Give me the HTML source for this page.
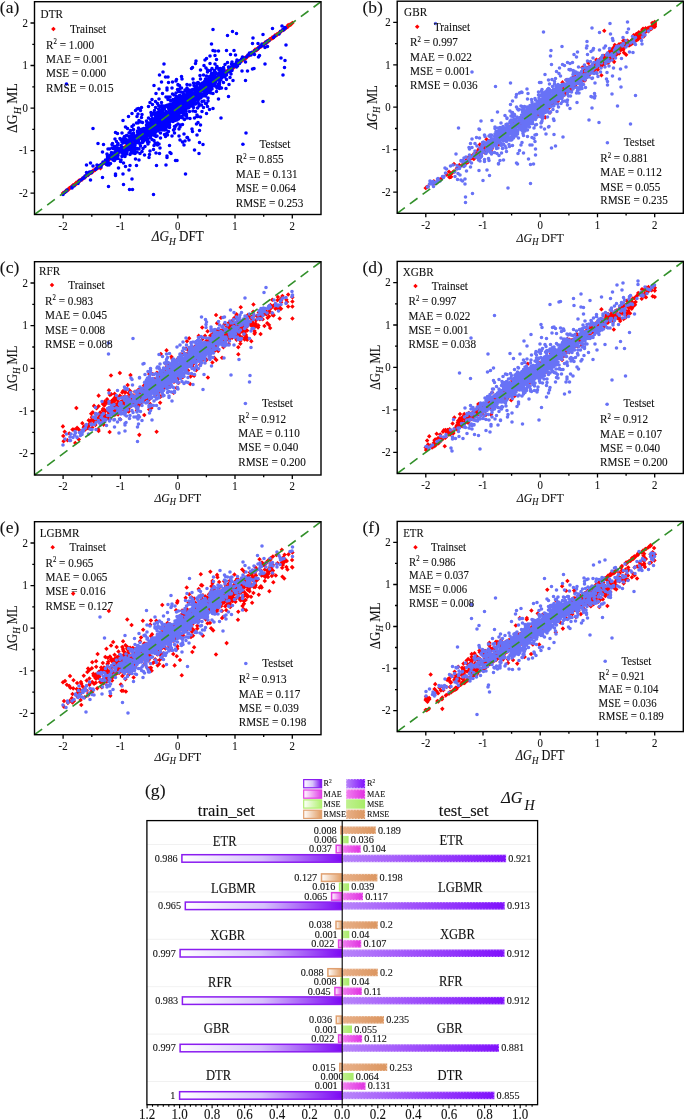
<!DOCTYPE html>
<html><head><meta charset="utf-8"><style>
html,body{margin:0;padding:0;background:#fff;}
svg{display:block;filter:blur(0.35px);}
text{font-family:"Liberation Serif", serif;fill:#111;stroke:#111;stroke-width:0.1px;}
</style></head><body>
<svg width="685" height="1120" viewBox="0 0 685 1120">
<rect width="685" height="1120" fill="#fff"/>
<path transform="rotate(45) scale(.5)" d="M362 184h0m1 0h0m0-1h0m0-1h0m0-2h0m1-1h0m0-1h0m-1-1h0m1-2h0m0-1h0m0-1h0m0-1h0m0-1h0m1-1h0m0-1h0m-1-1h0m1-1h0m0-1h0m0-3h0m0-1h0m1 0h0m0-1h0m0 2h0m-1-4h0m1-1h0m0-1h0m1-1h0m0-1h0m0-1h0m1 0h0m0-3h0m0-1h0m-1 0h0m-1 1h0m2-2h0m0-1h0m0-1h0m0-2h0m1 0h0m-2-1h0m1-1h0m0-1h0m1-1h0m0-1h0m0-1h0m1-1h0m0-2h0m-1 0h0m1-1h0m0-1h0m0-3h0m0-1h0m1 0h0m0-2h0m-1 0h0m1-1h0m0-1h0m1-3h0m0-1h0m0-3h0m1-3h0m0-1h0m0-1h0m1 0h0m-1-3h0m0-1h0m1 0h0m0-1h0m0-1h0m0-1h0m0-1h0m1 0h0m-1-2h0m1-1h0m0-1h0m0-2h0m0-1h0m-1 0h0m2-1h0m0-2h0m-1 0h0m1-1h0m0-1h0m0-2h0m0-1h0m0-1h0m0-1h0m1 0h0m0-1h0m0-2h0m0-1h0m0-2h0m0-1h0m1 0h0m0-1h0m0 2h0m-1 7h0m3 6h0m-4 4h0m3-26h0m0-3h0m-1 0h0m2 0h0m0-1h0m0-2h0m-1-1h0m5-19h0m-1-4h0m1-8h0m0-1h0m1 0h0m0-1h0m0-1h0m0-1h0m0-1h0m0-1h0m0-1h0m0-1h0m0-1h0m0-1h0m1 0h0m0-1h0m0-1h0m1-1h0m0-1h0m-1 5h0m0 1h0m0 1h0m0 2h0m-1 5h0m2-20h0m0-1h0m1 0h0m0-2h0m0-1h0m-1 0h0m0-2h0m1 0h0m0-1h0m0 2h0m2-8h0m0-3h0m0-1h0m0-3h0m23-154h0m0-1h0m5-33h0m1-1h0m-1-2h0m0-2h0m1 0h0m0-5h0m1-1h0m2-12h0m0-1h0m0-1h0m0-1h0m0-1h0m-1 0h0m1-2h0m0-1h0m0-1h0m1 0h0m0-1h0m0-2h0m-1 0h0m1-2h0m1-1h0m0-1h0m0-1h0m0-1h0m0-1h0m0-1h0m0-1h0m0-1h0m1 1h0m0 1h0m1 0h0m0 1h0m-1-5h0m0-1h0m-1 0h0m1-2h0m1 0h0m1-8h0m0-4h0m0-1h0m0-1h0m1-1h0m0-1h0m0-1h0m-1 0h0m1-1h0m0-2h0m0-1h0m0-1h0m0-1h0m1-1h0m0-1h0m0-1h0m0-1h0m0-2h0m1 0h0m0-1h0m-1-1h0m0-2h0m1-1h0m0-1h0m0-1h0m1 2h0m-1 2h0m0 4h0m0 2h0m0 3h0m-1 1h0m0 1h0m0 1h0m2-20h0m0-1h0m1-1h0m0-1h0m0-1h0m0-1h0m0-1h0m0-1h0m0-1h0m0-1h0m-1 0h0m1-2h0m1 0h0m1 0h0m-1-2h0m0-1h0m0-1h0m0-2h0m0-1h0m1-2h0m0-1h0m0-2h0m1-1h0m0-1h0m0-1h0m0-1h0m0-1h0m0-1h0m1-1h0m0-1h0m0-1h0m1 0h0m-2-1h0m1-1h0m0-1h0m0-1h0m0-2h0m1 0h0m0-1h0m0-2h0m0-1h0m1-1h0m0-1h0m0-1h0m-1 0h0m1-2h0m0-1h0m0-1h0m0-1h0m0-1h0m1 0h0m0 1h0m0 1h0m1-3h0m-1-2h0m0-2h0m1 0h0m0-1h0m0-1h0m-1 0h0m1 3h0m0-7h0m1-1h0m0-1h0m0 3h0m0-7h0m0-1h0m0-1h0m1 1h0m0 2h0m0-7h0m0-1h0m0-1h0m0-1h0m1 0h0m0-1h0m0-2h0m0-1h0m0-1h0m0-1h0m1 1h0m0-4h0m0-1h0m0-2h0m0-2h0m-1 0h0m2 0h0m0 1h0m0 2h0m0-6h0m0-1h0m1 0h0m0-1h0m0-2h0m0-1h0m0-1h0m-8 60h0m-1 3h0m0 2h0m-1 7h0m0 1h0m-1 5h0m-1 8h0m-11 74h0m-58 393h0" stroke="#ff0000" stroke-width="6.4" stroke-linecap="square" fill="none"/>
<path transform="scale(.5)" d="M126 389h0m3-4h0m3-2h0m2-3h0m10-4h0m0-2h0m4-2h0m0-1h0m8-4h0m2-4h0m2-2h0m2-1h0m4-3h0m0-1h0m1 0h0m1 0h0m2-2h0m0-2h0m1 1h0m4-4h0m1 1h0m3-3h0m0-1h0m0-2h0m3 0h0m1 1h0m1-2h0m7-4h0m2-2h0m3-3h0m2 0h0m0-1h0m1-2h0m2 0h0m0 1h0m1-1h0m0-1h0m0-1h0m1 1h0m-1 4h0m4-7h0m0-3h0m1 1h0m5 1h0m1 3h0m2 1h0m3 0h0m3-3h0m-5-3h0m-1 0h0m-1-2h0m2 0h0m-1-4h0m1-2h0m-1-2h0m0-3h0m-1-3h0m4 5h0m3 1h0m1-1h0m0-1h0m-1-2h0m4-1h0m1 3h0m1 1h0m0 1h0m2-2h0m0-3h0m2-1h0m3 0h0m0 4h0m0 1h0m0 1h0m2-3h0m0-5h0m0-1h0m-2-2h0m-1-2h0m-1 0h0m-2-3h0m-1-2h0m0-3h0m1 0h0m-4 4h0m-2-1h0m-5 2h0m-3 0h0m7 7h0m5 1h0m2-2h0m9-1h0m1 0h0m-2-3h0m2-3h0m3-2h0m1-1h0m-2-3h0m-7-1h0m1-3h0m-3-4h0m-3-5h0m10-1h0m2 3h0m2 0h0m0-1h0m3 1h0m1 1h0m1 4h0m2 0h0m2-1h0m0-1h0m0 3h0m4-1h0m0 2h0m3 0h0m1 2h0m0 1h0m-1 1h0m-2 1h0m-3 0h0m-1 5h0m-2 0h0m-1-1h0m-2 1h0m-2 3h0m0 1h0m0 1h0m0 5h0m1 0h0m-4-1h0m0 6h0m0 1h0m6 0h0m3-5h0m-1-3h0m2-1h0m-1-5h0m0-1h0m4 0h0m1 1h0m1-2h0m0-3h0m2 0h0m1 0h0m0-1h0m5 0h0m0-1h0m1 1h0m2-3h0m-3-2h0m1-1h0m2-2h0m1-2h0m0-1h0m1-2h0m-3 0h0m-1 1h0m0-4h0m-2 1h0m4 0h0m0-3h0m1 1h0m0-3h0m0-1h0m3 0h0m1 1h0m1 1h0m1 0h0m-4 0h0m1 4h0m0 3h0m2 0h0m1 0h0m-2 3h0m-1 1h0m4 1h0m1 0h0m1 0h0m0 2h0m1 4h0m-3 6h0m-3-1h0m-4-1h0m-1 6h0m-1 1h0m1 4h0m-4-1h0m-4-1h0m1-2h0m0-5h0m2 1h0m9 5h0m6 3h0m4-4h0m2-6h0m4-4h0m6-5h0m-1-4h0m3 0h0m-2-6h0m-4 1h0m-1-4h0m0-1h0m3-2h0m-1-3h0m1-1h0m-2-1h0m0-1h0m3 0h0m1-2h0m0-3h0m1 1h0m1-1h0m1 2h0m0 3h0m2 0h0m0-2h0m0-3h0m1 1h0m2-1h0m0 2h0m1 0h0m0-3h0m1 0h0m0-2h0m0-1h0m1-1h0m1-1h0m-2-1h0m-1-1h0m0-1h0m-2 0h0m0 1h0m-1 0h0m-4 0h0m-3 0h0m0-2h0m1-1h0m-3 0h0m0 5h0m-1 1h0m1 1h0m2 0h0m0 1h0m1 0h0m-2 2h0m-1 1h0m1 1h0m-5-1h0m-1-1h0m-2-1h0m-1-1h0m2-1h0m-5 2h0m-1 1h0m-1 1h0m0 2h0m1-1h0m1 2h0m2 1h0m0 2h0m3 0h0m1 1h0m1 0h0m-3 1h0m-1 1h0m0 2h0m0 1h0m0 2h0m1 0h0m2 2h0m0 4h0m-3 0h0m0-2h0m-1-1h0m-2-1h0m1-6h0m-3 0h0m0-1h0m-2 0h0m0-2h0m-1 0h0m0-2h0m-1-1h0m-1-1h0m0-2h0m1 0h0m1-6h0m-1-10h0m-3 0h0m-6 4h0m-3 3h0m3 6h0m0 7h0m0 1h0m-3 1h0m0 2h0m1 0h0m0 3h0m-5 0h0m-2 0h0m2 2h0m0 2h0m3-1h0m-1 5h0m-1 2h0m1 2h0m0 1h0m-5-5h0m-1-1h0m2 0h0m-7-2h0m-3-3h0m1-2h0m4-2h0m5-5h0m2-2h0m1-3h0m-6-4h0m-4-3h0m-5-13h0m11-8h0m7-6h0m7-6h0m3-3h0m3-1h0m4 4h0m2-6h0m1 14h0m-1 6h0m-1 9h0m3 1h0m9 0h0m2 1h0m3 0h0m-1 2h0m3-1h0m0-2h0m3 0h0m1 1h0m2 0h0m2 1h0m0 1h0m0 1h0m-1 0h0m0 1h0m1 2h0m0 1h0m3 0h0m0-2h0m1 0h0m1 0h0m0 1h0m0 3h0m0 2h0m-1 0h0m-1 0h0m0 2h0m-1 0h0m-1 0h0m0 1h0m1 4h0m-1 3h0m-3 0h0m-1-1h0m-2 1h0m-1 1h0m1 2h0m-4-1h0m-2-1h0m0 3h0m-2-1h0m4 3h0m1 2h0m3 4h0m4 2h0m2 5h0m5 0h0m-1 2h0m1 2h0m3-2h0m2 8h0m-1 11h0m-7-1h0m-5-7h0m1-8h0m-8 11h0m-1 7h0m-1 6h0m-9-5h0m-11 10h0m-7-2h0m2 13h0m-13 0h0m-9 2h0m-4-7h0m-6-3h0m1-3h0m-6-3h0m-5 0h0m-1 0h0m1 1h0m-2 3h0m-1 0h0m-2-1h0m-2-3h0m-2 0h0m-11 3h0m-6-16h0m2-15h0m-11-2h0m29 0h0m-1 2h0m11 7h0m9 3h0m0-15h0m2 2h0m-2-20h0m-9 1h0m-4-2h0m44 4h0m0 1h0m12 1h0m-1-6h0m-1-2h0m4 0h0m6-8h0m3 1h0m1 0h0m0 1h0m3 0h0m1 2h0m1-9h0m1-1h0m-2-2h0m0-5h0m2 0h0m1 0h0m-1-3h0m0-2h0m-4 2h0m-4-3h0m-4 6h0m-15-1h0m-4-8h0m2-5h0m27 1h0m0 2h0m-1-6h0m4 2h0m2-1h0m2 3h0m0 1h0m1 3h0m2-2h0m0-3h0m-1 0h0m0-1h0m3-2h0m2 0h0m3 0h0m2 1h0m2-2h0m1 0h0m1 2h0m0 3h0m-1 0h0m-4 1h0m0 1h0m-1 0h0m0 1h0m-2 0h0m1 3h0m1 1h0m0 1h0m-2 0h0m-1 0h0m-1-1h0m-2-1h0m0-1h0m1 0h0m-1 3h0m-4 1h0m0 2h0m0 1h0m-1 0h0m0 2h0m2 0h0m0-1h0m0-1h0m1 2h0m1 1h0m0 2h0m0 1h0m-2 0h0m0 1h0m-1 1h0m1-4h0m6-1h0m0-1h0m-1-2h0m1-2h0m3 0h0m2 2h0m0 2h0m-1 0h0m1 2h0m0 2h0m1 1h0m-2 2h0m0 1h0m-1 0h0m2 0h0m-3-2h0m0-3h0m6-3h0m1 0h0m1 1h0m1-1h0m0 2h0m-1 3h0m0 1h0m0 1h0m0 4h0m0 1h0m-2-1h0m2 4h0m-1 2h0m3 0h0m3-1h0m1-5h0m2-3h0m4 0h0m0-2h0m-2-1h0m-1-1h0m-1-3h0m0-2h0m0-2h0m-2 0h0m1-2h0m1 0h0m1-1h0m1 0h0m0-1h0m1 0h0m0 2h0m2-1h0m1-1h0m0-3h0m-1 0h0m-1 0h0m-2 0h0m0 1h0m-1 0h0m-2 0h0m-1-1h0m-2 0h0m0 2h0m0 1h0m0 2h0m-3 0h0m-1-1h0m-1 0h0m1-1h0m1-1h0m0-1h0m-3 0h0m-3 0h0m-1-1h0m1-1h0m0 4h0m1 0h0m0-1h0m2 5h0m2-1h0m2 2h0m2 2h0m0 4h0m1 2h0m7-5h0m0-1h0m0-1h0m1 1h0m-3-2h0m7 1h0m2 1h0m1-5h0m1-2h0m1 0h0m1-1h0m3 0h0m1 1h0m0-3h0m2 1h0m2 0h0m1 0h0m-1-3h0m-5-1h0m-2-1h0m-2 0h0m-1 0h0m0-2h0m0-1h0m-2 0h0m-1 0h0m-3 0h0m-1 1h0m0 1h0m-2-1h0m-1-1h0m-1-1h0m1-2h0m2 0h0m1 0h0m0-1h0m1-1h0m0 3h0m1 3h0m1 1h0m-1 2h0m-3 0h0m-3 0h0m-1 0h0m-1 1h0m0 2h0m-2-3h0m0-1h0m0-1h0m-1 0h0m2 1h0m0-5h0m-2-1h0m-3 4h0m0 5h0m0-14h0m-2 0h0m-3 1h0m-1 1h0m1 1h0m1-1h0m-6 1h0m-1-2h0m-1-1h0m0-7h0m3 2h0m1 0h0m2-2h0m0-6h0m-8 2h0m-4-4h0m-7-4h0m-4 6h0m5 4h0m-8 4h0m14 2h0m-2 6h0m6 8h0m11-15h0m2-2h0m4 0h0m1-1h0m1 2h0m2-3h0m4-2h0m0 5h0m4-1h0m1 0h0m0-2h0m-1 0h0m2 3h0m0 1h0m2-1h0m0-1h0m2 1h0m1 0h0m0-1h0m1-1h0m1-1h0m1-3h0m1 0h0m0-1h0m1-1h0m0-2h0m-2 0h0m-1-2h0m-3-1h0m-2 2h0m1 3h0m-3 0h0m0-6h0m-5 2h0m-5-2h0m0-5h0m-4 0h0m8 0h0m5-6h0m3 2h0m4-4h0m1 7h0m2 2h0m3-1h0m1 0h0m0-3h0m1 0h0m3 3h0m1 1h0m0 1h0m0 2h0m1 3h0m0 1h0m2 0h0m2 0h0m0-2h0m-1 0h0m0-2h0m0-3h0m-1 0h0m-1 0h0m0-3h0m1-4h0m-1-3h0m-4-1h0m-5-1h0m1-4h0m-3 0h0m5-2h0m3-1h0m-4-5h0m-3-1h0m0-1h0m-4-7h0m1-3h0m11-1h0m-1-5h0m11 16h0m0 7h0m2 4h0m0 1h0m0 3h0m-1 3h0m-1 0h0m-1 2h0m0 1h0m0 1h0m0 1h0m-1 2h0m-1 0h0m-1-4h0m6 2h0m2 2h0m0 3h0m0 2h0m2-1h0m0-1h0m1 2h0m1-1h0m2 0h0m1-1h0m0-2h0m-2-1h0m-1 0h0m2-1h0m0-3h0m-1 0h0m0-1h0m0-1h0m-2 0h0m0-2h0m-2 0h0m-1 2h0m5-2h0m0-3h0m0-3h0m2-1h0m3 1h0m3-1h0m3-1h0m2 0h0m0-2h0m-1-1h0m-2-1h0m0-2h0m-5-1h0m0-4h0m-1-1h0m7 0h0m2-1h0m1 1h0m1 2h0m3 0h0m0 5h0m2 0h0m0 1h0m2 0h0m0 1h0m1 1h0m-2 1h0m-1 0h0m-2-1h0m0 6h0m-1 0h0m-2 0h0m-1-1h0m0-2h0m-2 1h0m-1 1h0m0 4h0m2 0h0m0 1h0m-1 2h0m-2 0h0m0 2h0m0 4h0m2 0h0m2-3h0m1 0h0m0 1h0m0-4h0m2 0h0m0-3h0m0-1h0m-1-1h0m3-1h0m1-1h0m3 0h0m1 0h0m0 1h0m1-1h0m1 3h0m2 1h0m1-1h0m1-2h0m1-2h0m2-2h0m1-1h0m1-1h0m3-1h0m0-1h0m0-1h0m3 0h0m0-2h0m3-1h0m1 0h0m1 1h0m1 1h0m-1-5h0m-2 0h0m-1-2h0m-3-1h0m-3 0h0m-1 0h0m0 1h0m-1 0h0m-2 0h0m0 1h0m0 1h0m-2 1h0m-2 1h0m-2 1h0m0 2h0m-3 0h0m-1-2h0m-1-3h0m0-1h0m4 0h0m0 1h0m0-4h0m3 0h0m0 3h0m3-2h0m3-4h0m-1-2h0m1-3h0m1-2h0m1 4h0m0 4h0m0 1h0m0 4h0m0 2h0m-3 4h0m-6 2h0m-3 1h0m2 2h0m-2 10h0m-4 2h0m0 1h0m2 2h0m5 0h0m2-4h0m1-2h0m1-2h0m4 1h0m3 1h0m4 1h0m-2-9h0m-2 1h0m-1 1h0m-3 1h0m4-5h0m1-1h0m11 1h0m5 1h0m0-4h0m0-5h0m0-3h0m-3 4h0m0 1h0m-6-5h0m1-1h0m1-1h0m-5-1h0m-1-3h0m1-1h0m0-1h0m-1-2h0m1-1h0m2 0h0m0-3h0m-4 0h0m0-2h0m-2 0h0m0 1h0m0-3h0m4-1h0m2-3h0m0-2h0m2 4h0m1 2h0m2 1h0m2 0h0m1 3h0m-1 2h0m-1 1h0m0 1h0m1 0h0m0 1h0m-2 0h0m-2 0h0m-1 2h0m6 1h0m0-5h0m1 0h0m1-4h0m1-1h0m2-1h0m1 2h0m2 1h0m0 2h0m1-1h0m-2 3h0m-2 2h0m0 3h0m5 5h0m6-6h0m-3-5h0m0-5h0m1 1h0m2 0h0m-4-3h0m0-1h0m1-1h0m-2-1h0m-1 0h0m-2 0h0m-3 0h0m-4 2h0m0-6h0m-1-3h0m4 0h0m2 2h0m2 1h0m1 2h0m1-3h0m1 0h0m-1-4h0m3-6h0m5-4h0m9-1h0m0 4h0m-1 0h0m1 2h0m0 1h0m0 4h0m-1 0h0m-1 0h0m-4-1h0m-1 0h0m1 4h0m1-1h0m1 3h0m2 0h0m2 1h0m-5 1h0m0 1h0m1 1h0m-4 0h0m-1-1h0m7 5h0m-2 7h0m6 6h0m-8 8h0m-6 8h0m-9-1h0m-10 7h0m4 15h0m-21-2h0m0 6h0m-8 0h0m-4 1h0m-1 7h0m-5-2h0m0 4h0m-3 4h0m-8-1h0m-1-3h0m0-1h0m-2 0h0m0-2h0m-1 0h0m-2 0h0m-1 0h0m0-2h0m0-1h0m0-1h0m-1 0h0m2 0h0m2-1h0m-1-2h0m0-1h0m1 0h0m1 0h0m1-1h0m0-1h0m0 3h0m2-1h0m0-1h0m3 0h0m-1 2h0m0 5h0m2 0h0m0 1h0m1-2h0m4-2h0m1-5h0m-4 0h0m-1 0h0m1-1h0m-4-2h0m0-3h0m-2-1h0m-2-2h0m0-3h0m3 2h0m3-2h0m0-1h0m0-1h0m-1-2h0m0-8h0m-10-5h0m0 11h0m-2-1h0m-8 0h0m1 2h0m-1 17h0m2 2h0m2 0h0m0-1h0m0-1h0m0 3h0m0 2h0m0 1h0m-1 0h0m1 3h0m0 1h0m-1 1h0m-1 0h0m-4 0h0m1 1h0m0 2h0m-1 0h0m-1 0h0m-2-1h0m-2 0h0m0-2h0m0-1h0m-1 0h0m-1-2h0m2-1h0m1 0h0m0-1h0m0-1h0m-2-1h0m0-1h0m-3 2h0m-1 0h0m0 1h0m0 3h0m-2-1h0m0 2h0m0 2h0m1 0h0m0 3h0m-1 0h0m-1 1h0m2 0h0m0 1h0m0 1h0m-1 0h0m0 1h0m-1 0h0m0 1h0m1 1h0m1 0h0m0-1h0m1-1h0m0-1h0m1 2h0m0 2h0m-1 0h0m-4 0h0m-1-1h0m-1-1h0m-1-1h0m0-1h0m1-2h0m1 3h0m1-5h0m4 0h0m1-1h0m0 2h0m1 2h0m3 0h0m1 0h0m1 0h0m0 1h0m1 0h0m0 2h0m1 0h0m0 3h0m-3 0h0m0 3h0m1-1h0m0 2h0m2 2h0m2 0h0m0 2h0m4-2h0m0 4h0m1 4h0m6 1h0m9-1h0m5-3h0m2 0h0m-2-3h0m-3-7h0m-5-1h0m-7 1h0m-7-1h0m-1-1h0m-2 0h0m2-2h0m-2-3h0m0-1h0m4 0h0m3 1h0m2-1h0m-1-4h0m1-1h0m-1-2h0m1-1h0m-2-1h0m0-2h0m-8 0h0m0 1h0m-1 1h0m0 2h0m-2 0h0m-1 3h0m2 0h0m-1 3h0m-2 0h0m1 4h0m-3 1h0m-1 4h0m-1 1h0m1 2h0m2-2h0m-6-1h0m-1 2h0m-2 0h0m-1 0h0m-3-1h0m-1 0h0m-1-2h0m-1 0h0m0-1h0m1 0h0m-1-2h0m-1-2h0m-2 0h0m4 0h0m-2 6h0m5-1h0m0 9h0m-2 1h0m-2 0h0m0 3h0m-1 1h0m-1 1h0m-1-2h0m0-2h0m-1 0h0m9 5h0m2 1h0m1 1h0m-4 1h0m7-3h0m0-1h0m6-2h0m1 0h0m0-2h0m4 5h0m1 1h0m-4 10h0m-4 1h0m-1 4h0m-2 4h0m-9 0h0m-2 2h0m2 6h0m-5 6h0m-9-2h0m-1-4h0m3-3h0m2-8h0m10-2h0m1 1h0m2-3h0m4-3h0m-2-21h0m-15-7h0m-2-3h0m14-10h0m0-10h0m5 3h0m2-1h0m0-1h0m11 10h0m12 2h0m0 2h0m1 0h0m5-3h0m-2-3h0m14-11h0m2 0h0m0 1h0m1-1h0m9 12h0m2 0h0m2 6h0m-8 2h0m-3 8h0m9 4h0m6-8h0m7-2h0m16 19h0m-41-2h0m-5 11h0m-3 3h0m8 2h0m-2 11h0m-5 9h0m-9-7h0m-1-5h0m-16 10h0m6 7h0m1 0h0m3 5h0m-8 2h0m-5 2h0m-5-4h0m-2-8h0m-27 1h0m-2-4h0m-8-3h0m1-7h0m-1-2h0m-3-1h0m-2 6h0m-2 10h0m-2 1h0m-3-2h0m12 5h0m18 15h0m1 14h0m2 2h0m-8 5h0m0 3h0m-2 15h0m-19 1h0m38-10h0m3 0h0m17 27h0m-3-58h0m21 10h0m9 7h0m1-22h0m7 4h0m86-23h0m34-63h0m-35-42h0m4-19h0m-11 0h0m-11-8h0m0-1h0m-1-2h0m-1-3h0m3 0h0m-1-2h0m0-2h0m1-2h0m0-2h0m6 1h0m0 2h0m1 1h0m-3 1h0m1 2h0m-4 5h0m-9 2h0m0-5h0m5-19h0m-10-1h0m7-8h0m-15 0h0m-16 1h0m-7 0h0m-4-1h0m4 10h0m-10 1h0m-7 5h0m-3 3h0m-2 11h0m4 5h0m3 4h0m0 4h0m6-3h0m3-4h0m9-1h0m1-3h0m-4-5h0m-10-1h0m13-8h0m-10-31h0m3-29h0m29 12h0m10-8h0m8 4h0m33 9h0m-1 11h0m11 0h0m8 1h0m1 2h0m2-1h0m-4 3h0m-2 0h0m0 1h0m-4 3h0m-2 2h0m-5 3h0m-1 1h0m0 7h0m-7 1h0m-4 0h0m-2 0h0m4-2h0m-1-2h0m4-1h0m1 0h0m-11 9h0m-5 2h0m-1 2h0m-4 0h0m2-4h0m6 10h0m14 14h0m3-1h0m22-9h0m-13-14h0m2-3h0m11-16h0m5-2h0m-3-7h0m0-2h0m1 0h0m4-3h0m1 0h0m9-6h0m3-3h0m8-4h0m3-5h0m5-4h0m1 0h0m0 1h0m3-5h0m1 1h0m-7-4h0m-19 5h0m-19 12h0m46 21h0m-2 31h0m-8-5h0m7 19h0m-3 15h0m-142 6h0m-2-1h0m0 4h0m0 1h0m1 1h0m-12-2h0m0-1h0m2-6h0m-6-2h0m-7 1h0m1 7h0m-15 0h0m-3-21h0m2-2h0m6-8h0m1-5h0m9 18h0m-75 4h0m-7 6h0m12 4h0m5 0h0m1 11h0m8-1h0m-1 12h0m-10 0h0m0 4h0m-9 7h0m-13 0h0m6-9h0m-10-7h0m15-7h0m-5 34h0m-18 53h0m-14 33h0m-1 1h0m-25 24h0m-2 31h0m-12 8h0m-15 0h0m0 3h0m6-15h0m10 33h0m12 10h0m6 0h0m-1-21h0m-59-3h0m-24 5h0m-8-15h0m0-15h0m8-4h0m5 6h0m8-2h0m23 43h0m90 16h0m-121-132h0m-53-89h0m195-40h0m129 65h0" stroke="#0000ff" stroke-width="7.2" stroke-linecap="round" fill="none"/>
<line x1="34.5" y1="214.5" x2="321" y2="1.7" stroke="#32902a" stroke-width="1.6" stroke-dasharray="9.5 6.3"/>
<rect x="34.5" y="1.7" width="286.5" height="212.8" fill="none" stroke="#000" stroke-width="1.4"/>
<path d="M63.1 214.5v4M34.5 193.2h-4M120.4 214.5v4M34.5 150.7h-4M177.8 214.5v4M34.5 108.1h-4M235 214.5v4M34.5 65.5h-4M292.3 214.5v4M34.5 23h-4M91.8 214.5v2.2M34.5 171.9h-2.2M149.1 214.5v2.2M34.5 129.4h-2.2M206.4 214.5v2.2M34.5 86.8h-2.2M263.7 214.5v2.2M34.5 44.3h-2.2" stroke="#000" stroke-width="1.3"/>
<text transform="translate(63.1 229.7) scale(1 1.1)" font-size="10.8" text-anchor="middle">-2</text>
<text transform="translate(28 196.9) scale(1 1.1)" font-size="10.8" text-anchor="end">-2</text>
<text transform="translate(120.4 229.7) scale(1 1.1)" font-size="10.8" text-anchor="middle">-1</text>
<text transform="translate(28 154.4) scale(1 1.1)" font-size="10.8" text-anchor="end">-1</text>
<text transform="translate(177.8 229.7) scale(1 1.1)" font-size="10.8" text-anchor="middle">0</text>
<text transform="translate(28 111.8) scale(1 1.1)" font-size="10.8" text-anchor="end">0</text>
<text transform="translate(235 229.7) scale(1 1.1)" font-size="10.8" text-anchor="middle">1</text>
<text transform="translate(28 69.2) scale(1 1.1)" font-size="10.8" text-anchor="end">1</text>
<text transform="translate(292.3 229.7) scale(1 1.1)" font-size="10.8" text-anchor="middle">2</text>
<text transform="translate(28 26.7) scale(1 1.1)" font-size="10.8" text-anchor="end">2</text>
<text transform="translate(177.8 241.2) scale(1 1.1)" font-size="13.1" text-anchor="middle"><tspan font-style="italic">&#916;G</tspan><tspan font-style="italic" font-size="9.4" dy="3.1">H</tspan><tspan dy="-3.1"> DFT</tspan></text>
<text transform="translate(17.2 108.1) rotate(-90) scale(1 1.1)" font-size="13.7" text-anchor="middle">&#916;G<tspan font-style="italic" font-size="9.9" dy="3.3">H</tspan><tspan dy="-3.3"> ML</tspan></text>
<text transform="translate(-0.2 13.4) scale(1 1.0)" font-size="17.5" text-anchor="start">(a)</text>
<text transform="translate(40.6 18.2) scale(1 1.1)" font-size="11.2" text-anchor="start">DTR</text>
<path d="M53.4 28.9l.01 .01" stroke="#ff0000" stroke-width="3.2" stroke-linecap="square"/>
<text transform="translate(69.9 32.8) scale(1 1.1)" font-size="11.2" text-anchor="start">Trainset</text>
<text transform="translate(46.1 48.5) scale(1 1.1)" font-size="11.2" text-anchor="start">R<tspan font-size="6.8" dy="-4.2">2</tspan><tspan dy="4.2"> = 1.000</tspan></text>
<text transform="translate(46.1 62.8) scale(1 1.1)" font-size="11.2" text-anchor="start">MAE = 0.001</text>
<text transform="translate(46.1 77.1) scale(1 1.1)" font-size="11.2" text-anchor="start">MSE = 0.000</text>
<text transform="translate(46.1 91.7) scale(1 1.1)" font-size="11.2" text-anchor="start">RMSE = 0.015</text>
<circle cx="242.9" cy="144.2" r="1.8" fill="#0000ff"/>
<text transform="translate(259.4 147.8) scale(1 1.1)" font-size="11.2" text-anchor="start">Testset</text>
<text transform="translate(235.7 163.2) scale(1 1.1)" font-size="11.2" text-anchor="start">R<tspan font-size="6.8" dy="-4.2">2</tspan><tspan dy="4.2"> = 0.855</tspan></text>
<text transform="translate(235.7 177.8) scale(1 1.1)" font-size="11.2" text-anchor="start">MAE = 0.131</text>
<text transform="translate(235.7 192.1) scale(1 1.1)" font-size="11.2" text-anchor="start">MSE = 0.064</text>
<text transform="translate(235.7 206.5) scale(1 1.1)" font-size="11.2" text-anchor="start">RMSE = 0.253</text>
<path transform="rotate(45) scale(.5)" d="M868 -338h0m0 2h0m1-5h0m4-12h0m-3-4h0m6-11h0m1-5h0m2-12h0m7 0h0m1-2h0m1-1h0m-4-5h0m0-2h0m0-2h0m0-2h0m1-1h0m-1-8h0m-1-8h0m3 0h0m1-7h0m0-2h0m-2-2h0m1-6h0m4 2h0m0 2h0m1-3h0m-1-6h0m0-2h0m-2 0h0m-3-1h0m3-3h0m1 0h0m1-1h0m0-1h0m-2-1h0m1-1h0m0-1h0m-1-1h0m2 0h0m-1-2h0m0-2h0m1-1h0m2 0h0m0 2h0m-1 1h0m2 2h0m1-3h0m1 0h0m2-2h0m-4-2h0m0-1h0m-1-1h0m-1-1h0m-2-1h0m-1 3h0m0 1h0m0-9h0m1 1h0m2 0h0m1-1h0m0-1h0m0-1h0m3-2h0m0-2h0m-1-1h0m0-1h0m-1-1h0m3 0h0m0-1h0m0-1h0m-1 0h0m2 0h0m0 1h0m1 1h0m-1 2h0m0 2h0m0 2h0m1-1h0m1-2h0m2 2h0m-2 10h0m-4 1h0m-1-2h0m-1-1h0m-4-11h0m1-4h0m1-2h0m-1-2h0m4-1h0m1 1h0m-1 2h0m3-10h0m3-2h0m-8 0h0m-1-1h0m-6 1h0m12-6h0m-2-11h0m10-6h0m0-7h0m-1 0h0m-5-20h0m-1-10h0m3 0h0m2-1h0m2-6h0m0-1h0m0-3h0m1-2h0m1 1h0m1 0h0m0-3h0m3 0h0m-1 2h0m1 1h0m1 2h0m-3 2h0m0 2h0m1 1h0m-4-18h0m-5-19h0m20-3h0m3 0h0m2-4h0m11-5h0m0-14h0m-11-1h0m3-4h0m1-11h0m-6 0h0m1 2h0m-14-2h0m1 15h0m0 3h0m1 0h0m1 1h0m0 1h0m1 0h0m0-1h0m0-2h0m0-1h0m1 0h0m0 1h0m0 1h0m1 0h0m0-1h0m0-1h0m1 0h0m0 2h0m0 1h0m-1 0h0m-1 1h0m0 1h0m-1 0h0m-1 1h0m0 2h0m1 0h0m0-1h0m1 0h0m0-1h0m1 0h0m0-1h0m1 0h0m0-1h0m-1 3h0m-1 1h0m2 0h0m-8-1h0m19-33h0m3-1h0m0-16h0m0-1h0m-1-1h0m-3-1h0m0-1h0m0-1h0m-1 0h0m0-1h0m-1 0h0m-2 0h0m0-1h0m-1 0h0m-1 0h0m-1 0h0m0 1h0m1 1h0m0 1h0m1 0h0m0-1h0m0-3h0m0-1h0m0-1h0m-1 0h0m0-1h0m0-1h0m-1 0h0m-1 0h0m-1-1h0m0-1h0m1 0h0m1 1h0m1 0h0m0-1h0m0-1h0m1 0h0m0-1h0m1 0h0m0 1h0m0 1h0m-1 0h0m1 1h0m0 1h0m0 1h0m0 1h0m0 1h0m0 1h0m1 0h0m0-1h0m0-1h0m1 0h0m0-1h0m0-2h0m-1 0h0m0-1h0m2-3h0m0-1h0m1-1h0m0 2h0m1 0h0m1-1h0m0-1h0m0-1h0m1 0h0m1 1h0m0 2h0m-1 1h0m1 1h0m3-2h0m0-6h0m-6 0h0m-1 0h0m0 1h0m-1 0h0m2 1h0m1-1h0m-5-5h0m-1-4h0m3 1h0m6-1h0m0 2h0m3-1h0m-3-4h0m0-2h0m1-3h0m1-10h0m0-1h0m0-1h0m-1-1h0m2 3h0m1 0h0m1-1h0m3-1h0m-2-7h0m-7 0h0m-1-1h0m-1 0h0m0-1h0m0-1h0m-1 0h0m0-2h0m0-1h0m1-1h0m1 0h0m0-1h0m1 0h0m0-1h0m0 2h0m0 1h0m-1 0h0m1 1h0m0 1h0m0 1h0m-1 1h0m0 3h0m0 1h0m-1 0h0m-6 3h0m1 10h0m-3 0h0m-2 4h0m1 3h0m2-2h0m-9 12h0m-2 9h0m5 3h0m1 7h0m0 1h0m1 1h0m1 1h0m0-4h0m5 1h0m1-2h0m1-1h0m1 0h0m0-1h0m0 4h0m1-1h0m1 3h0m2-2h0m1 0h0m-7 3h0m2 3h0m-6-16h0m0-50h0m2 1h0m1-1h0m2 2h0m1-1h0m1-2h0m-1-2h0m-1 0h0m-1-2h0m2-6h0m7 0h0m2-1h0m0-1h0m2 0h0m0 2h0m1 0h0m-3 1h0m1 1h0m0 2h0m-1 0h0m0 1h0m-1 0h0m-1-1h0m0 2h0m0 1h0m-1 1h0m-1 1h0m0 3h0m0 1h0m1-1h0m1 1h0m0 1h0m0 1h0m0 2h0m-1 0h0m-1-1h0m3-3h0m0-1h0m2 1h0m0 1h0m1-2h0m0-18h0m-1 0h0m-1 0h0m-1 0h0m-1 0h0m-1 0h0m0-1h0m0-1h0m-1 0h0m-1-1h0m-2 0h0m0 1h0m1 1h0m0 1h0m3 2h0m1-1h0m1 0h0m1 0h0m-1-2h0m-1 0h0m0-3h0m-1 0h0m-1 0h0m0-1h0m0-1h0m0-1h0m0-1h0m-1 0h0m-2 0h0m0 3h0m4 0h0m0-1h0m1 0h0m0 1h0m1 0h0m0 1h0m0 1h0m1 0h0m0-1h0m0 2h0m1 1h0m1-1h0m0-1h0m0-1h0m1 0h0m-2-1h0m0-1h0m-1-1h0m0-1h0m-1 0h0m-1 0h0m0-1h0m0-1h0m2-1h0m1 0h0m0-1h0m1 0h0m0 1h0m0-3h0m-1 0h0m-1 0h0m-2 0h0m0-1h0m1-1h0m1 0h0m0-1h0m1 0h0m0-1h0m0-1h0m0-1h0m0-1h0m0-1h0m-1 0h0m-1 0h0m-1 1h0m-2-1h0m1-2h0m3 0h0m0 1h0m1-1h0m0-1h0m0-1h0m-1 0h0m0-1h0m-1-1h0m1-1h0m0-1h0m1 1h0m0 1h0m1 0h0m0-2h0m1-1h0m1 0h0m0 1h0m1 0h0m-2 1h0m0 2h0m0 2h0m-1 0h0m1 2h0m0 1h0m1 0h0m0-1h0m0-1h0m0 3h0m0 1h0m-2 0h0m0 1h0m0 1h0m1 0h0m0 2h0m-2 0h0m3 1h0m1 3h0m1 0h0m1 1h0m-4 3h0m0 1h0m-2-1h0m-1-1h0m-2-9h0m1-1h0m-4 0h0m1-8h0m0-2h0m2-3h0m3 0h0m1-3h0m1 0h0m0 1h0m1 0h0m0-1h0m0 2h0m1-1h0m0-2h0m0-1h0m-1-2h0m-1 0h0m-1-1h0m0-2h0m0-3h0m1 0h0m0-2h0m-1 0h0m-1 0h0m0 1h0m-4 0h0m1-4h0m0-5h0m-2-5h0m8-1h0m1-1h0m0-1h0m1-1h0m2 0h0m1 0h0m0-2h0m-1 0h0m-1 0h0m0-2h0m0-1h0m-1 0h0m-1-1h0m-1 0h0m-1 1h0m-1 2h0m-1 1h0m7-2h0m0-1h0m0-1h0m1-1h0m1 0h0m0-1h0m0 2h0m1 0h0m0 1h0m0 1h0m1 0h0m0 3h0m3 0h0m-3 4h0m-2 1h0m-1 1h0m-1 0h0m0 1h0m1 0h0m1 0h0m0 1h0m0 3h0m-3 0h0m0 1h0m-1 2h0m0 1h0m0 1h0m-1 0h0m-1 0h0m0 1h0m-1 0h0m2 0h0m0 2h0m1 0h0m0-1h0m1 0h0m0 2h0m-1 0h0m0 1h0m0 1h0m-1 0h0m0 3h0m-1 0h0m2 0h0m2-1h0m0 3h0m0 1h0m-1 1h0m2 1h0m0-3h0m2 1h0m2 1h0m-3 3h0m-4 0h0m5 4h0m1 4h0m-3 7h0m-2 0h0m-2-3h0m-14 8h0m-7 16h0m-2 15h0m25-19h0m13 3h0m-1-37h0m-9-8h0m0-3h0m0-2h0m1 1h0m1-1h0m-1-4h0m-3 2h0m-6-2h0m3-5h0m0-3h0m2 0h0m0-1h0m0-1h0m1 1h0m6 7h0m6-8h0m6 0h0m-13-10h0m-2-2h0m-2 0h0m2-2h0m0-1h0m0-1h0m-1 0h0m0-3h0m1 1h0m1 1h0m0-3h0m-1-1h0m-2 0h0m-1-1h0m-1 3h0m-3 1h0m-2 2h0m4 1h0m7 0h0m-1 2h0m5-4h0m1-4h0m-4 0h0m0-1h0m-1 0h0m0-2h0m0-2h0m0-1h0m1-1h0m0-1h0m-1-1h0m1-1h0m1 0h0m1 0h0m0 1h0m1 0h0m0-1h0m2 0h0m-1 2h0m-1 2h0m-2 0h0m0 1h0m1 2h0m3-2h0m0-8h0m1-1h0m1-3h0m-4 0h0m-3 0h0m0 2h0m1 0h0m0-1h0m0 2h0m0 2h0m-2-1h0m-2-3h0m-2-1h0m2-6h0m2 0h0m2-2h0m1 0h0m2 0h0m0-2h0m-1 0h0m2 0h0m1 0h0m0-1h0m-1-1h0m-2-1h0m-1 0h0m1-1h0m0-2h0m-1 0h0m0-1h0m-1-1h0m-2-3h0m0-2h0m3 1h0m3-1h0m0-1h0m2 0h0m0-1h0m1-2h0m2 0h0m0-4h0m-3 0h0m0-1h0m0-1h0m-1 0h0m3 0h0m0-1h0m0-1h0m0-1h0m-1 0h0m0-1h0m1 0h0m1-3h0m0-3h0m1 0h0m0-1h0m-1-1h0m-1 0h0m0-1h0m-1-1h0m-1-1h0m-1-1h0m-2 5h0m8 1h0m1 1h0m-2 7h0m-6 5h0m0 1h0m1 1h0m-4 1h0m1 1h0m4 7h0m-1 3h0m-1 0h0m-1 1h0m2 1h0m1-1h0m1 4h0m-1 3h0m1 2h0m-4 1h0m0 1h0m-3 0h0m0 1h0m1 5h0m-4-14h0m13-1h0m-26 70h0m-1 4h0m-37-26h0m12 310h0m-4 16h0m2 4h0m-25 7h0m9 29h0m3 0h0m0-2h0m-6 26h0m-15 11h0m4 18h0" stroke="#ff0000" stroke-width="6.4" stroke-linecap="square" fill="none"/>
<path transform="scale(.5)" d="M855 374h0m1 0h0m3-6h0m2-1h0m0-3h0m-1-2h0m6 1h0m1 3h0m-3 2h0m3 5h0m5-6h0m0-1h0m0-2h0m3 0h0m0-6h0m1-1h0m4 5h0m5-9h0m2 0h0m1 0h0m-1 2h0m4-9h0m2-8h0m-3-2h0m11-4h0m5-2h0m8 1h0m0 7h0m5-1h0m1-3h0m8-1h0m2-2h0m-1-8h0m-3 1h0m0-3h0m-4 0h0m0 1h0m6-6h0m4-2h0m8 0h0m1 1h0m-2 1h0m-2 4h0m-1 1h0m3 1h0m-6 1h0m10 3h0m-2 8h0m-8 8h0m-3 16h0m-5 4h0m-3-2h0m-7-1h0m-5-6h0m-1-9h0m7 3h0m4 3h0m10 18h0m1 26h0m0 11h0m14-18h0m21-26h0m13-10h0m-5-11h0m-16 1h0m1-20h0m1 1h0m-3-2h0m-2-5h0m-1 0h0m-3-1h0m0-1h0m-5-1h0m2-4h0m2-6h0m8 2h0m-2 4h0m0 2h0m-1 1h0m8-1h0m0 3h0m-2 2h0m2-9h0m4-2h0m-1-4h0m-2 0h0m-3 1h0m-1-5h0m4-2h0m1-1h0m1-1h0m-2-1h0m1-6h0m2-1h0m1 1h0m1 0h0m1 4h0m4-1h0m0 4h0m0 4h0m3-1h0m1-3h0m1 1h0m0 5h0m-1 3h0m2 0h0m1 4h0m2 0h0m0 3h0m6-3h0m5 2h0m4 4h0m5-5h0m2-9h0m-2-6h0m-1-1h0m0-4h0m-6 0h0m-2-2h0m-4 0h0m0-2h0m-1-1h0m1-1h0m-4 0h0m0-1h0m1 0h0m0 5h0m4 1h0m1 4h0m1 2h0m-1 2h0m1 4h0m3-1h0m-11-2h0m-2-2h0m1-1h0m0-1h0m0-1h0m-2-1h0m-4-3h0m-3 0h0m2-3h0m4 0h0m2-1h0m0-4h0m-1-2h0m-2-2h0m-2-1h0m2-2h0m3 0h0m6 3h0m3 0h0m3 0h0m2-1h0m-1-2h0m0-3h0m2-3h0m-1-2h0m-5 1h0m0 2h0m1-1h0m-3 4h0m0-11h0m1-1h0m-1-2h0m6 2h0m4-1h0m1 1h0m4-1h0m1-1h0m0-1h0m0 4h0m2 2h0m1 1h0m0 2h0m-2-1h0m-2 1h0m-1-2h0m-2 1h0m-1 6h0m1 2h0m0 3h0m3 0h0m1 0h0m0 1h0m0-3h0m-1-2h0m0-2h0m4 0h0m0 2h0m-1 0h0m2 4h0m1 1h0m3 0h0m2 0h0m2 3h0m2 2h0m1 0h0m0 2h0m-2 0h0m4 0h0m1-1h0m0-4h0m-1 0h0m-1 0h0m3-2h0m1 1h0m1 2h0m-1-7h0m1-3h0m1-1h0m-1-2h0m0-3h0m0-1h0m-1 0h0m-1-1h0m-1 0h0m-1-1h0m0 2h0m0 2h0m-2 0h0m0 2h0m-3-1h0m0 2h0m-4 0h0m1-1h0m-3 0h0m-1 0h0m2-2h0m1-2h0m0-1h0m0-3h0m-3 1h0m-1 0h0m7 0h0m3 0h0m0-2h0m1 1h0m4-1h0m1 1h0m0 1h0m-1 1h0m2 0h0m2-1h0m3 0h0m-1-2h0m0-3h0m1-1h0m0-2h0m1 0h0m1 0h0m0-2h0m2 1h0m0 3h0m0 1h0m0 3h0m1-1h0m-4 0h0m0-1h0m-7 0h0m-3-1h0m0-3h0m-3-3h0m0-2h0m1-1h0m1-2h0m3 2h0m4 0h0m0 1h0m2 0h0m0-3h0m-2 0h0m-1 0h0m3-2h0m1 0h0m0 3h0m1 1h0m3 1h0m3-3h0m2 1h0m0-3h0m-1-1h0m0-1h0m0-1h0m-2 1h0m4 0h0m1 3h0m0 1h0m1 0h0m1 0h0m1-2h0m1 0h0m2 2h0m0 4h0m1 0h0m1 0h0m-4 0h0m-1-1h0m-3 0h0m0 3h0m2 0h0m0 2h0m2 0h0m0-2h0m2 4h0m1 2h0m1 0h0m4 0h0m1-3h0m2 0h0m1-4h0m4 0h0m0 2h0m2 0h0m0-3h0m0-4h0m-1-2h0m0-2h0m-4-1h0m0-1h0m1 0h0m-4 0h0m-1 0h0m0-1h0m0-2h0m-1-1h0m2 0h0m2 0h0m1 1h0m1-1h0m0-2h0m1 1h0m1 0h0m0-1h0m-1-2h0m-3 0h0m0-1h0m-2 0h0m-1 0h0m1 1h0m0 1h0m-2 0h0m-1-1h0m-3 0h0m-3 0h0m-1-2h0m-2 0h0m1-2h0m1 0h0m0-1h0m2 0h0m-1-4h0m1-4h0m-5 0h0m-2-1h0m2 7h0m-6 0h0m-1 1h0m-2-2h0m-2-4h0m-12-5h0m4-7h0m7-8h0m1-5h0m6-3h0m2-1h0m2-1h0m1 1h0m12 2h0m-2-9h0m1 20h0m8 1h0m1 5h0m0 5h0m-4 2h0m-2 3h0m-1 0h0m-3 0h0m1 5h0m1-1h0m1 2h0m-1 2h0m-1 0h0m-2 0h0m6 0h0m1 1h0m-2 1h0m0 4h0m0 5h0m-1 3h0m-1 0h0m0 1h0m-1 0h0m0-2h0m-1 0h0m-2-1h0m0 2h0m0 1h0m-2-2h0m-1-2h0m0-2h0m0-1h0m1-2h0m-4 1h0m-1 2h0m-2-1h0m-9 4h0m-8 0h0m-2-2h0m-2 0h0m6-1h0m1-2h0m-5-3h0m1-1h0m-5-3h0m-10 9h0m4 5h0m0 1h0m0 11h0m-2 1h0m4 2h0m-1 9h0m2 0h0m-2 6h0m0 1h0m-2 2h0m5-1h0m1 0h0m0-1h0m1 0h0m1 1h0m2-1h0m1-3h0m5-2h0m2 0h0m2 2h0m0 3h0m2 1h0m0-3h0m0-4h0m1 0h0m3-5h0m5 0h0m2 0h0m1 1h0m-2 1h0m-2 2h0m2 2h0m5 0h0m5-2h0m-3-4h0m0-9h0m2-1h0m1-5h0m1 0h0m0-3h0m5 3h0m1-10h0m1 0h0m1 0h0m3 1h0m2 0h0m0 1h0m0 1h0m0 1h0m2 1h0m1 0h0m1-1h0m1-1h0m-3-1h0m0-4h0m0-1h0m-2 0h0m0 1h0m-1 1h0m-1-3h0m-1-2h0m0-1h0m-1 0h0m-1 0h0m0 1h0m-2-4h0m1-1h0m1-1h0m2 1h0m2 0h0m0-1h0m1-2h0m0-1h0m-2-1h0m-2 0h0m-4 2h0m-2 0h0m12 0h0m0 3h0m-1 0h0m-1 1h0m1 1h0m0 2h0m1 0h0m0 1h0m1 1h0m2 0h0m0-2h0m0-2h0m-1 0h0m-1 0h0m2-1h0m0-1h0m-1-1h0m2 0h0m2-1h0m1 0h0m0-2h0m-4 0h0m-1 0h0m-1-2h0m0-2h0m-3-1h0m0 2h0m1-3h0m0-1h0m0-1h0m4-1h0m2 0h0m0-1h0m1-1h0m-2-1h0m1-2h0m-5-2h0m-1-3h0m8-1h0m1 2h0m4 3h0m0 1h0m0 2h0m0 1h0m0 1h0m0 1h0m0 1h0m2 1h0m0-3h0m1-1h0m1 0h0m2-1h0m1 0h0m0 1h0m1-1h0m0-2h0m1 1h0m1 1h0m0 1h0m2 0h0m0 2h0m-3 0h0m0 1h0m-2 0h0m-2 0h0m-1 2h0m-2 4h0m0 4h0m0 1h0m-1 1h0m-2 1h0m-1 1h0m1 2h0m-2 1h0m-1 1h0m-1-2h0m0-3h0m-3-6h0m3-3h0m4 4h0m7-2h0m1 0h0m1 0h0m0 2h0m-1 1h0m2 1h0m0 2h0m2-1h0m0 2h0m1 0h0m0-1h0m-2 3h0m1 1h0m-4 0h0m0 1h0m-4 2h0m-1 0h0m-1 0h0m0 1h0m0 1h0m2 1h0m0 5h0m-1 2h0m-3-3h0m-2-1h0m1-1h0m-1-3h0m1-2h0m-9 2h0m-2 9h0m1 1h0m0 11h0m2-1h0m-5 7h0m-9-2h0m-14-1h0m-1 0h0m0-1h0m-6-3h0m-9-1h0m-1 12h0m1 8h0m3 4h0m5 4h0m10-5h0m-1-4h0m9 6h0m9 2h0m4 2h0m2 6h0m-6 7h0m-4 0h0m-18 0h0m2-5h0m-5 16h0m-3 6h0m11-1h0m10 12h0m4 11h0m6-1h0m4-18h0m0-12h0m-1-28h0m3-1h0m19-1h0m-3-10h0m-7-4h0m0-8h0m1-1h0m1-3h0m11-8h0m4-8h0m2-2h0m5-5h0m1-7h0m1-1h0m2-4h0m0-4h0m-2-2h0m-2-1h0m-1-1h0m-2-1h0m-1-1h0m-1 0h0m0-1h0m-1 0h0m0-1h0m-1-1h0m-1-1h0m-3 0h0m0-2h0m-2 0h0m-2 1h0m1 2h0m1 0h0m-1 3h0m0 2h0m-1 0h0m2 2h0m2 1h0m1 1h0m2 0h0m-1 2h0m2 1h0m0 1h0m1 0h0m2-1h0m1 0h0m0-1h0m-1-1h0m-1-2h0m2 0h0m1-1h0m-2-1h0m-2 0h0m-1 0h0m-2 0h0m3-1h0m0-1h0m-1-1h0m2 2h0m0-5h0m0-1h0m2 0h0m0 1h0m0 1h0m3 0h0m0-2h0m0-1h0m1 2h0m1-1h0m1-2h0m-1-2h0m-1-3h0m2-1h0m2-1h0m0-2h0m1-3h0m-5 0h0m-3 3h0m1 1h0m-5 1h0m0 2h0m-5 0h0m-2 2h0m4 2h0m7 0h0m8 0h0m1 1h0m0 1h0m2 0h0m0 1h0m0 3h0m-2 0h0m1 1h0m0 1h0m0 1h0m0 1h0m3-1h0m0-2h0m2 0h0m-1-4h0m0-1h0m1 0h0m0-2h0m1 1h0m0-3h0m1-1h0m2 0h0m0-1h0m0-1h0m1 1h0m0 2h0m1 0h0m-1 2h0m-2-1h0m0 4h0m1 1h0m1 3h0m1 6h0m5-1h0m3 1h0m1 1h0m1-4h0m0 10h0m5 7h0m-23-3h0m-2-6h0m7-1h0m-17-4h0m1-1h0m4-4h0m1-5h0m1 1h0m2-4h0m1-1h0m0-1h0m1-2h0m2 1h0m0-3h0m1-1h0m1 0h0m0 1h0m1-2h0m0-2h0m1 0h0m0-1h0m1 2h0m3 3h0m0 2h0m1-3h0m1-1h0m1-1h0m1 0h0m1 0h0m0-4h0m0-1h0m0-2h0m1 0h0m3-2h0m2 0h0m0 1h0m1-3h0m1-2h0m2 0h0m2-1h0m1 2h0m2-1h0m0-1h0m0 3h0m0 3h0m-1 0h0m0 1h0m-2-2h0m-2 1h0m-1-2h0m-2-5h0m1-1h0m-3-1h0m1-1h0m-2-2h0m0-2h0m-3 1h0m2 7h0m1 1h0m-6 0h0m1 1h0m-5 0h0m-1 0h0m1 2h0m-4 0h0m1 4h0m-2 2h0m-2 0h0m-2 1h0m0-3h0m-3-1h0m-1 0h0m1-2h0m3-2h0m0-1h0m-7-1h0m0-5h0m2-6h0m-7 2h0m-7 1h0m2 8h0m-2 9h0m-2 2h0m-1 2h0m4 2h0m1-4h0m2 2h0m4-8h0m6 14h0m2-2h0m2-2h0m1-1h0m1 0h0m17 0h0m1 0h0m0 1h0m1-1h0m0-2h0m0-2h0m-2 0h0m-1 1h0m2-2h0m3 4h0m0 2h0m5 1h0m3-6h0m1-2h0m6-1h0m3 3h0m1 1h0m-2 2h0m-2 5h0m5 0h0m2-8h0m-1-3h0m2-1h0m2-2h0m-3-3h0m-1-2h0m-5 0h0m1-1h0m1-1h0m0-4h0m-2-1h0m-1-3h0m1-1h0m-4 0h0m1-1h0m0 3h0m-2 0h0m0 1h0m0 2h0m-2-1h0m0-2h0m0-2h0m-2 1h0m-2-1h0m-3 2h0m4 3h0m2 1h0m1 1h0m0 1h0m3-1h0m2 1h0m-3 5h0m15-3h0m3 3h0m4 6h0m-7 2h0m-2-16h0m-1-3h0m-3-1h0m1-3h0m1 0h0m-2-2h0m-2-1h0m0-5h0m-4 1h0m0-3h0m-5 1h0m1-3h0m-2-1h0m-6-1h0m1-1h0m-3 0h0m2-12h0m-5-2h0m10 0h0m3-16h0m5 5h0m2-10h0m20 5h0m0 13h0m6 1h0m7 2h0m-3 4h0m-1 2h0m3 3h0m2 2h0m1-1h0m3-1h0m1-5h0m2-1h0m0-4h0m-2 0h0m3-1h0m-1-2h0m3 3h0m1 0h0m0-1h0m3 3h0m0-7h0m-1-2h0m1-2h0m2-4h0m8-1h0m4 1h0m3-1h0m3-1h0m1-1h0m0-1h0m5 0h0m1 1h0m-2 4h0m-3 1h0m-1 7h0m-9 0h0m1-2h0m2 5h0m-4 1h0m-3 3h0m-1-6h0m0 13h0m-8 2h0m-1 8h0m-9 1h0m2 2h0m-6 0h0m-3-1h0m-4-1h0m-1 2h0m-5 1h0m-2 3h0m-4-1h0m0-1h0m-2 4h0m-1 0h0m-2-1h0m-1-1h0m0-1h0m-1-2h0m-2 0h0m3-4h0m0-1h0m2-6h0m6-2h0m-2-5h0m9 4h0m1 1h0m-2 1h0m-1 3h0m-2 1h0m1 2h0m-4 0h0m8 0h0m6-2h0m1-1h0m-4-3h0m15-5h0m21 1h0m9 4h0m14 2h0m11-4h0m-9-17h0m-12-1h0m0-15h0m-2 0h0m0-1h0m1 0h0m1-3h0m3 0h0m-1-4h0m3 1h0m1-2h0m6-2h0m2 2h0m2-5h0m5-6h0m-6-6h0m8-10h0m3-7h0m-2-14h0m-35 3h0m1 21h0m4 9h0m1 4h0m-7 16h0m-11-1h0m3-4h0m4 14h0m-16-6h0m-13 0h0m1-3h0m-5 6h0m-9-7h0m1-4h0m0-9h0m10-27h0m15 9h0m-13 51h0m-1 40h0m-1 1h0m-6-3h0m-7 1h0m-1 0h0m-2 0h0m4 1h0m-2 4h0m-6-3h0m-18-8h0m11-15h0m-28-3h0m-4-2h0m-6 7h0m-1 11h0m3 5h0m-8-9h0m-10-14h0m-2-17h0m1-11h0m22-8h0m-37-29h0m3 85h0m-8 16h0m-3 0h0m5 14h0m-1 3h0m1 3h0m1 1h0m2 1h0m3-3h0m-13 0h0m0 6h0m3 1h0m2-1h0m4 3h0m0 4h0m-1 0h0m1 1h0m-2 3h0m4 0h0m6-4h0m0 14h0m-1 1h0m-1 0h0m3 2h0m4-1h0m1-2h0m2 2h0m-14 8h0m-7-15h0m-1-1h0m34 18h0m-7 15h0m1 3h0m-10 12h0m-1 1h0m11 15h0m18 5h0m-15 18h0m-8 4h0m-78-5h0m-6 2h0m-1-4h0m-8 3h0m2 4h0m1 7h0m0-20h0m1-5h0m-5 1h0m-2 2h0m-2-4h0m-6 1h0m0 2h0m2 0h0m-4-1h0m-1-1h0m-1-1h0m-1-1h0m0 4h0m1 1h0m2 1h0m1-6h0m9 12h0m-20 2h0m-4 8h0m-10 2h0m1 4h0m-2 3h0m-3 12h0m0 4h0m9-2h0m-1-4h0m23 4h0m7-1h0m-10 7h0m0 1h0m36-2h0m2 2h0m26 39h0m-45 9h0m-77-66h0m0-12h0m-1-3h0m6 0h0m-3-8h0m9 0h0m4 5h0m-1-17h0m6 1h0m11-3h0m-1-3h0m-10-11h0m-1-1h0m4-16h0m22-1h0m18 5h0m-7-22h0m-4-51h0m30-7h0m-77-22h0m0 134h0m-27-22h0m-5 52h0m-41-261h0m257 144h0m7-3h0m2 4h0m4 0h0m13 13h0m28-12h0m2 1h0m5 2h0m1-4h0m-1-5h0m1-21h0m6-13h0m17 5h0m2 5h0m0 7h0m-1-25h0m11 7h0m14 6h0m3 16h0m-18 14h0m11 24h0m-51 4h0m-6 24h0m20 5h0m63 3h0m10-57h0m-5-86h0m-7-1h0m-7-10h0m3-4h0m6-4h0m2-2h0m4-1h0m2 3h0m2 3h0m-3-11h0m-2-3h0m-1-2h0m6 2h0m14-1h0m1-7h0m4 3h0m-1-8h0m8 0h0m5-5h0m-19 24h0m1 7h0m-48 15h0m1 1h0" stroke="#6872f6" stroke-width="7.2" stroke-linecap="round" fill="none"/>
<line x1="397.2" y1="213.3" x2="683.3" y2="1.2" stroke="#32902a" stroke-width="1.6" stroke-dasharray="9.5 6.3"/>
<rect x="397.2" y="1.2" width="286.1" height="212.1" fill="none" stroke="#000" stroke-width="1.4"/>
<path d="M425.8 213.3v4M397.2 192.1h-4M483 213.3v4M397.2 149.7h-4M540.2 213.3v4M397.2 107.2h-4M597.5 213.3v4M397.2 64.8h-4M654.7 213.3v4M397.2 22.4h-4M454.4 213.3v2.2M397.2 170.9h-2.2M511.6 213.3v2.2M397.2 128.5h-2.2M568.9 213.3v2.2M397.2 86h-2.2M626.1 213.3v2.2M397.2 43.6h-2.2" stroke="#000" stroke-width="1.3"/>
<text transform="translate(425.8 228.5) scale(1 1.1)" font-size="10.8" text-anchor="middle">-2</text>
<text transform="translate(390.7 195.8) scale(1 1.1)" font-size="10.8" text-anchor="end">-2</text>
<text transform="translate(483 228.5) scale(1 1.1)" font-size="10.8" text-anchor="middle">-1</text>
<text transform="translate(390.7 153.4) scale(1 1.1)" font-size="10.8" text-anchor="end">-1</text>
<text transform="translate(540.2 228.5) scale(1 1.1)" font-size="10.8" text-anchor="middle">0</text>
<text transform="translate(390.7 111) scale(1 1.1)" font-size="10.8" text-anchor="end">0</text>
<text transform="translate(597.5 228.5) scale(1 1.1)" font-size="10.8" text-anchor="middle">1</text>
<text transform="translate(390.7 68.5) scale(1 1.1)" font-size="10.8" text-anchor="end">1</text>
<text transform="translate(654.7 228.5) scale(1 1.1)" font-size="10.8" text-anchor="middle">2</text>
<text transform="translate(390.7 26.1) scale(1 1.1)" font-size="10.8" text-anchor="end">2</text>
<text transform="translate(540.2 242.1) scale(1 1.1)" font-size="11.9" text-anchor="middle"><tspan font-style="italic">&#916;G</tspan><tspan font-style="italic" font-size="8.6" dy="2.9">H</tspan><tspan dy="-2.9"> DFT</tspan></text>
<text transform="translate(376.9 107.2) rotate(-90) scale(1 1.1)" font-size="12.3" text-anchor="middle"><tspan font-style="italic">&#916;G</tspan><tspan font-style="italic" font-size="8.9" dy="3">H</tspan><tspan dy="-3"> ML</tspan></text>
<text transform="translate(362.4 12.9) scale(1 1.0)" font-size="17.5" text-anchor="start">(b)</text>
<text transform="translate(404.1 16) scale(1 1.1)" font-size="11.2" text-anchor="start">GBR</text>
<path d="M417.2 26.7l.01 .01" stroke="#ff0000" stroke-width="3.2" stroke-linecap="square"/>
<text transform="translate(433.9 30.7) scale(1 1.1)" font-size="11.2" text-anchor="start">Trainset</text>
<text transform="translate(410 46.4) scale(1 1.1)" font-size="11.2" text-anchor="start">R<tspan font-size="6.8" dy="-4.2">2</tspan><tspan dy="4.2"> = 0.997</tspan></text>
<text transform="translate(410 60.6) scale(1 1.1)" font-size="11.2" text-anchor="start">MAE = 0.022</text>
<text transform="translate(410 74.7) scale(1 1.1)" font-size="11.2" text-anchor="start">MSE = 0.001</text>
<text transform="translate(410 89) scale(1 1.1)" font-size="11.2" text-anchor="start">RMSE = 0.036</text>
<circle cx="607.4" cy="142.7" r="1.8" fill="#6872f6"/>
<text transform="translate(623.8 146.4) scale(1 1.1)" font-size="11.2" text-anchor="start">Testset</text>
<text transform="translate(600.2 162.4) scale(1 1.1)" font-size="11.2" text-anchor="start">R<tspan font-size="6.8" dy="-4.2">2</tspan><tspan dy="4.2"> = 0.881</tspan></text>
<text transform="translate(600.2 176.3) scale(1 1.1)" font-size="11.2" text-anchor="start">MAE = 0.112</text>
<text transform="translate(600.2 190.6) scale(1 1.1)" font-size="11.2" text-anchor="start">MSE = 0.055</text>
<text transform="translate(600.2 204.3) scale(1 1.1)" font-size="11.2" text-anchor="start">RMSE = 0.235</text>
<path transform="rotate(45) scale(.5)" d="M685 469h0m35 0h0m3-4h0m4-2h0m1 0h0m4-1h0m1 4h0m3 0h0m-1 8h0m-3 5h0m-2 2h0m-6-1h0m-2 4h0m1 2h0m5 1h0m-1-12h0m-1-4h0m3-1h0m0-14h0m-3 0h0m-1-1h0m-3-5h0m8 0h0m-1-3h0m-2-3h0m-1 0h0m-1-2h0m1-7h0m-2-2h0m4-1h0m1 1h0m1-1h0m1 5h0m-1 2h0m1 1h0m2-1h0m1 1h0m1 1h0m3 0h0m0 2h0m1-3h0m3 0h0m2-1h0m1 0h0m3-3h0m-9 0h0m0-5h0m1-2h0m-4 0h0m-1-1h0m-2 1h0m8-5h0m-1-5h0m-2-2h0m1-1h0m1-1h0m2 0h0m0 2h0m1 1h0m0-4h0m-6 0h0m-3 1h0m-5-1h0m-2 0h0m-2-3h0m0-5h0m2 0h0m2-3h0m-4-1h0m-1-5h0m4 2h0m3 0h0m0-3h0m-1-4h0m0-2h0m-1 0h0m2 1h0m5-3h0m1-4h0m4 2h0m1-4h0m0-1h0m1 2h0m2-2h0m1-1h0m0 2h0m2 1h0m1-2h0m1 0h0m0-1h0m-1-1h0m-2-1h0m-2-1h0m5-1h0m1 0h0m1-1h0m0 2h0m0 2h0m0 2h0m-1 0h0m0 1h0m2-1h0m2 1h0m1 0h0m1 0h0m0 2h0m0 2h0m-1 0h0m0 2h0m1 0h0m1-2h0m2 1h0m0 1h0m0-4h0m0-3h0m2-1h0m1 2h0m3-4h0m1-5h0m2-2h0m1 5h0m0-11h0m-2-1h0m-1-1h0m-2 0h0m-1 0h0m-1-1h0m-2 0h0m-1-1h0m-2 0h0m0-1h0m0-1h0m-1 0h0m-1 0h0m0 1h0m-3 0h0m-1 1h0m-2 0h0m1-2h0m-3 0h0m-1-3h0m1-3h0m2 1h0m2 0h0m0 1h0m1 0h0m2-1h0m1 0h0m1 0h0m0 1h0m1-1h0m0-1h0m0 3h0m0 1h0m1 1h0m-4 0h0m-1 3h0m0 1h0m-1 2h0m0 2h0m-1 4h0m-2 1h0m0 2h0m0 1h0m-1 0h0m-2-3h0m-7 2h0m-2 1h0m0-5h0m-4 0h0m-4 4h0m2 5h0m-5 1h0m1 3h0m-3-18h0m20-1h0m13 0h0m1 1h0m1 0h0m0 1h0m1 0h0m0 1h0m1 1h0m1-2h0m2-1h0m0 3h0m-1-6h0m-2 0h0m0-1h0m6 1h0m2 1h0m0-3h0m0-2h0m0-1h0m-1-2h0m7 1h0m0-3h0m2-13h0m1-5h0m1-5h0m8 4h0m0 1h0m8 9h0m-5 20h0m-1 5h0m-6-9h0m7 24h0m-17 3h0m0 1h0m-22-1h0m-1 0h0m1 5h0m2 0h0m1 0h0m2 2h0m3 3h0m1 6h0m3-2h0m-10 5h0m-9 0h0m-2-1h0m-1-1h0m2 0h0m1-3h0m1-1h0m1 0h0m1-2h0m2 0h0m0-1h0m-1-1h0m-2 0h0m-2 2h0m-2-1h0m0-2h0m1-2h0m0-2h0m2 0h0m3 1h0m0 1h0m2 2h0m-3 8h0m-8 0h0m-1-3h0m1-2h0m0-5h0m2 8h0m-6 1h0m1 5h0m0 1h0m2 0h0m2 0h0m0-1h0m0 2h0m0 2h0m1-1h0m1-2h0m1 1h0m-8 1h0m-1 0h0m1 1h0m1 0h0m-6 0h0m-2-1h0m-13 4h0m0 7h0m3 2h0m0-5h0m2 2h0m0 7h0m-4 0h0m-3 9h0m0 6h0m-7 0h0m7 12h0m1-1h0m-1 4h0m6 4h0m15-9h0m2 0h0m10 3h0m-1 14h0m3 2h0m17-14h0m-3-33h0m-10-4h0m-1 0h0m-1-2h0m-4 0h0m0-1h0m-2 5h0m4 1h0m0 2h0m3-10h0m4-34h0m-3-4h0m1-1h0m-1-28h0m0-6h0m-4 1h0m10 5h0m-3-29h0m-1-1h0m2-9h0m4 1h0m1-1h0m0 2h0m-1-5h0m-1-9h0m-3-4h0m-2-5h0m0-1h0m3-2h0m0-1h0m4-1h0m0 2h0m0 1h0m3 0h0m1-1h0m-2-1h0m-7-8h0m-6 1h0m-2 4h0m2-16h0m-4-2h0m10 5h0m2-12h0m1-8h0m-3-2h0m3-4h0m0-2h0m5-3h0m3-3h0m-6-4h0m1-1h0m-7 2h0m-9-12h0m-1-7h0m20 4h0m0-21h0m-8 1h0m-2-1h0m9-8h0m0-1h0m12 0h0m1-2h0m2 1h0m0 2h0m0 1h0m-2 1h0m1 1h0m1 3h0m-2 1h0m-4-2h0m0-1h0m0 6h0m13 0h0m1 1h0m5 0h0m1-4h0m2-5h0m-1-2h0m2-2h0m-6 0h0m-1 0h0m2-4h0m-4 9h0m-7-4h0m-5-5h0m-1 0h0m1-3h0m1 0h0m-1-3h0m0-1h0m-3-1h0m-1 5h0m-10-2h0m-13 2h0m2-37h0m11-3h0m2 13h0m10 11h0m2-2h0m3 0h0m-1 4h0m3 5h0m2-2h0m0 6h0m5-3h0m6 0h0m1-4h0m3 1h0m-1-4h0m-4-1h0m-1-2h0m-1-1h0m-1 0h0m-1-1h0m-2 1h0m0 2h0m-1 0h0m1 1h0m1-2h0m2 4h0m4-5h0m1 0h0m0-1h0m1 0h0m0-1h0m-1-1h0m0-1h0m-2 0h0m0-1h0m-1 0h0m1-1h0m0-2h0m1 0h0m0-3h0m1 0h0m1 2h0m1 6h0m1 0h0m-1 2h0m2 2h0m2 1h0m0-5h0m3 0h0m1-7h0m0-2h0m1 3h0m2-6h0m0-4h0m1 0h0m3 1h0m0-4h0m2 0h0m2 0h0m4-1h0m6-1h0m-1-5h0m2-1h0m-5-1h0m-1-1h0m-2 2h0m-5-2h0m2-3h0m-5 0h0m1-3h0m0-1h0m-2-2h0m-2-2h0m-2-1h0m0 2h0m-4 1h0m-3 3h0m1 2h0m1 1h0m1 0h0m-1 2h0m2 1h0m0 3h0m2-1h0m1-1h0m1 1h0m1-1h0m1 0h0m1 2h0m-2 4h0m-1 1h0m-7-6h0m-3 2h0m-3 0h0m-1 0h0m0 2h0m-3-1h0m1 3h0m-2 3h0m1 1h0m1 3h0m-3 0h0m-2 0h0m-3 0h0m0-2h0m-7 2h0m4-8h0m6 0h0m0-3h0m-4-4h0m-1-7h0m1-4h0m-1-3h0m-2-2h0m-4-16h0m21 1h0m3 0h0m6 0h0m-1-5h0m2-3h0m4-3h0m3-3h0m1-2h0m1 4h0m0 3h0m0 5h0m-4 4h0m0 2h0m1 2h0m-2 1h0m-2 2h0m-1 1h0m5 0h0m2-1h0m0 3h0m5-1h0m1-4h0m-4 0h0m3-4h0m4 2h0m-1 4h0m1 4h0m5 2h0m3 2h0m1 2h0m9-8h0m-13-6h0m-2-3h0m9-8h0m0-8h0m5 0h0m6 3h0m-23-2h0m-5 1h0m1 3h0m-3-8h0m-1-2h0m-4 0h0m-3 2h0m6-6h0m4 0h0m0-4h0m1 0h0m-3-1h0m-1-1h0m7-1h0m-1-3h0m0-1h0m-4-3h0m0-2h0m2-2h0m0-6h0m1-5h0m8 2h0m1-4h0m5 0h0m-1 5h0m-7 3h0m2 11h0m3 2h0m2-1h0m-5 8h0m0 4h0m-7-3h0m-7-19h0m-5-10h0m8-7h0m-4-5h0m7-1h0m0-4h0m-2-3h0m11 0h0m4 2h0m8 5h0m6-6h0m-7-7h0m-6-6h0m-10 2h0m-1 19h0m2 2h0m21 25h0m18-18h0m-75 35h0m10 11h0m1 19h0m5 9h0m6 0h0m6 7h0m-11 4h0m-9 0h0m0 2h0m-4-1h0m-1-2h0m-2 4h0m1 1h0m2 0h0m3 11h0m-2 3h0m0 1h0m-1 3h0m-2 0h0m-3-1h0m-1 3h0m3 6h0m-7 0h0m-2 3h0m-1 0h0m13 1h0m9 9h0m8-2h0m-3 12h0m-2 13h0m-5 4h0m9 11h0m6 0h0m-2 9h0m-12 5h0m-1 0h0m-4 4h0m-8 7h0m-5-1h0m1 5h0m2 5h0m2 0h0m0 3h0m0 2h0m-2 0h0m4 4h0m11 0h0m-2-13h0m7 24h0m-4 6h0m-12-5h0m-2 13h0m4 4h0m-8 5h0m-2 1h0m6 4h0m6 4h0m-8 5h0m0 14h0m-4 0h0m-1 8h0m20-6h0m-3-11h0m14-25h0m16-34h0m-8-48h0m-31 14h0m23-62h0m3 2h0m7-4h0m4 4h0m2 8h0m10 10h0m0-37h0m-8 4h0m-99 129h0m-3 13h0m21 32h0m-4 8h0m-5 5h0m-25 28h0m-18 12h0m-9 16h0m18 24h0m9 2h0m-1 3h0m5-8h0m-20 25h0m16 62h0m-1 14h0m1 1h0m0 1h0m4-2h0m5 2h0m-12 5h0m-2 2h0m1 10h0m-9 4h0m4 8h0m12 0h0m-4 7h0m19-14h0m0-10h0m-41 4h0m120-96h0m20-29h0" stroke="#ff0000" stroke-width="6.4" stroke-linecap="square" fill="none"/>
<path transform="scale(.5)" d="M126 890h0m4-12h0m9 3h0m2 0h0m-1-7h0m6 1h0m3-5h0m2-4h0m-1-3h0m9 2h0m4-1h0m2 0h0m-1 3h0m0 2h0m-3 2h0m-7 3h0m0 1h0m-12-7h0m-9 0h0m32-8h0m2 2h0m1-4h0m3-2h0m1-5h0m1-2h0m9-1h0m1 0h0m0 2h0m6-1h0m3-4h0m7 1h0m2 4h0m4-5h0m2-4h0m-1-2h0m1-1h0m5 1h0m-2 4h0m9-1h0m2-4h0m-2-7h0m-4 0h0m7-1h0m1-1h0m3 0h0m0 1h0m-1-3h0m1-1h0m2 1h0m6-1h0m1 0h0m0-3h0m1 1h0m1 1h0m2 0h0m1 1h0m2 2h0m1-3h0m2 2h0m4-3h0m2 1h0m-1 5h0m3 2h0m7-1h0m-1 6h0m9-3h0m4 0h0m7 0h0m-2-3h0m-1 7h0m1 10h0m-2 6h0m9-13h0m-3-18h0m-7 1h0m1-4h0m1-2h0m0-4h0m-4 0h0m1 2h0m-1-8h0m-1-5h0m-2 1h0m-6 0h0m-2-1h0m-1-2h0m-1-1h0m0-1h0m-3-1h0m-2 1h0m0 1h0m1 0h0m0 4h0m-2 2h0m0 2h0m1 0h0m-1 3h0m2 0h0m1 1h0m2 1h0m3 0h0m0-6h0m3 3h0m2 1h0m1 0h0m0-12h0m0-1h0m4 0h0m0-2h0m-1 0h0m0-1h0m-2-2h0m-3 0h0m-1-1h0m0-2h0m-2 3h0m-8 1h0m-3-1h0m-6 2h0m-3 1h0m-5 1h0m-4-6h0m2-10h0m15-3h0m-1-4h0m5 3h0m1 2h0m6 6h0m9-2h0m6 0h0m1-2h0m3 0h0m2 2h0m3 1h0m0 1h0m0 1h0m0 1h0m2 2h0m0 1h0m1-2h0m1-1h0m1-1h0m0 2h0m2 0h0m0-1h0m0-1h0m-1-1h0m4 0h0m0 2h0m1 0h0m0 2h0m0 1h0m-2 0h0m0 1h0m0 2h0m-2 2h0m-3 1h0m-2-1h0m-1 0h0m0 3h0m-1 0h0m1 1h0m0 5h0m-3-2h0m-1-1h0m-1 0h0m-1 0h0m0 1h0m-2 1h0m0 1h0m-2 0h0m0-1h0m-2-1h0m1-2h0m2 0h0m1-1h0m-3-2h0m1-2h0m2-1h0m-1-3h0m0-1h0m-1 0h0m-2 0h0m1 1h0m-2 3h0m1-8h0m6 5h0m11 0h0m6-2h0m2 0h0m0 1h0m2-1h0m0-1h0m2-1h0m-1-3h0m0-1h0m1 0h0m-3 0h0m-2 0h0m-2-1h0m1-1h0m0-2h0m0-3h0m0-2h0m-1 0h0m1-3h0m1 0h0m-3-3h0m-1-1h0m-2 0h0m-1-2h0m-1 0h0m-1 0h0m1-1h0m6 0h0m3 2h0m3 0h0m1 0h0m0 1h0m0 1h0m-1 1h0m3 1h0m0 1h0m0 1h0m1 1h0m0 2h0m-1 1h0m1 1h0m0 2h0m3 0h0m0-1h0m1 2h0m2 0h0m1 0h0m3 0h0m0-4h0m1-1h0m-1-2h0m-1 0h0m-1 1h0m-4 0h0m0 1h0m1 1h0m0 1h0m-3-4h0m1-1h0m0-1h0m1-2h0m1-2h0m-4 0h0m-1 0h0m1-3h0m3 0h0m1-2h0m0-1h0m2 1h0m1-1h0m2 0h0m1 0h0m0 1h0m-1 1h0m0 2h0m-1 0h0m-1 0h0m2 1h0m2 1h0m2 0h0m0-1h0m1 0h0m0-1h0m0 2h0m1 1h0m-2 1h0m0 2h0m0 2h0m-2 0h0m-2-1h0m1-3h0m4 1h0m3-1h0m0-2h0m-1-1h0m0-2h0m0-2h0m-1 0h0m2 0h0m1-1h0m-2-1h0m-1-3h0m1-1h0m0-2h0m1-1h0m2 0h0m0-1h0m0-2h0m0-1h0m-1 0h0m-3 0h0m-1 0h0m-3-1h0m-3 2h0m1 1h0m-2 4h0m0 3h0m2 0h0m0-1h0m2 1h0m0 3h0m0 3h0m1-1h0m7 1h0m0 2h0m1 1h0m1 1h0m2 0h0m0 1h0m-1 1h0m2-2h0m1 3h0m1 1h0m0 3h0m1 3h0m3-3h0m3 0h0m3-4h0m-2-5h0m-3 2h0m-2-3h0m-2-1h0m-1 0h0m-1 0h0m0-1h0m0-1h0m1 0h0m-2-1h0m-3 0h0m1 1h0m0 2h0m1-6h0m0-2h0m0-2h0m-1 0h0m-1-1h0m4 0h0m0 2h0m-1 0h0m0 2h0m1 2h0m2-2h0m2-1h0m1 0h0m1 1h0m1 1h0m0-3h0m0-1h0m1 0h0m1 0h0m0-1h0m0-1h0m1-1h0m-3 0h0m2-3h0m1-1h0m1 1h0m1-1h0m0 3h0m1 4h0m-1 2h0m2 0h0m1 0h0m0-3h0m1-1h0m1 3h0m2 1h0m-3 2h0m1 1h0m0 3h0m-3 1h0m-3 0h0m1 1h0m-5-1h0m0-2h0m1 0h0m-3 1h0m6-3h0m10 1h0m1 2h0m-2 1h0m4 3h0m1-1h0m7-2h0m4 4h0m4-3h0m4 1h0m0-10h0m1-8h0m-5-1h0m2-2h0m-3-2h0m0-2h0m-1-1h0m2 0h0m-1-3h0m-1 0h0m-1-1h0m2-1h0m0-1h0m1 0h0m0 1h0m1 2h0m-7 0h0m-1 0h0m-1 0h0m-1 0h0m0-1h0m0-1h0m1 0h0m0 1h0m1 0h0m0-1h0m0-1h0m2-2h0m-2-3h0m0-2h0m0-1h0m2 0h0m0 1h0m1 1h0m2 1h0m2 0h0m0 1h0m-1 1h0m3 0h0m1-2h0m2 2h0m0 3h0m5 0h0m0-3h0m1 0h0m-1-4h0m-2-1h0m-2 0h0m-2-1h0m-1-1h0m0-2h0m-1 0h0m-2 1h0m-2 1h0m0 1h0m1 0h0m1 1h0m4-3h0m4 0h0m2 0h0m2 0h0m4 0h0m0 1h0m-1 2h0m4-1h0m1 2h0m1-3h0m2-1h0m2-1h0m0-1h0m0-3h0m0-1h0m0-1h0m0-1h0m-2 1h0m-2 0h0m0-2h0m1 0h0m-1-2h0m-1-2h0m0-1h0m-1 0h0m2 0h0m0-3h0m0-1h0m1 0h0m0 1h0m0 1h0m-3-1h0m-2-1h0m0-1h0m0 3h0m-1 0h0m-1 2h0m-2 0h0m0 1h0m-3 0h0m-1 2h0m-3 0h0m-1-1h0m-1 2h0m3 2h0m-1 2h0m2 0h0m1 1h0m1 0h0m1 0h0m0-2h0m1-1h0m1-1h0m2-1h0m-1 5h0m-1 0h0m1 2h0m1 0h0m2-1h0m1-3h0m6-4h0m3 1h0m1 1h0m0 3h0m-1 1h0m0 4h0m0 2h0m4 1h0m0 2h0m-2 5h0m-8 1h0m-3 4h0m-1 4h0m-5-3h0m0-1h0m-1 11h0m6 2h0m19 0h0m-11-12h0m5-17h0m2-3h0m1 0h0m0-3h0m0-3h0m-1-1h0m2 0h0m0-1h0m1 0h0m1 1h0m1-1h0m2 1h0m-1 4h0m-2 1h0m2 5h0m0 6h0m8-9h0m2-1h0m0 3h0m1-6h0m-3 0h0m-1-5h0m1-3h0m-3 0h0m-2-3h0m-1-2h0m0-1h0m-2 0h0m0 2h0m-4-1h0m-2 0h0m0-2h0m-2 0h0m0-1h0m-3 0h0m0 1h0m1 0h0m-1-4h0m2 0h0m2 0h0m2 0h0m1-3h0m0-1h0m-1-3h0m-3 1h0m0 1h0m-4 0h0m0 1h0m1 0h0m-1-3h0m2-3h0m1 1h0m1-2h0m-1-2h0m-5 0h0m-1 0h0m-3 2h0m0 4h0m3 4h0m1 2h0m0 1h0m-1 1h0m2 0h0m-1 5h0m-2 0h0m-1-1h0m0-1h0m-1 0h0m-2 0h0m-4 1h0m-2-3h0m-3 0h0m-3-1h0m1 5h0m1 1h0m2 2h0m1 0h0m1 3h0m-4 0h0m-2 0h0m0-2h0m-7 4h0m-2-1h0m2 4h0m0 4h0m-2 1h0m-1 1h0m-2 0h0m-2 0h0m0 1h0m1 2h0m1 2h0m1 0h0m-4 0h0m-2 0h0m-3 0h0m1-3h0m-1-4h0m-1 0h0m3-1h0m0-4h0m0-2h0m4 3h0m1-9h0m2-6h0m4 2h0m2-8h0m10 1h0m0 1h0m1 0h0m-2-6h0m0-1h0m4-1h0m5 10h0m4 9h0m3 0h0m2 1h0m2 0h0m-1 2h0m-1 2h0m1 3h0m4-5h0m3-1h0m1 0h0m0-10h0m1 0h0m1 1h0m3 1h0m0 1h0m0 1h0m3 2h0m1-3h0m0-2h0m1-1h0m1 4h0m0 3h0m1 1h0m1-1h0m3 0h0m2-4h0m-1-3h0m2-1h0m1 2h0m1 1h0m0 2h0m3-2h0m2-1h0m1-5h0m0-3h0m1 0h0m1 0h0m1 0h0m2-2h0m1-2h0m3 1h0m1 0h0m0 5h0m-1 0h0m-1 0h0m-1-2h0m5 4h0m1 0h0m4-2h0m0-2h0m-3-2h0m1-3h0m1-5h0m1 0h0m-1-2h0m0-2h0m-4 0h0m-2 1h0m-3 0h0m1 2h0m0 2h0m-5 1h0m-2 0h0m-2-1h0m-1 2h0m-1 0h0m-1 0h0m-1-1h0m0-2h0m-2 0h0m1-1h0m-1-2h0m3 0h0m4-1h0m1 1h0m-1 2h0m0 6h0m-2 0h0m-1 0h0m-1 0h0m1-1h0m-3 0h0m-1 0h0m-1 0h0m0 1h0m0 1h0m-2-1h0m0-1h0m-3 0h0m-1 1h0m0 2h0m-2 0h0m0 3h0m1 0h0m2 0h0m0-1h0m0 3h0m1 2h0m2-1h0m1-1h0m1-1h0m0-2h0m-3 1h0m-1-4h0m0-3h0m-2-2h0m-2 0h0m-2-3h0m-6 0h0m-6-1h0m-4-2h0m-5 2h0m12 10h0m1 0h0m1 2h0m3-1h0m1 1h0m0 1h0m0 4h0m-1 1h0m-5 0h0m9-4h0m-1-3h0m6-9h0m2-2h0m1-5h0m2 2h0m1-4h0m5 0h0m2 0h0m3 0h0m-1 3h0m-1 1h0m-2-1h0m5 1h0m2-2h0m3-2h0m1-2h0m-3-2h0m-1-1h0m-2 1h0m-6 1h0m-6-2h0m-1-3h0m3-1h0m-8-1h0m0-4h0m0 8h0m-10-7h0m0-6h0m1-5h0m-2-5h0m-8-5h0m34 9h0m2 7h0m-2 7h0m7-3h0m2 1h0m0-3h0m4-7h0m5 5h0m-2 8h0m-3 1h0m0 5h0m5-2h0m3 0h0m-1 2h0m2 4h0m0 1h0m1 5h0m4-1h0m0-5h0m-2-2h0m1-1h0m2 0h0m0-3h0m2 1h0m1 0h0m-1-4h0m0-1h0m-3-1h0m1-2h0m1-1h0m2-1h0m1 3h0m1 1h0m0 2h0m0 1h0m2-2h0m-1-2h0m2-2h0m2 2h0m1-1h0m-1 7h0m-3 0h0m-1 6h0m-4 1h0m2 5h0m0 1h0m6-1h0m1 5h0m5 0h0m-1-2h0m3 0h0m5-9h0m1-11h0m2-3h0m0-3h0m4 1h0m1-2h0m0-4h0m-4-1h0m-3 1h0m-1-2h0m-4 0h0m-1-3h0m4-3h0m3 4h0m5-1h0m0-4h0m-2-4h0m-3-1h0m-10-2h0m-1 5h0m-2 3h0m-3 1h0m-1-5h0m-6 5h0m-2 7h0m-3 0h0m-2-4h0m11 3h0m2 2h0m5 0h0m0-3h0m2 7h0m4-1h0m-3 10h0m-3 4h0m24-2h0m2-5h0m3 0h0m0-18h0m-3-4h0m4-4h0m-1-4h0m-8 1h0m1 15h0m1 0h0m14-5h0m4-1h0m4 1h0m3-7h0m-2-3h0m0-3h0m-2-1h0m-4-2h0m1-1h0m0 7h0m1 0h0m-4 2h0m6-13h0m3 0h0m0 3h0m2-4h0m4 1h0m6 0h0m0-4h0m2-2h0m2 3h0m10-3h0m0-4h0m3 3h0m2 0h0m0 2h0m6-3h0m-1-7h0m3-4h0m2-2h0m6-1h0m0 11h0m0 1h0m12-14h0m1-3h0m-1-7h0m-36 17h0m-3 26h0m-11 0h0m-5-3h0m28-1h0m-29-37h0m4-10h0m-42 21h0m-7 29h0m-15 0h0m-7-5h0m-12 14h0m-3 1h0m2 42h0m11 5h0m-1 8h0m10 0h0m-34-3h0m0-2h0m-1 0h0m-1 1h0m4-1h0m2 14h0m-11 7h0m-6 0h0m1 1h0m4 8h0m-3 17h0m25-16h0m30 3h0m-16 31h0m38 1h0m-1 13h0m3-69h0m-3-18h0m-127-1h0m-6 8h0m-6 6h0m-6 4h0m-1 26h0m-1 3h0m-2 0h0m-1 2h0m0 2h0m1-1h0m3 0h0m0-1h0m1 0h0m1 6h0m1-1h0m1-1h0m2 0h0m0 1h0m0 3h0m-1 0h0m-1 1h0m-2 0h0m-1 0h0m-1 0h0m-1-1h0m2 0h0m-4-1h0m-2 0h0m0-1h0m1 0h0m2 0h0m-1 3h0m-1 1h0m2 0h0m1 1h0m2 2h0m2 0h0m1 0h0m0 2h0m-1 1h0m-2 2h0m-2 0h0m-2 0h0m-1 0h0m2 1h0m1 2h0m2-1h0m-7 0h0m-1-3h0m-2 1h0m-3 1h0m-1 1h0m-1-2h0m-2-1h0m0-1h0m-2-2h0m-2-3h0m-3 1h0m-3-1h0m0 4h0m-2 1h0m-1 1h0m4 0h0m2 3h0m1 0h0m3 0h0m1 2h0m0 1h0m-2 0h0m-1 0h0m1 1h0m0 2h0m1 1h0m-3-2h0m-1-1h0m-7-2h0m-3-3h0m-1-6h0m-1-3h0m-2-1h0m-1 0h0m-1 2h0m-2 11h0m-4 2h0m-4-1h0m-3-2h0m0-5h0m0-4h0m-5 6h0m-6 6h0m5 7h0m-1 3h0m-1 1h0m4-1h0m1-2h0m3 0h0m1 3h0m-1 2h0m-1 0h0m4-1h0m1-1h0m0 2h0m1-5h0m-7-5h0m-20 3h0m0 1h0m-17 0h0m2 3h0m1 11h0m15 4h0m4 4h0m1-1h0m3-1h0m2 0h0m1-2h0m0-3h0m1 8h0m2-1h0m0 2h0m0 1h0m-7 2h0m18 1h0m0 1h0m2 0h0m1-1h0m1 3h0m0 1h0m1 0h0m0 5h0m2 2h0m1 3h0m4-2h0m1-2h0m-1-5h0m-2-2h0m0-3h0m-1 0h0m-2-1h0m8-2h0m0-3h0m-2 0h0m1-1h0m5 0h0m1-2h0m1-1h0m-4 0h0m0 9h0m3 4h0m1 5h0m2-1h0m-1-10h0m8 4h0m3-2h0m5 1h0m6 1h0m0-3h0m-2-7h0m8 0h0m1 3h0m5-21h0m-1-2h0m-1-3h0m-1-3h0m1-1h0m2-1h0m0-2h0m-2-2h0m3-1h0m-1-2h0m-1-2h0m-1-1h0m-3-1h0m6 2h0m4 2h0m1 0h0m1 0h0m-1-3h0m-3 6h0m2 4h0m0 2h0m-4-1h0m1 4h0m1 1h0m4 0h0m-13-2h0m-2 1h0m-1-2h0m-1-1h0m-1 0h0m0-9h0m-3 0h0m-2-1h0m0-3h0m0-1h0m0-1h0m0-3h0m-2-1h0m-2-2h0m-3-2h0m-2-1h0m-4-1h0m0 2h0m0 2h0m-3-2h0m-9 2h0m5-15h0m-7-4h0m15-1h0m6-1h0m-4 8h0m-2 4h0m12 1h0m2-1h0m0-1h0m-2 6h0m1 5h0m1 0h0m-6 4h0m0 1h0m-1 0h0m-4-1h0m0 13h0m5-5h0m1 0h0m19-10h0m0-6h0m1 0h0m1-1h0m6-4h0m3-3h0m1 1h0m4 0h0m1 1h0m1 1h0m1-1h0m2 0h0m4 50h0m20 10h0m-68 13h0m0 3h0m6 7h0m-36 0h0m-1 9h0m-5-1h0m-1 2h0m-3-1h0m0 3h0m3 7h0m-2 5h0m5 14h0m14-23h0m-5-6h0m-17-7h0m-1-1h0m-1 2h0m-2 1h0m-12-1h0m4 6h0m15-14h0m1-2h0m1 0h0m0-2h0m3 1h0m-1 2h0m-2-19h0m2-3h0m1 0h0m21-16h0m1 0h0m1-1h0m-39-30h0m-2 1h0m-20-51h0m-49 9h0m0 22h0m1 78h0m0 17h0m0 4h0m0 8h0m-3 2h0m1 3h0m3 2h0m2 1h0m0 1h0m2-1h0m-1-4h0m0-5h0m2 1h0m2 2h0m0-7h0m2-1h0m-5 2h0m9 5h0m1 0h0m1 0h0m2 3h0m3-1h0m1-2h0m1-2h0m1-3h0m-2-2h0m-1 0h0m2-1h0m1-1h0m0-2h0m-2 1h0m5 6h0m0 6h0m-3 1h0m-4 4h0m1 15h0m2 1h0m-6 5h0m-7-4h0m1-1h0m0 15h0m-16-3h0m-16-10h0m-6-4h0m0-4h0m-5 1h0m5-7h0m5 1h0m8 2h0m3-3h0m-5 8h0m-11-20h0m13-12h0m45-3h0m1 1h0m-2-3h0m1 16h0m-1 2h0m2 3h0m5 1h0m-1-5h0m10 6h0m2 4h0m-14 20h0m-2 2h0m0 3h0m0 12h0m-12 4h0m-46-7h0m-8 0h0m-2 0h0m-2-1h0m-3 10h0m98 15h0" stroke="#6872f6" stroke-width="7.2" stroke-linecap="round" fill="none"/>
<line x1="34.5" y1="475" x2="321" y2="261.7" stroke="#32902a" stroke-width="1.6" stroke-dasharray="9.5 6.3"/>
<rect x="34.5" y="261.7" width="286.5" height="213.3" fill="none" stroke="#000" stroke-width="1.4"/>
<path d="M63.1 475v4M34.5 453.7h-4M120.4 475v4M34.5 411h-4M177.8 475v4M34.5 368.4h-4M235 475v4M34.5 325.7h-4M292.3 475v4M34.5 283h-4M91.8 475v2.2M34.5 432.3h-2.2M149.1 475v2.2M34.5 389.7h-2.2M206.4 475v2.2M34.5 347h-2.2M263.7 475v2.2M34.5 304.4h-2.2" stroke="#000" stroke-width="1.3"/>
<text transform="translate(63.1 490.2) scale(1 1.1)" font-size="10.8" text-anchor="middle">-2</text>
<text transform="translate(28 457.4) scale(1 1.1)" font-size="10.8" text-anchor="end">-2</text>
<text transform="translate(120.4 490.2) scale(1 1.1)" font-size="10.8" text-anchor="middle">-1</text>
<text transform="translate(28 414.7) scale(1 1.1)" font-size="10.8" text-anchor="end">-1</text>
<text transform="translate(177.8 490.2) scale(1 1.1)" font-size="10.8" text-anchor="middle">0</text>
<text transform="translate(28 372.1) scale(1 1.1)" font-size="10.8" text-anchor="end">0</text>
<text transform="translate(235 490.2) scale(1 1.1)" font-size="10.8" text-anchor="middle">1</text>
<text transform="translate(28 329.4) scale(1 1.1)" font-size="10.8" text-anchor="end">1</text>
<text transform="translate(292.3 490.2) scale(1 1.1)" font-size="10.8" text-anchor="middle">2</text>
<text transform="translate(28 286.7) scale(1 1.1)" font-size="10.8" text-anchor="end">2</text>
<text transform="translate(177.8 502.2) scale(1 1.1)" font-size="11.75" text-anchor="middle"><tspan font-style="italic">&#916;G</tspan><tspan font-style="italic" font-size="8.5" dy="2.8">H</tspan><tspan dy="-2.8"> DFT</tspan></text>
<text transform="translate(16.9 368.4) rotate(-90) scale(1 1.1)" font-size="12.55" text-anchor="middle">&#916;G<tspan font-style="italic" font-size="9" dy="3">H</tspan><tspan dy="-3"> ML</tspan></text>
<text transform="translate(-0.2 273.4) scale(1 1.0)" font-size="17.5" text-anchor="start">(c)</text>
<text transform="translate(39.1 274.8) scale(1 1.1)" font-size="11.2" text-anchor="start">RFR</text>
<path d="M52 285.1l.01 .01" stroke="#ff0000" stroke-width="3.2" stroke-linecap="square"/>
<text transform="translate(68.3 289) scale(1 1.1)" font-size="11.2" text-anchor="start">Trainset</text>
<text transform="translate(45.1 304.6) scale(1 1.1)" font-size="11.2" text-anchor="start">R<tspan font-size="6.8" dy="-4.2">2</tspan><tspan dy="4.2"> = 0.983</tspan></text>
<text transform="translate(45.1 318.9) scale(1 1.1)" font-size="11.2" text-anchor="start">MAE = 0.045</text>
<text transform="translate(45.1 333.5) scale(1 1.1)" font-size="11.2" text-anchor="start">MSE = 0.008</text>
<text transform="translate(45.1 347.8) scale(1 1.1)" font-size="11.2" text-anchor="start">RMSE = 0.088</text>
<circle cx="245.4" cy="403.5" r="1.8" fill="#6872f6"/>
<text transform="translate(262 406.8) scale(1 1.1)" font-size="11.2" text-anchor="start">Testset</text>
<text transform="translate(238.2 422.9) scale(1 1.1)" font-size="11.2" text-anchor="start">R<tspan font-size="6.8" dy="-4.2">2</tspan><tspan dy="4.2"> = 0.912</tspan></text>
<text transform="translate(238.2 437) scale(1 1.1)" font-size="11.2" text-anchor="start">MAE = 0.110</text>
<text transform="translate(238.2 451.2) scale(1 1.1)" font-size="11.2" text-anchor="start">MSE = 0.040</text>
<text transform="translate(238.2 465.8) scale(1 1.1)" font-size="11.2" text-anchor="start">RMSE = 0.200</text>
<path transform="rotate(45) scale(.5)" d="M1224 10h0m3 9h0m7 4h0m5-2h0m5 1h0m1-5h0m-2-2h0m3-1h0m-1-4h0m1-4h0m1 1h0m0-4h0m0-1h0m0-7h0m-1-1h0m3-5h0m0-1h0m0-8h0m2-2h0m0-4h0m-1-2h0m2-2h0m2 2h0m-6 3h0m-6 0h0m-1 0h0m1 4h0m-3 0h0m-1-1h0m-2 3h0m1 3h0m0 8h0m-6 4h0m8 4h0m2-2h0m-4 8h0m0 2h0m3 5h0m-3 16h0m-2 1h0m0 1h0m4 3h0m21-32h0m-16-22h0m-1-9h0m-4-12h0m9-3h0m-1-3h0m3 0h0m2 3h0m0 5h0m2 0h0m-5 0h0m-4-11h0m-2-3h0m0-2h0m3 0h0m0-5h0m-1-1h0m-3 2h0m2-6h0m5 1h0m2-2h0m1-5h0m3 0h0m1 0h0m1 0h0m0 1h0m0 2h0m1 0h0m0 2h0m-1 2h0m-2 0h0m-1 2h0m2 2h0m0 2h0m-1 0h0m-5 1h0m-1 0h0m2 4h0m5 0h0m0 2h0m1-1h0m-3 3h0m6-15h0m-2-7h0m0-2h0m0-2h0m0-1h0m-1 0h0m0-1h0m1 0h0m1-1h0m0 3h0m0 1h0m-4 0h0m-1 1h0m-2-2h0m-1-2h0m0-4h0m1-4h0m0-2h0m1 0h0m0-3h0m-1 0h0m0-2h0m1-1h0m5-1h0m1 0h0m1 1h0m1 1h0m0 1h0m-1 2h0m-1 0h0m-1-1h0m-2 1h0m1 1h0m0 2h0m0 1h0m2 0h0m1 0h0m0-1h0m0-1h0m0-1h0m1 1h0m0 2h0m-1 2h0m0 1h0m-1 0h0m1 2h0m-4-1h0m0-2h0m-1-3h0m-1 7h0m-7 0h0m-5 8h0m-6 6h0m-3 13h0m29-36h0m1-5h0m-1-2h0m-1-1h0m-2-2h0m1-1h0m0-1h0m1-3h0m2 1h0m3 2h0m-1 3h0m1 4h0m2-2h0m0-10h0m-2 0h0m0-5h0m0-1h0m-2 0h0m-1 0h0m0 1h0m1 0h0m-3 0h0m-1 0h0m0-1h0m-2 2h0m-4 4h0m-2 3h0m-1 2h0m-3-5h0m9 8h0m17-3h0m7-8h0m-14-4h0m-3-1h0m-1 0h0m0-2h0m0-1h0m-1-1h0m1-1h0m1 0h0m1 0h0m-1-2h0m-1 0h0m1-1h0m-3 0h0m0 2h0m0 5h0m3-1h0m1 0h0m0 1h0m3-2h0m2 0h0m-4-4h0m-2-4h0m-1 0h0m0-1h0m-1-2h0m-3 3h0m-1 2h0m-1 1h0m5-12h0m1 0h0m0-3h0m2 1h0m1 0h0m0-1h0m0-1h0m0-1h0m1 0h0m0 1h0m0 1h0m1 0h0m0 2h0m-1 0h0m0 1h0m-1 0h0m2 1h0m0 1h0m0-8h0m0-1h0m-1 0h0m-2 1h0m-1 0h0m-13-2h0m15-14h0m2-3h0m2-1h0m1 0h0m0 3h0m0 2h0m2 6h0m5 1h0m0-3h0m0-1h0m2 2h0m1-5h0m8-3h0m-1-11h0m-5-14h0m-20-4h0m3 25h0m4-2h0m21-46h0m7-37h0m-21-4h0m10-17h0m-8-12h0m16 0h0m-1-13h0m0-1h0m-1-1h0m-1 0h0m-1 0h0m0 1h0m0-3h0m0-1h0m0-2h0m1 0h0m0-1h0m1 0h0m0-1h0m0-1h0m0-1h0m-1 0h0m0-1h0m1-1h0m0-1h0m0-1h0m0-1h0m1 1h0m0 1h0m0 1h0m1 0h0m0-1h0m0-1h0m0-1h0m2 1h0m2 1h0m1-1h0m0 3h0m-5 1h0m-1 2h0m-1 3h0m0 3h0m1-1h0m1 0h0m1 1h0m5 0h0m-1 3h0m4 6h0m-1-21h0m-3-7h0m-1-2h0m1-10h0m3 3h0m3-4h0m0-11h0m-2 0h0m-3 0h0m0-1h0m-1 0h0m-1 0h0m0-1h0m-1 0h0m0-1h0m-1 0h0m-1 0h0m1-1h0m1 0h0m0-1h0m1 1h0m0 1h0m1 0h0m0-1h0m0 2h0m-1 2h0m-1 0h0m-2 0h0m-2 0h0m1-1h0m2 0h0m0 4h0m-1 0h0m1 1h0m0 1h0m0 1h0m1-1h0m0-1h0m1-1h0m0-1h0m0-1h0m2 0h0m0 2h0m0 1h0m10 0h0m-19 3h0m0 3h0m-2 0h0m3 2h0m-7 1h0m-4 2h0m6-20h0m3 1h0m2-1h0m1 1h0m1-5h0m2-11h0m1-1h0m0-2h0m-1-2h0m2 0h0m0-1h0m1 1h0m1 0h0m1 0h0m0-1h0m0-2h0m0-2h0m-1 0h0m0-1h0m2 0h0m0-1h0m0-1h0m-1 0h0m0-1h0m1 0h0m0-1h0m0-1h0m-1 0h0m0-1h0m1 0h0m0-1h0m1 0h0m0 1h0m0 1h0m0 1h0m1 0h0m0-1h0m0 2h0m0 4h0m1 0h0m-3 0h0m0 1h0m2 1h0m0 1h0m2-1h0m-1 5h0m-3-1h0m0 2h0m0 1h0m0 1h0m0 1h0m-2 0h0m0 1h0m0-4h0m3 2h0m1 0h0m0 2h0m-1 1h0m3-2h0m2-13h0m1-2h0m-3-2h0m-2-3h0m0-1h0m0-1h0m1 0h0m-3 0h0m0-1h0m1 0h0m0-3h0m-1 0h0m0-2h0m1 1h0m1 0h0m0-1h0m0-1h0m0-1h0m0-1h0m0-1h0m1-1h0m0-1h0m1 1h0m0 1h0m1 0h0m0-1h0m1-1h0m1 0h0m0-2h0m0-2h0m0-1h0m-2-1h0m1-1h0m2 0h0m0-1h0m-4 0h0m-1-2h0m0-1h0m4 0h0m-1-2h0m0-1h0m-1-1h0m0-2h0m0-1h0m-2 0h0m-1-1h0m-2-2h0m1-4h0m4 1h0m0 1h0m0 2h0m1-1h0m1 2h0m1-1h0m0 3h0m-1 1h0m0 2h0m2 2h0m0 1h0m1 0h0m3 0h0m0-2h0m-1 0h0m-1-3h0m-1-1h0m2-2h0m2 1h0m2-4h0m2-1h0m1 2h0m-4-5h0m-3 0h0m-1-1h0m2 0h0m1-4h0m1-2h0m-3 0h0m-2 0h0m-1 1h0m-1 1h0m-1 1h0m-2 0h0m1 4h0m1 1h0m1-1h0m2 2h0m-1 2h0m1-8h0m-3-3h0m0-5h0m1 1h0m1 0h0m1 1h0m2 1h0m2-1h0m5 0h0m0-2h0m-2-4h0m4-3h0m1-1h0m2-3h0m4-1h0m-1-2h0m-7 0h0m0-1h0m-2-1h0m1 3h0m-9-1h0m0-2h0m0 4h0m-1 0h0m0 8h0m-1 1h0m-9 8h0m20 2h0m2-1h0m4-2h0m3 3h0m2-8h0m1-5h0m0-12h0m-6-1h0m-3-5h0m1-2h0m1-1h0m0-3h0m2 1h0m1 2h0m-6-2h0m-5 2h0m1 3h0m-6 1h0m0 4h0m1 0h0m1-1h0m-1-11h0m-3 0h0m4-2h0m0-1h0m2-1h0m-1-3h0m0-5h0m2-3h0m0-1h0m0-4h0m0-4h0m1-3h0m-3 0h0m0-11h0m4-4h0m1 1h0m1-3h0m-2-2h0m2-4h0m2 1h0m4 4h0m-1 2h0m-1 7h0m-4 4h0m7 1h0m4-1h0m-4 8h0m-4 13h0m0 4h0m-1 3h0m4-1h0m0-1h0m-8 0h0m11-44h0m1-8h0m4 4h0m5 11h0m4-2h0m-12 104h0m-19 6h0m-2 0h0m-2 2h0m-4 0h0m-1-1h0m0-1h0m2 9h0m2 0h0m-1 3h0m0 2h0m-1 1h0m-3-2h0m-5-3h0m0-4h0m0 12h0m1 0h0m0 2h0m-2 1h0m-1 1h0m0-3h0m-3 0h0m-2 11h0m6-2h0m17-25h0m-28-20h0m-27 181h0" stroke="#ff0000" stroke-width="6.4" stroke-linecap="square" fill="none"/>
<path transform="scale(.5)" d="M852 893h0m2 0h0m4 4h0m4-5h0m3-2h0m9-7h0m5-2h0m2 1h0m0-10h0m6 2h0m5-1h0m0-4h0m9-9h0m7-2h0m8-2h0m1 1h0m2-1h0m-2 7h0m1 10h0m-7 4h0m-6 1h0m0-4h0m21 3h0m8-10h0m-3-12h0m-3-1h0m1-1h0m-1-4h0m-1-2h0m-4 0h0m10-6h0m1-1h0m3 1h0m2-2h0m1 1h0m2-2h0m5 2h0m4 1h0m4 1h0m1-3h0m4-1h0m0-1h0m6 0h0m2-5h0m-7-1h0m1-2h0m-3-2h0m0-4h0m1-5h0m1-1h0m1-2h0m0 4h0m2-2h0m3-1h0m1 3h0m0 4h0m-2 1h0m6 4h0m5 1h0m-3-8h0m-1-2h0m-1 0h0m-2-4h0m0-4h0m-1 0h0m0-4h0m-2-1h0m-2 3h0m-5 2h0m1-5h0m-6 8h0m-2 4h0m-4 2h0m-1 1h0m-3 5h0m-2 4h0m-4-3h0m-1-1h0m-4 1h0m0 4h0m-5 3h0m1-18h0m12 2h0m4-3h0m-5-4h0m8 17h0m2 6h0m3 0h0m-6 15h0m0 1h0m-4 1h0m-1-3h0m-1 0h0m-2 2h0m-2 6h0m6 2h0m5 11h0m8 2h0m15-10h0m8 3h0m2-12h0m0-3h0m-4-9h0m-6-1h0m12-5h0m0-9h0m0-4h0m-1-1h0m2 0h0m3-3h0m1 1h0m-3-4h0m-1-1h0m-2 0h0m1-2h0m-2-1h0m1-2h0m-3 0h0m-1 4h0m7 0h0m1 0h0m2-1h0m1 0h0m1-1h0m0 3h0m1 0h0m2-4h0m-1-3h0m0-1h0m2-1h0m1 0h0m2 0h0m-1-2h0m1-2h0m1 0h0m2-1h0m0-3h0m-1 0h0m-2 0h0m-1 0h0m-1-3h0m1-1h0m3 1h0m1-2h0m2-1h0m0-3h0m-3 0h0m-1 0h0m-3-1h0m-1 0h0m-3 3h0m0 2h0m-2-1h0m-2 2h0m1 1h0m-3 1h0m-5 0h0m1 2h0m1 0h0m1 1h0m-1 2h0m0 3h0m0 3h0m3 4h0m1-8h0m3 3h0m1-1h0m2-2h0m3-2h0m-3-5h0m0-1h0m9 3h0m2-2h0m1 0h0m1 3h0m0 3h0m0 4h0m-3 0h0m-1 0h0m0 11h0m-2 1h0m-4-1h0m2 8h0m5-5h0m1-5h0m1 1h0m7-2h0m-1-6h0m0-4h0m1 0h0m2-3h0m0-3h0m-1-4h0m-2 0h0m-4-2h0m-2-1h0m1-1h0m1-1h0m-3-2h0m-2-1h0m1-2h0m1-1h0m2-1h0m1-2h0m1-1h0m-1-2h0m0-3h0m-3-1h0m-1 0h0m2-4h0m1-1h0m2-1h0m-4-2h0m9 0h0m0 4h0m-1 0h0m0 1h0m-1 3h0m0 1h0m1 0h0m-1 2h0m2 1h0m2-1h0m0 4h0m1-1h0m5 0h0m0-1h0m0 2h0m1-1h0m0-3h0m1-1h0m0 2h0m3-2h0m2 0h0m0 3h0m1 0h0m1 0h0m0 1h0m-1 1h0m-3 1h0m-1 0h0m1 1h0m1 0h0m1 2h0m1 0h0m0 2h0m2-1h0m1 1h0m-7 0h0m-1-2h0m-2 1h0m-3 0h0m-1-1h0m0 2h0m-1 0h0m-1 0h0m-2-1h0m-2 1h0m1 4h0m2-1h0m2 2h0m1-1h0m2-1h0m1 2h0m0 1h0m2-1h0m1 2h0m0 2h0m1 4h0m0-9h0m5 1h0m6 3h0m2-2h0m6 2h0m3-4h0m0-4h0m3 1h0m3-4h0m0-4h0m-4 1h0m-4 0h0m-1 2h0m-5 0h0m-1-2h0m-1 0h0m-2 0h0m-2-3h0m-1-1h0m2 0h0m1-3h0m0-2h0m1-1h0m-2-1h0m-2 0h0m-1 0h0m1 1h0m-2 1h0m-2-1h0m-1 0h0m-2 0h0m-1-1h0m0 2h0m-2 0h0m-2 2h0m-1 1h0m0 1h0m-3-2h0m0-1h0m3-4h0m0-1h0m-2-7h0m5-2h0m1 1h0m0-6h0m-2-4h0m-7 2h0m-3-1h0m-5 5h0m-8 6h0m-11 2h0m2 4h0m4 8h0m5 5h0m0 5h0m2-2h0m9-2h0m8 13h0m1 1h0m19 11h0m0 4h0m-3 5h0m-10 13h0m-8 3h0m-1 5h0m-1-13h0m-21 10h0m-3 7h0m11 2h0m0 1h0m-5 9h0m28-6h0m21 4h0m33-8h0m5-25h0m10-21h0m4-8h0m2-6h0m1-5h0m-7-4h0m1-6h0m0-7h0m-6 0h0m-4-4h0m-5 1h0m-2 0h0m-1-1h0m-2 0h0m-1 0h0m1-3h0m1-1h0m-2-1h0m-2 0h0m-1-2h0m-1 0h0m-1 0h0m-1 0h0m-3 0h0m-2-1h0m-1-1h0m-1 0h0m-4 0h0m-1 0h0m-1-1h0m0-1h0m1-1h0m1 0h0m1 1h0m1 0h0m1-1h0m0-3h0m2-1h0m0 2h0m4 1h0m3 2h0m0 1h0m0 7h0m-3-1h0m0-1h0m-3 3h0m-3 0h0m-1-1h0m1-1h0m1 3h0m-1 2h0m0 1h0m1 1h0m1 0h0m2-1h0m0 2h0m2-2h0m3-1h0m1 3h0m1-1h0m-3 4h0m-2 0h0m-1 5h0m2 3h0m3-2h0m1-1h0m-1 6h0m0 9h0m6-1h0m-1 4h0m-11-1h0m-2-1h0m0-3h0m-1-6h0m-2 1h0m0-3h0m-4 0h0m1-2h0m-1-2h0m1-1h0m-3 0h0m-1 0h0m0 1h0m-5 0h0m-1 1h0m-2 1h0m-3 0h0m0 1h0m-2 0h0m-1 0h0m0 1h0m1 0h0m-2 1h0m1 3h0m2-1h0m2 0h0m1 1h0m0 1h0m0 1h0m-1 1h0m0-7h0m2 2h0m2 2h0m2 0h0m0-4h0m-1-1h0m1-1h0m0-3h0m-3 0h0m-1-3h0m-1-2h0m-2 0h0m-2-1h0m-2 0h0m0-2h0m1 0h0m1-1h0m2 0h0m0-3h0m1 0h0m1 0h0m0 2h0m1 2h0m1-3h0m0-2h0m-1-3h0m-2-1h0m0-1h0m1 0h0m-2-2h0m-6 1h0m-1 1h0m-1 1h0m1 1h0m-3 0h0m0 6h0m-1 0h0m0 3h0m1-1h0m0 2h0m-4 1h0m1 2h0m1 2h0m2 0h0m1-1h0m3 0h0m0-2h0m2 0h0m0 1h0m0 1h0m1 1h0m2-1h0m6-2h0m1 0h0m0 1h0m1-1h0m0-1h0m1 0h0m0 1h0m1 1h0m0-5h0m0-2h0m-1 0h0m-1-1h0m-1 0h0m3-1h0m1-1h0m2 0h0m0-3h0m-2 0h0m-2-1h0m-1 0h0m0 2h0m1 1h0m-1-6h0m4 0h0m3 0h0m0 2h0m0 1h0m0 6h0m1 0h0m1 0h0m0 1h0m1 1h0m-3 0h0m0 1h0m-1 0h0m-2 0h0m0 2h0m3 0h0m0-1h0m-2-3h0m-5 3h0m-8-6h0m-1-2h0m-4 2h0m1 1h0m0 1h0m-3-1h0m3-10h0m1-9h0m1 1h0m-8 3h0m18 0h0m0 2h0m-3 2h0m8-3h0m-1-2h0m3 1h0m3-2h0m-5-3h0m-2 0h0m3-2h0m-3-7h0m-6 2h0m3-7h0m7-2h0m8 2h0m-1 6h0m1 7h0m1 1h0m1 1h0m3-2h0m0-2h0m-1 0h0m6 0h0m0 5h0m-2 0h0m-1 0h0m1 1h0m0 1h0m-3-1h0m5 3h0m1 2h0m0 4h0m1 0h0m0 2h0m-2-1h0m3-2h0m1 1h0m1 0h0m1 0h0m0-3h0m-1 0h0m1-2h0m1 1h0m1 0h0m0-1h0m0-1h0m-1-2h0m0-1h0m-2 1h0m0 1h0m-3-1h0m0-2h0m-1-1h0m5-2h0m1-2h0m0-1h0m-2 0h0m0-1h0m-1-1h0m-1 0h0m0-1h0m0-3h0m-3-1h0m-2-1h0m3-2h0m0-4h0m5 0h0m-1 2h0m0 8h0m3 2h0m2 0h0m0 1h0m-1 1h0m0 1h0m1 0h0m1 0h0m0-1h0m1-1h0m1 0h0m0 3h0m-1 1h0m-2 0h0m-2 2h0m1 1h0m0 2h0m3 0h0m0 2h0m-1 1h0m-1 1h0m1 2h0m-4 0h0m3 5h0m0 1h0m4 0h0m0-2h0m0-1h0m1-2h0m3 0h0m1-1h0m1 0h0m-1-3h0m-1-2h0m-3 0h0m-1-1h0m0 2h0m1 1h0m6-1h0m1 0h0m-1-2h0m2 0h0m2 0h0m0-3h0m0-2h0m-3 0h0m-1-1h0m0-1h0m0-2h0m-2 0h0m-1-1h0m0 2h0m0 2h0m1 1h0m0 1h0m0 1h0m-4-3h0m0-5h0m-1 0h0m2 0h0m0-1h0m1 0h0m0-1h0m2 0h0m1 0h0m0-2h0m1-2h0m1-1h0m0 2h0m1-1h0m1-2h0m-1-3h0m0-4h0m3 1h0m3 0h0m0 2h0m1 0h0m1 2h0m1 1h0m0 2h0m0 1h0m1-2h0m1 0h0m2 0h0m0-2h0m0-1h0m-1 0h0m2 0h0m0 1h0m0 1h0m1 0h0m0 1h0m1-1h0m0 2h0m1-1h0m1-1h0m0-2h0m1 1h0m2 0h0m3 0h0m1-3h0m-3 0h0m-1-2h0m-2 0h0m-1 1h0m-1 1h0m-1-3h0m0-3h0m2 2h0m2 0h0m0 1h0m1-1h0m-1-2h0m-1-1h0m-1-2h0m2-1h0m1 1h0m1-2h0m0-1h0m0-1h0m0-1h0m-3 1h0m-2-1h0m-2-1h0m-3-1h0m0 2h0m-1 0h0m-1 0h0m0 1h0m1 1h0m-2 1h0m0 2h0m1-1h0m0 2h0m2 1h0m-1 3h0m-1 1h0m-1 2h0m4 0h0m0-1h0m1-7h0m-7-1h0m-2-2h0m-1 0h0m1-4h0m2 1h0m3-4h0m3-1h0m-7-5h0m-11 0h0m2 4h0m1 9h0m1-1h0m0 3h0m-3 0h0m2 2h0m0 1h0m-2 6h0m0 2h0m1-1h0m-3 0h0m1 3h0m-2 1h0m1 1h0m0 3h0m-5 0h0m1 3h0m1-5h0m-2-3h0m-2-2h0m-1-8h0m-3-3h0m1-4h0m4 1h0m2-4h0m-5-9h0m3-13h0m10 2h0m11-11h0m9 1h0m-2-10h0m-3-3h0m-3 1h0m16 1h0m5 2h0m1 0h0m1 3h0m-5 2h0m-1 13h0m6 2h0m-1 2h0m2 3h0m0 2h0m0 1h0m-2 0h0m-2-1h0m1 3h0m0 2h0m-1 1h0m-1 1h0m-1 0h0m-2-1h0m0-1h0m-4 0h0m-1 0h0m-3-3h0m5 10h0m2-1h0m0 2h0m0 1h0m1 2h0m1 0h0m2 1h0m2-1h0m0-3h0m-1-1h0m-1-2h0m-2 0h0m8 0h0m1 1h0m1-1h0m1-1h0m0-2h0m1-1h0m1 0h0m1 0h0m1-1h0m1 0h0m-1 2h0m1 1h0m0 2h0m1-1h0m0 4h0m-1 0h0m-1-1h0m-1 0h0m-2 2h0m-4-1h0m-1-1h0m0-4h0m2 0h0m-1-2h0m3-3h0m0-1h0m3-1h0m1 1h0m0-3h0m2 0h0m0-2h0m0-2h0m-5-2h0m-1 0h0m-1 5h0m10 2h0m2-1h0m0 4h0m1 2h0m-3 0h0m-1-1h0m-1 2h0m2 1h0m-1 5h0m2 3h0m1 1h0m0 2h0m-2 0h0m-2 0h0m-2 1h0m-2 1h0m-8 0h0m1 2h0m-1 2h0m-3 1h0m-3-1h0m-2 0h0m1-3h0m-3 0h0m1-1h0m3 7h0m0 4h0m2-2h0m0 5h0m-8 5h0m-3 1h0m-1-2h0m-2 1h0m-1 3h0m1 2h0m2 1h0m0-3h0m-6-1h0m0 2h0m0 3h0m1 2h0m1-1h0m-5-3h0m-3 0h0m-2 0h0m1-1h0m-2-1h0m0-1h0m1 0h0m2-1h0m1 1h0m-6 1h0m-3 0h0m-1 0h0m3-2h0m2-1h0m4-4h0m8 1h0m-6-12h0m-1 25h0m-2 0h0m0 1h0m2 3h0m2 0h0m1-2h0m0 5h0m2 2h0m2 2h0m3 1h0m1 0h0m3 3h0m0 7h0m1 0h0m-3-1h0m-2 9h0m21 0h0m7 0h0m-5-6h0m0-4h0m7-6h0m5 4h0m11-14h0m-3-4h0m-6-11h0m-6-1h0m-2-5h0m2-2h0m4 2h0m5-2h0m5-5h0m-1-3h0m1-7h0m5 0h0m-3-7h0m-4-1h0m-2-1h0m-3 0h0m0-2h0m1 0h0m0-5h0m1 0h0m1 0h0m0-1h0m0 2h0m1 2h0m1-1h0m0 2h0m1 1h0m2-3h0m4 0h0m3-3h0m2-1h0m0-4h0m1-2h0m0-1h0m-1-1h0m0-1h0m-1-1h0m0-4h0m0-1h0m0-3h0m-2-1h0m-1 0h0m0 6h0m-2 0h0m-1-1h0m0 6h0m1-1h0m0 3h0m-3 0h0m-2 0h0m0-1h0m0 3h0m-1 0h0m0 2h0m-3 0h0m-4 0h0m-1 0h0m2-1h0m0 4h0m1 0h0m1-8h0m0-6h0m-5 2h0m-3-1h0m-2-2h0m-6 0h0m2 2h0m11-11h0m6 3h0m6-3h0m4-1h0m2-1h0m0 2h0m3 6h0m2 2h0m1-1h0m1 0h0m1 0h0m0-2h0m-1-1h0m3 2h0m1-4h0m4 0h0m1 0h0m0 3h0m-1 1h0m0 8h0m1 1h0m-1 3h0m-4 0h0m1-1h0m-4 1h0m-2-1h0m0-1h0m-1 0h0m-1 4h0m1 3h0m1 6h0m3 0h0m-9 0h0m0 6h0m4 0h0m0 3h0m-1 14h0m-4 8h0m-2 3h0m24-3h0m-9-14h0m17-5h0m-4-12h0m-4-13h0m0-3h0m3-3h0m1-6h0m-1-3h0m3-1h0m0-2h0m1 3h0m1 0h0m0 1h0m1 2h0m-2 1h0m0 1h0m1 0h0m3 2h0m1 2h0m1-7h0m1-3h0m4 1h0m3-2h0m-5-3h0m-5 0h0m-8-1h0m1-2h0m1-1h0m0-2h0m-2-1h0m0-1h0m-2 0h0m-1 0h0m-2-2h0m-1-2h0m-1-2h0m0 8h0m-1 1h0m-3-2h0m-4 1h0m1 6h0m-5 0h0m-4-5h0m4-8h0m-3-14h0m0-13h0m-5-1h0m-14-3h0m-1-14h0m15-9h0m18 13h0m23-7h0m18 3h0m4-13h0m9-14h0m12-4h0m-2 14h0m3 15h0m2 5h0m-2 6h0m-4-1h0m0 4h0m-4 3h0m-2 7h0m5 3h0m3-3h0m4 1h0m0 3h0m0 6h0m1 6h0m-5 1h0m-6-5h0m-3-3h0m-8-3h0m3-3h0m-8-1h0m-2-1h0m2-4h0m6-4h0m4-5h0m20 4h0m4-1h0m4-2h0m1 0h0m2 0h0m1 1h0m-6-9h0m-1-2h0m1-5h0m2-2h0m13 6h0m8-6h0m4-1h0m0 2h0m-4-8h0m12 3h0m1-9h0m3 1h0m2 1h0m4-5h0m-1-2h0m4-1h0m2-2h0m-19 4h0m-14-5h0m0-7h0m-7 66h0m-12 5h0m-7-15h0m0-1h0m-19 19h0m-2 5h0m-8 1h0m-1-2h0m2-1h0m-1-2h0m2 0h0m3 10h0m0 3h0m-6 6h0m-4 0h0m-2-1h0m-3-5h0m-3-1h0m-3-1h0m-2 1h0m-1 0h0m-1 1h0m0-3h0m1 0h0m-2-3h0m-5 0h0m1 1h0m0-4h0m2-3h0m4-1h0m3 1h0m2 2h0m4 3h0m2-1h0m-9 8h0m-11-3h0m-5 4h0m-4 10h0m-10 9h0m-3-1h0m-3 2h0m-5 6h0m-15 16h0m0 2h0m-1 0h0m0 4h0m2 1h0m-5 5h0m-13 6h0m1 2h0m1 0h0m1 11h0m0 2h0m-5 1h0m6 4h0m-9 8h0m-4 0h0m-4-1h0m1-1h0m-7 1h0m6-8h0m5 18h0m-23-2h0m-3-1h0m0 4h0m-8 2h0m-11 2h0m0 3h0m-2 0h0m4 1h0m-1 5h0m1 3h0m5 1h0m-9 8h0m-16-11h0m-2-1h0m-27 9h0m-44 7h0m-2 0h0m-1 7h0m-4 4h0m-5 4h0m0 3h0m-3 0h0m-2 0h0m2 5h0m2 1h0m-1 6h0m0 1h0m1 0h0m3 9h0m1-19h0m1-1h0m-4-54h0m6-3h0m6-5h0m-11-28h0m44-1h0m7 10h0m13-9h0m23 2h0m10 0h0m-2-3h0m1-4h0m-18-11h0m-6-10h0m14-13h0m22-14h0m-2-6h0m18-40h0m18-5h0m3-1h0m35 35h0m31-2h0m6-3h0m0-4h0m13-1h0m0 3h0m5-6h0m5 3h0m21 21h0m4 34h0m-8 13h0m16 1h0m10-32h0m-49 24h0m14 71h0m27-8h0m-112 32h0m-10 4h0m-71 10h0m-117-41h0m-22-11h0m23-70h0m47-45h0m-82 208h0m-5 57h0m2 6h0m56-4h0" stroke="#6872f6" stroke-width="7.2" stroke-linecap="round" fill="none"/>
<line x1="397.2" y1="473.5" x2="683.3" y2="261.4" stroke="#32902a" stroke-width="1.6" stroke-dasharray="9.5 6.3"/>
<rect x="397.2" y="261.4" width="286.1" height="212.1" fill="none" stroke="#000" stroke-width="1.4"/>
<path d="M425.8 473.5v4M397.2 452.3h-4M483 473.5v4M397.2 409.9h-4M540.2 473.5v4M397.2 367.4h-4M597.5 473.5v4M397.2 325h-4M654.7 473.5v4M397.2 282.6h-4M454.4 473.5v2.2M397.2 431.1h-2.2M511.6 473.5v2.2M397.2 388.7h-2.2M568.9 473.5v2.2M397.2 346.2h-2.2M626.1 473.5v2.2M397.2 303.8h-2.2" stroke="#000" stroke-width="1.3"/>
<text transform="translate(425.8 488.7) scale(1 1.1)" font-size="10.8" text-anchor="middle">-2</text>
<text transform="translate(390.7 456) scale(1 1.1)" font-size="10.8" text-anchor="end">-2</text>
<text transform="translate(483 488.7) scale(1 1.1)" font-size="10.8" text-anchor="middle">-1</text>
<text transform="translate(390.7 413.6) scale(1 1.1)" font-size="10.8" text-anchor="end">-1</text>
<text transform="translate(540.2 488.7) scale(1 1.1)" font-size="10.8" text-anchor="middle">0</text>
<text transform="translate(390.7 371.1) scale(1 1.1)" font-size="10.8" text-anchor="end">0</text>
<text transform="translate(597.5 488.7) scale(1 1.1)" font-size="10.8" text-anchor="middle">1</text>
<text transform="translate(390.7 328.7) scale(1 1.1)" font-size="10.8" text-anchor="end">1</text>
<text transform="translate(654.7 488.7) scale(1 1.1)" font-size="10.8" text-anchor="middle">2</text>
<text transform="translate(390.7 286.3) scale(1 1.1)" font-size="10.8" text-anchor="end">2</text>
<text transform="translate(540.2 502.2) scale(1 1.1)" font-size="11.85" text-anchor="middle"><tspan font-style="italic">&#916;G</tspan><tspan font-style="italic" font-size="8.5" dy="2.8">H</tspan><tspan dy="-2.8"> DFT</tspan></text>
<text transform="translate(380 367.4) rotate(-90) scale(1 1.1)" font-size="12.5" text-anchor="middle">&#916;G<tspan font-style="italic" font-size="9" dy="3">H</tspan><tspan dy="-3"> ML</tspan></text>
<text transform="translate(362.4 273.1) scale(1 1.0)" font-size="17.5" text-anchor="start">(d)</text>
<text transform="translate(402.7 275.9) scale(1 1.1)" font-size="11.2" text-anchor="start">XGBR</text>
<path d="M415.5 286.1l.01 .01" stroke="#ff0000" stroke-width="3.2" stroke-linecap="square"/>
<text transform="translate(431.7 289.7) scale(1 1.1)" font-size="11.2" text-anchor="start">Trainset</text>
<text transform="translate(408.4 305.4) scale(1 1.1)" font-size="11.2" text-anchor="start">R<tspan font-size="6.8" dy="-4.2">2</tspan><tspan dy="4.2"> = 0.997</tspan></text>
<text transform="translate(408.4 319.7) scale(1 1.1)" font-size="11.2" text-anchor="start">MAE = 0.022</text>
<text transform="translate(408.4 334.3) scale(1 1.1)" font-size="11.2" text-anchor="start">MSE = 0.001</text>
<text transform="translate(408.4 348.4) scale(1 1.1)" font-size="11.2" text-anchor="start">RMSE = 0.038</text>
<circle cx="607.1" cy="404.2" r="1.8" fill="#6872f6"/>
<text transform="translate(623.4 407.4) scale(1 1.1)" font-size="11.2" text-anchor="start">Testset</text>
<text transform="translate(600.1 423.2) scale(1 1.1)" font-size="11.2" text-anchor="start">R<tspan font-size="6.8" dy="-4.2">2</tspan><tspan dy="4.2"> = 0.912</tspan></text>
<text transform="translate(600.1 437.8) scale(1 1.1)" font-size="11.2" text-anchor="start">MAE = 0.107</text>
<text transform="translate(600.1 452.1) scale(1 1.1)" font-size="11.2" text-anchor="start">MSE = 0.040</text>
<text transform="translate(600.1 466.2) scale(1 1.1)" font-size="11.2" text-anchor="start">RMSE = 0.200</text>
<path transform="rotate(45) scale(.5)" d="M943 736h0m75-26h0m38-14h0m14 2h0m10-22h0m16-5h0m-5-7h0m8-7h0m16 4h0m2 0h0m4-6h0m-1-3h0m-2-8h0m5-1h0m2-1h0m1 3h0m4-4h0m2-3h0m3 0h0m0-2h0m-1-1h0m1 6h0m-2 2h0m9-1h0m3-4h0m4-5h0m6 4h0m-1 5h0m4-2h0m-3-15h0m1-10h0m-2-2h0m0-2h0m1 0h0m-1-5h0m10 0h0m4 4h0m-3 7h0m0 5h0m-6-5h0m13 9h0m-1 5h0m19 10h0m4 9h0m-6 29h0m-10-1h0m-8 2h0m-9-3h0m-7 0h0m-3 6h0m-4-1h0m-3 2h0m2 2h0m-1 4h0m-3 4h0m-3 4h0m-5-2h0m-14 1h0m1 3h0m-4 4h0m-3 2h0m1 1h0m-10 2h0m-4-7h0m-8-14h0m20-2h0m-1-4h0m9-7h0m3-11h0m27-3h0m0-2h0m0-6h0m-4 2h0m18 8h0m3 4h0m-13 26h0m-3 4h0m1 2h0m-2 1h0m-3 3h0m12-1h0m-1 6h0m-5 5h0m-2 0h0m3 4h0m-1 4h0m-11 1h0m-1-2h0m-1 4h0m3 0h0m-1-9h0m-2 0h0m-6 0h0m0-1h0m-2-1h0m0-1h0m0-2h0m2 0h0m-4 1h0m2 8h0m1 1h0m1 2h0m0-5h0m-9 2h0m-2 0h0m0 2h0m0 2h0m1 2h0m1 0h0m-1 9h0m0 1h0m-8 0h0m-1 0h0m0-1h0m-1 0h0m-1 1h0m-2 0h0m3 5h0m2 0h0m1 1h0m0 2h0m0 1h0m1 0h0m0-1h0m2 0h0m2 1h0m1 0h0m-1 3h0m0 1h0m-1 2h0m-2-1h0m-1-2h0m0-1h0m-2 0h0m-2 0h0m0 1h0m2 1h0m-5-2h0m1-2h0m1-1h0m0-1h0m-3 1h0m-2 2h0m0 2h0m-3-1h0m0-3h0m-2-1h0m-4-4h0m-1 0h0m-2-1h0m-1-2h0m-6 0h0m-2 7h0m4 2h0m3 2h0m4 0h0m2 4h0m1 2h0m2 1h0m0 3h0m-1 3h0m0 1h0m1 0h0m0 2h0m1-3h0m-4 1h0m-2 1h0m0 3h0m0 1h0m2 2h0m0 1h0m0 1h0m-2 2h0m-1 1h0m0 4h0m-3 1h0m-1-2h0m-2-1h0m-2 0h0m0 2h0m-1 7h0m2 3h0m0 1h0m0 10h0m0 3h0m-4 1h0m5 4h0m-1 2h0m-1 3h0m3-1h0m3-1h0m0-2h0m0-4h0m2-2h0m0-3h0m4-1h0m0 6h0m3 0h0m2-1h0m2 4h0m2 0h0m3-2h0m1 0h0m0-4h0m1 0h0m1-1h0m-3-1h0m2-2h0m0-3h0m0-1h0m1 1h0m0-3h0m0-1h0m0-1h0m0-1h0m0-1h0m1 0h0m1-2h0m1 0h0m-2-3h0m0-2h0m0-1h0m-2 1h0m-3 1h0m0 2h0m0 2h0m-1 1h0m-1 0h0m3 1h0m0 2h0m-3 4h0m-3 3h0m-3-4h0m-5-4h0m2-3h0m-1-2h0m2-3h0m2 0h0m0 2h0m2-1h0m-1-2h0m-1-2h0m4 1h0m1-1h0m0-1h0m-1-1h0m0-5h0m0-2h0m-2 0h0m1-2h0m2-5h0m1-4h0m-3-1h0m0-2h0m0-2h0m1 1h0m2 0h0m3 3h0m0 3h0m-1 0h0m1 4h0m2-1h0m1-5h0m3 8h0m0 2h0m1-1h0m0 5h0m-1 0h0m-2-1h0m-2 2h0m1 1h0m2 2h0m-5 0h0m-2 4h0m2 3h0m8-3h0m0-9h0m3-6h0m9 6h0m2 3h0m0 1h0m2 11h0m-9 0h0m0-1h0m10 15h0m10 8h0m2-2h0m5-3h0m-35 4h0m-6 5h0m-2 0h0m-1 3h0m3-1h0m0 2h0m-8-1h0m0-2h0m0 4h0m2 2h0m-1 4h0m-1 2h0m0 1h0m-1 0h0m-10 0h0m-2-1h0m0 2h0m-3-2h0m-3 1h0m-3-2h0m4-2h0m2-3h0m3-3h0m3 3h0m2 3h0m2 11h0m-1 4h0m-5 0h0m-2 5h0m2 3h0m-10-2h0m1-7h0m-12 4h0m0-10h0m0-6h0m-4 0h0m5-6h0m4-8h0m-12-1h0m4-7h0m12-7h0m12 1h0m-1-23h0m0-1h0m1-5h0m1-5h0m1-3h0m-8-2h0m-1 10h0m-4 9h0m-1 5h0m-5 2h0m-15 7h0m5-20h0m2-11h0m-2-8h0m12 2h0m1-17h0m19-1h0m4-3h0m2-1h0m4-6h0m12-4h0m12 13h0m1 4h0m9-1h0m8 2h0m5-3h0m1-2h0m5 3h0m1-16h0m0-4h0m9-3h0m15-17h0m24 4h0m19-78h0m-1-31h0m-37 1h0m-6 0h0m-12-2h0m3-4h0m-11 1h0m-9 1h0m-2 6h0m-17 5h0m-4 7h0m-1 0h0m0 2h0m-2 0h0m0 5h0m2 0h0m1 2h0m1 0h0m0 1h0m2 0h0m0-3h0m-5 6h0m-5-2h0m-2-4h0m2-2h0m-5-4h0m-2 1h0m5-9h0m4 4h0m3-17h0m3-2h0m0-2h0m1 3h0m2-1h0m-10-4h0m-1-2h0m-6 2h0m-4-3h0m-1 0h0m-1-1h0m5-2h0m-13 1h0m0 10h0m11 3h0m13-17h0m2-4h0m0-3h0m-1-1h0m1-8h0m-5 2h0m11 0h0m-1-5h0m3-1h0m-1-4h0m-5 0h0m-2-10h0m3-4h0m3 0h0m1-10h0m0-3h0m-8-5h0m-9-4h0m-4-3h0m2 15h0m3 3h0m4 4h0m-1 2h0m-14 12h0m-2 1h0m2 9h0m32-1h0m1 5h0m-2 1h0m1 3h0m5-2h0m3 1h0m2 1h0m-3 3h0m-1 0h0m2 1h0m0 1h0m1 0h0m-2 1h0m1 2h0m1 0h0m1 0h0m2-2h0m0-1h0m3 4h0m5-10h0m4 0h0m1-2h0m-2-4h0m-2-7h0m3-1h0m-2-5h0m-5 0h0m-2 0h0m-1 0h0m-2-1h0m-2-2h0m3-2h0m3 3h0m0 4h0m4-5h0m0-3h0m-1 0h0m-2-1h0m3-1h0m0-3h0m-1-1h0m0-1h0m1-3h0m-1-3h0m-1-1h0m0-1h0m-1 0h0m-1 1h0m0 2h0m-1 2h0m-1 1h0m-3 2h0m-2 0h0m0-1h0m0 2h0m-1-4h0m2-1h0m2-2h0m5-4h0m1-1h0m1 1h0m0 2h0m1 0h0m3 0h0m0 4h0m1-1h0m2-1h0m0-3h0m0-1h0m1 0h0m1 0h0m-2-2h0m-1 0h0m-1 0h0m0-1h0m-1-1h0m1-1h0m1 0h0m0-1h0m-1-1h0m-2 0h0m1-4h0m0-3h0m-1-1h0m-4 0h0m0 1h0m-1 1h0m-2 0h0m-2-1h0m0-2h0m1 1h0m1-1h0m0-1h0m0-3h0m-2 0h0m0-2h0m-1 0h0m2 1h0m0-3h0m1 0h0m0-1h0m3 3h0m0 2h0m0 2h0m2 0h0m0-1h0m-1-2h0m4 0h0m1 1h0m3 0h0m0-2h0m0-6h0m-1-1h0m-1 0h0m-1 1h0m-4 0h0m0 1h0m-1-5h0m-2 0h0m0-4h0m4 1h0m2 1h0m1-3h0m0-2h0m1-3h0m-4-1h0m-2 0h0m-1 2h0m10 1h0m-1 3h0m0 4h0m0 3h0m3 1h0m0-3h0m2-5h0m3 0h0m0-3h0m0-2h0m0-3h0m-4-1h0m-8-2h0m0-4h0m-4 0h0m1-2h0m0-7h0m-3 0h0m4-2h0m-1-2h0m0-1h0m1-2h0m4 1h0m5 2h0m0 7h0m0 2h0m1-3h0m-3 0h0m-5-1h0m5 7h0m6-1h0m0-4h0m1 1h0m3 0h0m0-5h0m0-11h0m1-3h0m2-3h0m2 2h0m2 1h0m1-4h0m-2-1h0m-1-3h0m2-1h0m-5-3h0m-1-4h0m3-1h0m1 2h0m-2-6h0m-1-1h0m-2 0h0m1-6h0m-13 0h0m0 2h0m0 1h0m0 4h0m1 0h0m-1 2h0m1 4h0m-2 1h0m-5-2h0m-8-1h0m6 17h0m4 2h0m1-1h0m8-4h0m3-7h0m19-1h0m-2-4h0m-4-5h0m11 3h0m6 13h0m-15 0h0m1 10h0m2 13h0m0 4h0m3-3h0m-12 5h0m-3-1h0m1 3h0m2 2h0m0 1h0m2-2h0m-7 7h0m0 8h0m2-2h0m3 1h0m-1 9h0m5 0h0m1 2h0m2 7h0m-1 3h0m0 1h0m-5-1h0m0 2h0m-1 3h0m-5-1h0m0-1h0m-1 0h0m-3 3h0m0 2h0m-3 4h0m-1 4h0m3-1h0m0 2h0m-3 4h0m-4 0h0m-1 0h0m-1 1h0m0 2h0m0 1h0m1-1h0m-3 0h0m5 2h0m3 4h0m0 5h0m-7-4h0m9-7h0m3 3h0m2-1h0m1 0h0m0 3h0m-1 10h0m-5 7h0m10 7h0m0 3h0m-16 2h0m-22-21h0m4-8h0m-4-22h0m-2-2h0m1-7h0m-3-6h0m-7 9h0m15 2h0m2-1h0m2 3h0m0 2h0m1 0h0m0-1h0m1-3h0m2 1h0m3-3h0m7-1h0m0 3h0m0 7h0m-2 2h0m-4-2h0m-1 0h0m11-10h0m0-1h0m2-1h0m-3-3h0m4-3h0m3-4h0m6 6h0m0 1h0m-1 1h0m-3 18h0m16-4h0m-1-5h0m7 8h0m5-2h0m-2-19h0m-10-7h0m-2-9h0m10-5h0m10-20h0m-2-39h0m5 0h0m-8-17h0m-5-2h0m-10 0h0m-3 0h0m-1-5h0m0-4h0m-4 0h0m-2-6h0m5-6h0m3-8h0m10 11h0m-6 9h0m-2 3h0m2 8h0m3 5h0m-13 0h0m-16-3h0m-1 6h0m2 2h0m2-15h0m0-15h0m39 10h0m1 0h0m-62 74h0m-6 0h0m-4 18h0m10 2h0m0 1h0m1 5h0m-49 22h0m-10 17h0m-1 39h0m6 32h0m2 3h0m9 12h0m13 6h0m-40 6h0m101-14h0m27-72h0m-11-12h0m-70 219h0m-4 1h0m-1-2h0m7 6h0m1 3h0m12 14h0m-43-1h0m2-19h0m7 71h0m3 8h0m-5 8h0m-2 12h0m-1 1h0m1 1h0m-4-4h0m1 10h0m2 3h0m-2 7h0m-11 0h0m0 7h0m0 3h0m9 0h0m8 6h0m-16 5h0m0 4h0m-6 2h0m0 5h0m-8 3h0m8 8h0m-1-23h0m-5-7h0m-1-13h0m5-4h0m0-8h0m-6-2h0m-3-2h0m-4 7h0m-9 1h0m-11-1h0m0 14h0m-1 5h0m9-2h0m5-2h0m4 1h0m5-3h0m12-1h0m5-12h0m5-3h0m41-26h0" stroke="#ff0000" stroke-width="6.4" stroke-linecap="square" fill="none"/>
<path transform="scale(.5)" d="M126 1410h0m6 5h0m4-10h0m-1-3h0m9 0h0m4-3h0m3-9h0m0-2h0m9 0h0m-2 3h0m-1 2h0m2 0h0m-3 2h0m8-1h0m4 2h0m7-5h0m4-5h0m5 3h0m4 1h0m-1-10h0m-1-2h0m-6-1h0m-10 0h0m-1 5h0m3-1h0m-7 0h0m1 4h0m-9-4h0m1-9h0m15 0h0m0-1h0m6-7h0m22-5h0m3 2h0m5 0h0m1 0h0m-2-2h0m0-6h0m-1 0h0m6-2h0m3 0h0m3-1h0m2-2h0m0 5h0m-1 3h0m-2 1h0m2 2h0m-2 4h0m1 7h0m0 2h0m2-4h0m-8 2h0m1 4h0m-9 0h0m-1 14h0m17-1h0m-1-4h0m6-4h0m18-7h0m6-15h0m5-4h0m0-1h0m-1-9h0m-1-3h0m1-2h0m1-3h0m0-3h0m1-2h0m1 0h0m0-2h0m-1-1h0m-1 0h0m-1 0h0m-2 1h0m0 1h0m-1 1h0m-3-1h0m0-1h0m1-1h0m-1-3h0m0-4h0m2 1h0m0-3h0m3 0h0m1 1h0m2 1h0m0-4h0m-5-1h0m-5 1h0m-3-1h0m-3 2h0m0 2h0m-7 1h0m-5 7h0m-1 0h0m-4 4h0m-3 5h0m3 5h0m0 2h0m7-1h0m1-2h0m0-5h0m1 0h0m-4 0h0m5-3h0m3-2h0m3 2h0m1-3h0m-1-2h0m4 0h0m0-1h0m2 0h0m0 6h0m-1 2h0m2 1h0m1 1h0m-4 4h0m0 1h0m-2 0h0m3 1h0m1 1h0m4-1h0m0 5h0m10-1h0m0-4h0m-2-3h0m7 0h0m0-1h0m-1-2h0m1-1h0m2-1h0m0-1h0m-3-1h0m-2-1h0m0-3h0m0-2h0m2 1h0m2 1h0m3-3h0m1-1h0m1-1h0m-1-3h0m1-2h0m1 0h0m1-1h0m1 2h0m1 3h0m2 0h0m0 1h0m1-2h0m1 1h0m0 3h0m-6 0h0m1 5h0m1-1h0m-4 6h0m0 2h0m-1 4h0m-5 0h0m0 6h0m7 1h0m2 1h0m4-12h0m4 0h0m2 4h0m4 2h0m2 3h0m8-2h0m2 0h0m-3-5h0m-3-5h0m-1-6h0m-2-3h0m1-3h0m4 0h0m1-2h0m1-4h0m-5-1h0m-1-1h0m-3 1h0m-3 1h0m-1 0h0m-2 1h0m0 1h0m0 1h0m2 0h0m3-1h0m0-6h0m-2 1h0m-1-2h0m-2-1h0m-2-2h0m-5 0h0m-2 0h0m0-1h0m1 2h0m-4 1h0m-1 3h0m-1 1h0m-2-2h0m-1-2h0m1-2h0m0-4h0m0-2h0m-2 1h0m-3-1h0m0-3h0m3 0h0m7-1h0m4-1h0m0-4h0m1-2h0m3 2h0m-1 3h0m3 1h0m1 2h0m-1 2h0m-1 0h0m-2 2h0m-5 0h0m2-2h0m1 11h0m0 1h0m-1 1h0m6 0h0m-1 3h0m3 7h0m3 7h0m-2 3h0m2 21h0m-19 8h0m-8-30h0m0-10h0m-3 1h0m4-5h0m2 2h0m1-1h0m-4-9h0m-7-3h0m-12 1h0m2 2h0m15-14h0m13-8h0m-1-12h0m9-10h0m10 4h0m2-1h0m1 2h0m4 4h0m-1 2h0m4 4h0m0 5h0m2 0h0m0 1h0m-1 1h0m2 1h0m0 4h0m0 2h0m0 1h0m-1 0h0m0 1h0m-2 0h0m0-1h0m1-1h0m-1-2h0m1-1h0m-4 0h0m0-1h0m-1 2h0m-1 1h0m-1 0h0m-2-1h0m0-2h0m1-1h0m-2-1h0m-3 1h0m-3 3h0m4 4h0m1 0h0m0 2h0m-1 0h0m1 2h0m-1 2h0m-1 4h0m-1 0h0m4 1h0m4-2h0m0-2h0m-1-1h0m1-3h0m0-4h0m-2 0h0m-2-1h0m3-8h0m3 0h0m2 3h0m6 2h0m1-1h0m2 0h0m0 3h0m0 1h0m-1 0h0m1 2h0m0 1h0m0 1h0m-1 0h0m0 2h0m-3 0h0m-1 0h0m-2 1h0m0 1h0m1 0h0m0 1h0m4 0h0m0 1h0m-1-3h0m-1-4h0m5 2h0m3 2h0m0 4h0m5 0h0m2 0h0m-1 2h0m-1-5h0m6 0h0m0-5h0m-2-2h0m1-1h0m0-2h0m1 1h0m2 0h0m1-4h0m-4 0h0m-1 0h0m-1 1h0m-4 0h0m-1 0h0m0 3h0m-1 0h0m1 2h0m1 0h0m-1 2h0m3-3h0m-1-5h0m1-1h0m0-1h0m0-1h0m0-2h0m-2 1h0m1-3h0m-2-1h0m-2 1h0m-1 0h0m-4 0h0m-3 1h0m1-3h0m1-1h0m0-2h0m-2-1h0m2-2h0m3 0h0m1 2h0m1 0h0m0-1h0m1-1h0m1 0h0m0 1h0m3 0h0m1-1h0m1-1h0m2 0h0m1 2h0m1-1h0m2 2h0m0 2h0m1 0h0m1-1h0m0 2h0m1-1h0m1-1h0m0-2h0m0-2h0m-2 0h0m1-1h0m1-2h0m1-1h0m2 0h0m1-1h0m1 0h0m0 2h0m-1 0h0m1 3h0m2 1h0m0 3h0m-1 1h0m2 0h0m-1 2h0m0 1h0m-1 0h0m1 2h0m-1 3h0m-5 0h0m0 3h0m0 2h0m-2-7h0m-1-1h0m-2 1h0m-4 0h0m0-1h0m1-1h0m0-1h0m0-1h0m1-1h0m-3-1h0m-2 0h0m-3 0h0m-2 0h0m3-1h0m0-4h0m1-3h0m0-1h0m1 1h0m2-1h0m1-1h0m-2-2h0m-2 0h0m-1-7h0m0-3h0m-2-1h0m-2-1h0m0-2h0m-1-6h0m5-3h0m1 1h0m1 6h0m1 3h0m1-1h0m3 3h0m5 0h0m-2-4h0m2-3h0m-2-3h0m-1-2h0m-4-3h0m-9-8h0m17-2h0m8-7h0m2 14h0m0 9h0m3 0h0m2 1h0m1 2h0m0 2h0m0 2h0m1 3h0m1-1h0m1 0h0m1 0h0m1 0h0m1 0h0m1 0h0m1-1h0m-2-1h0m4-2h0m1 0h0m0-3h0m0-2h0m1 1h0m0 2h0m1 0h0m1-2h0m1-1h0m0-2h0m-1 0h0m0-2h0m-1-1h0m2 0h0m2-1h0m2 0h0m0-1h0m0 2h0m2 0h0m2 0h0m1-1h0m0-1h0m1 1h0m1 1h0m0 1h0m-2 1h0m-2 0h0m0 3h0m0 1h0m-1 0h0m-1 0h0m0 1h0m-2 1h0m0 2h0m0 2h0m0 1h0m-1 0h0m0 2h0m1 0h0m1-1h0m3 0h0m0-1h0m1-2h0m-2-1h0m3-1h0m0-2h0m1 0h0m1 0h0m1 0h0m0-1h0m0-2h0m-2-1h0m0 2h0m4 0h0m2 0h0m0 4h0m2 0h0m0 2h0m-1 3h0m-1 1h0m-2 0h0m-2 0h0m0-2h0m1 0h0m-3 0h0m0-3h0m2 0h0m2 0h0m-1 6h0m-1 3h0m2 1h0m-5 1h0m1 1h0m-2-3h0m0-1h0m-7 0h0m0-1h0m-4 0h0m0-2h0m-1 0h0m-1 1h0m-1 1h0m-1 0h0m-1 2h0m1 1h0m1 0h0m-1 2h0m0 1h0m2 0h0m1 3h0m-4 0h0m-2 1h0m-1 0h0m-2 0h0m0-1h0m-2 0h0m-2 1h0m0 1h0m-2 0h0m-2 0h0m0-1h0m-1 0h0m1-1h0m0-1h0m0-1h0m-2 1h0m-2 0h0m-4 0h0m0-2h0m0-4h0m0-2h0m3 2h0m1-3h0m0-2h0m-1-3h0m2-3h0m1 1h0m1 0h0m2 0h0m0 6h0m1 0h0m1 2h0m1 0h0m0 2h0m-2 0h0m1 1h0m2-2h0m1 0h0m1 2h0m-2 2h0m-1 2h0m-2 1h0m0 1h0m-1 1h0m0 2h0m-2 1h0m3 1h0m0 1h0m0 1h0m0 1h0m-1 0h0m3 0h0m1 0h0m0-1h0m-1-1h0m1-1h0m0-1h0m2 2h0m0 1h0m1 0h0m1 2h0m1-1h0m0-5h0m2-1h0m2 1h0m2 0h0m3 0h0m0 4h0m-1 1h0m0 7h0m-5-2h0m-6 0h0m-1 0h0m-1-1h0m-2 0h0m0-2h0m1 1h0m0 3h0m1 0h0m-1 3h0m0 4h0m0 3h0m2 3h0m-5 2h0m-1 1h0m1 3h0m7-1h0m7 0h0m-1-3h0m-1-8h0m-1-1h0m-12 1h0m1-6h0m-1-3h0m7-1h0m-16 0h0m1-2h0m-5-1h0m-2-6h0m1-1h0m0-2h0m0-2h0m-2 0h0m-1-2h0m5 3h0m2 2h0m8-6h0m1-1h0m1-1h0m8-1h0m1-1h0m1 2h0m0 1h0m1-1h0m0 6h0m10 0h0m0-1h0m1 4h0m1 5h0m1 1h0m1-1h0m4 1h0m-1 3h0m0 6h0m1 4h0m-4-1h0m1 3h0m1 13h0m8-23h0m0-7h0m5 1h0m-1-7h0m1-2h0m5 4h0m-2-11h0m0-2h0m-1-4h0m-1-3h0m2-1h0m1-3h0m-3 0h0m-1-2h0m-2 0h0m0 1h0m-2-2h0m-2-1h0m0-3h0m2 0h0m0-1h0m-1-1h0m-1-3h0m4 1h0m1-1h0m0-1h0m2 1h0m0 1h0m-1 2h0m-1 0h0m0 1h0m0 2h0m-2 0h0m2 2h0m2 1h0m1-1h0m3 1h0m1 0h0m1-1h0m-1-3h0m2 0h0m-1-3h0m-1 0h0m-3 0h0m1-1h0m0-1h0m1 0h0m3 0h0m2-1h0m0-2h0m0-3h0m-1-1h0m-1 0h0m-1 0h0m-3 1h0m-1 2h0m0 1h0m-1 2h0m-3-4h0m-1 0h0m-1 1h0m0-4h0m-4 0h0m-3-1h0m-2-1h0m-1-2h0m-7 0h0m-4 2h0m1 9h0m2 0h0m1 1h0m0 3h0m-1 1h0m-2 2h0m-1 4h0m-3-2h0m-2 6h0m11-1h0m1 1h0m2 0h0m-2-3h0m-1-8h0m3-1h0m0-1h0m2-2h0m-4-2h0m5 8h0m-8 14h0m0 1h0m-1 1h0m1 3h0m6 9h0m1 0h0m26-2h0m3 0h0m-1-2h0m8 3h0m3 2h0m2-8h0m4 0h0m2-5h0m-8-4h0m-2 1h0m-5-6h0m1-2h0m1-2h0m-5 0h0m0-2h0m0-1h0m-3 0h0m0-1h0m0-1h0m-1-1h0m1-1h0m0-4h0m4-1h0m0-2h0m0-2h0m1 1h0m0 2h0m2 0h0m0-3h0m2-1h0m1 1h0m2 0h0m-3 2h0m2 2h0m3 0h0m2 1h0m-1 2h0m1 1h0m2 2h0m3 0h0m1-2h0m3 0h0m-1 2h0m2 4h0m8 0h0m4 4h0m11-1h0m-3-15h0m-6 0h0m-1 0h0m0-3h0m-1-1h0m0-4h0m1-2h0m0-1h0m2-2h0m-1-3h0m-4 1h0m-1 3h0m-2 3h0m-1 4h0m1 1h0m2 3h0m-7-2h0m-2 0h0m-1 0h0m-1 1h0m0 2h0m1 1h0m-3 1h0m-2-1h0m0 3h0m-1-6h0m0-1h0m-2 0h0m0-2h0m0-2h0m-1-2h0m-3-1h0m0-2h0m0-1h0m1 2h0m3-1h0m1-1h0m1 0h0m1 2h0m3 0h0m0-2h0m1 0h0m3-1h0m-1-2h0m2 0h0m0-1h0m1-1h0m0-1h0m3-1h0m1 0h0m1-2h0m1-1h0m0-2h0m-2 1h0m-3 0h0m-1-1h0m1-1h0m0-4h0m-1 0h0m2 1h0m2-2h0m0-4h0m2 0h0m0 2h0m2-2h0m-1-2h0m2-2h0m1-2h0m-2-3h0m-3 2h0m-3-2h0m-1 4h0m-1 3h0m-14 0h0m-3-1h0m-4 2h0m3 3h0m-7 1h0m1 3h0m2 3h0m1 3h0m0 2h0m1 5h0m3-1h0m3-1h0m0 2h0m1 1h0m2-3h0m2 0h0m-3-2h0m-3 0h0m2-3h0m4 0h0m0-3h0m0-2h0m1 0h0m0-1h0m0 2h0m1 2h0m1-1h0m-1 4h0m1 2h0m2 2h0m6 3h0m1-1h0m3-3h0m1 0h0m0-1h0m1-4h0m0-4h0m-1 0h0m-2 0h0m3-2h0m1-1h0m1 3h0m0 1h0m1 1h0m0 1h0m1-2h0m0-3h0m0-2h0m2 1h0m0 1h0m0 1h0m2-2h0m0-3h0m1-1h0m-3 0h0m1-1h0m-1-2h0m2 0h0m1-3h0m2 2h0m2 2h0m0 2h0m-1 0h0m1 1h0m2-1h0m0 2h0m1-1h0m0 3h0m2 2h0m2 0h0m0-6h0m4 0h0m0-1h0m2 1h0m0 2h0m0-6h0m2-2h0m0-2h0m-2-1h0m-3 0h0m0 1h0m-2 0h0m-2 1h0m0-3h0m1-2h0m0-2h0m1-1h0m-2-1h0m-3 4h0m-1 1h0m-1 0h0m-2 0h0m-2 1h0m1 1h0m4 0h0m0-1h0m7 0h0m3-3h0m0-5h0m4 0h0m0 4h0m0 3h0m0 1h0m3-2h0m1 4h0m-1 3h0m3 0h0m1-1h0m8-2h0m2 1h0m0-5h0m-5 0h0m0-1h0m1-7h0m5-2h0m0-1h0m0-2h0m-3-3h0m-1 0h0m-6-2h0m-3 3h0m0 2h0m0 4h0m0 2h0m-2 0h0m3-3h0m1 5h0m14 1h0m1 2h0m3 3h0m-1 2h0m5-4h0m-4-5h0m-3-5h0m1-4h0m3-1h0m5-1h0m1 4h0m7 0h0m-1-3h0m3 0h0m2 1h0m-1 3h0m0 1h0m-1 1h0m1 1h0m5 0h0m3-2h0m0-1h0m3-3h0m-2-6h0m-1 0h0m-1 0h0m-4-2h0m-3 1h0m0-3h0m-3 1h0m-2 0h0m-2-3h0m-4 3h0m-4-1h0m-3 4h0m-5 1h0m0-8h0m-11 1h0m-3 1h0m1 4h0m-9 3h0m-2 0h0m-2-2h0m1 8h0m-8 4h0m-3 1h0m-1 0h0m-2-3h0m0 6h0m-6-1h0m-2-2h0m-4 5h0m-10-1h0m-13 6h0m-3-2h0m-14 4h0m-10 2h0m7 8h0m4 3h0m2 5h0m0 4h0m-3 0h0m-1 2h0m-6 0h0m-4 3h0m-3 5h0m0 3h0m8 2h0m1 0h0m-2 3h0m4-6h0m3 0h0m1 0h0m0 1h0m-1 1h0m2-2h0m1 0h0m0 1h0m0 2h0m1 2h0m3 2h0m1 1h0m1-5h0m1-1h0m-3 0h0m4-3h0m1 0h0m0-2h0m1-1h0m1 2h0m1 2h0m2 0h0m-1 2h0m-2 1h0m5-1h0m1 1h0m6 0h0m2-1h0m3 1h0m-14 13h0m-2 0h0m-4-1h0m-1-2h0m1 5h0m-6 3h0m-1 2h0m1 1h0m0 2h0m-5 1h0m-1 6h0m21-9h0m-2-39h0m1-2h0m4-2h0m3-3h0m-16 13h0m-2 2h0m-2-1h0m0-2h0m-1 0h0m-2 2h0m0 3h0m-1 0h0m2 0h0m-3 2h0m-3-13h0m-4-1h0m-7-1h0m-21 11h0m-7 1h0m-1 2h0m2-7h0m-8 1h0m6-18h0m-12 58h0m-30 3h0m-6-2h0m0 14h0m13 17h0m0 6h0m1 0h0m0-1h0m-2 2h0m-2 1h0m3 1h0m2-1h0m1 0h0m0 1h0m-1 3h0m-2 1h0m1 1h0m12-5h0m-1-2h0m8-4h0m7 13h0m-1 9h0m-5 0h0m1 4h0m2 1h0m-6 1h0m-3 3h0m5 4h0m6 10h0m-20-4h0m-2-5h0m-6-6h0m-3 1h0m-8-3h0m0-4h0m7 19h0m-21-42h0m-30-14h0m-41 5h0m-9-42h0m93-13h0m85 65h0m-3 47h0m71-71h0m6-24h0m0-8h0m-3 2h0m8-8h0m6 5h0m2-18h0m-8 1h0m1 1h0m0-12h0m-4 1h0m-13-1h0m-2 0h0m-2 0h0m-1 0h0m-1 0h0m0 3h0m-1 0h0m1 2h0m1 2h0m0 3h0m0 2h0m1 2h0m2-1h0m0-3h0m0-1h0m0-4h0m0-1h0m0-1h0m-2-2h0m-6 4h0m2 4h0m8-2h0m1 14h0m1-32h0m-11-6h0m0-1h0m-1-1h0m3 0h0m-7-19h0m0-9h0m24-1h0m-2-3h0m6 4h0m5-10h0m-20-3h0m46 9h0m6-6h0m9-1h0m4-3h0m5 0h0m2 1h0m-2 3h0m-3 0h0m1-12h0m8-4h0m4-2h0m1 5h0m2 2h0m-3 2h0m-2 4h0m4 3h0m1 1h0m3 4h0m2-1h0m-8 2h0m-4 9h0m-4-1h0m-13 6h0m-4 0h0m-2 9h0m-8 20h0m0 6h0m-11-2h0m3-4h0m-8 8h0m16 21h0m5-89h0m-4-7h0m12 12h0m34-2h0m0-8h0m8 1h0m1 2h0m-1 2h0m6 1h0m-1-7h0m8 3h0m1 6h0m6-5h0m1-9h0m-1-5h0m-2-4h0m-4-7h0m11 14h0m3-1h0m17-4h0m-1-11h0m-4 1h0m5-9h0m-61-2h0m-9 19h0m13 6h0m12 0h0m-1 21h0m6 8h0m-166 11h0m-142 188h0m-9 5h0m3 5h0m-21-8h0m-2-2h0m-6 0h0m0 3h0m-6-2h0m15-9h0m4-5h0m-35 67h0m-8 25h0m84 2h0m-11-21h0" stroke="#6872f6" stroke-width="7.2" stroke-linecap="round" fill="none"/>
<line x1="34.5" y1="734.7" x2="321" y2="521.7" stroke="#32902a" stroke-width="1.6" stroke-dasharray="9.5 6.3"/>
<rect x="34.5" y="521.7" width="286.5" height="213" fill="none" stroke="#000" stroke-width="1.4"/>
<path d="M63.1 734.7v4M34.5 713.4h-4M120.4 734.7v4M34.5 670.8h-4M177.8 734.7v4M34.5 628.2h-4M235 734.7v4M34.5 585.6h-4M292.3 734.7v4M34.5 543h-4M91.8 734.7v2.2M34.5 692.1h-2.2M149.1 734.7v2.2M34.5 649.5h-2.2M206.4 734.7v2.2M34.5 606.9h-2.2M263.7 734.7v2.2M34.5 564.3h-2.2" stroke="#000" stroke-width="1.3"/>
<text transform="translate(63.1 749.9) scale(1 1.1)" font-size="10.8" text-anchor="middle">-2</text>
<text transform="translate(28 717.1) scale(1 1.1)" font-size="10.8" text-anchor="end">-2</text>
<text transform="translate(120.4 749.9) scale(1 1.1)" font-size="10.8" text-anchor="middle">-1</text>
<text transform="translate(28 674.5) scale(1 1.1)" font-size="10.8" text-anchor="end">-1</text>
<text transform="translate(177.8 749.9) scale(1 1.1)" font-size="10.8" text-anchor="middle">0</text>
<text transform="translate(28 631.9) scale(1 1.1)" font-size="10.8" text-anchor="end">0</text>
<text transform="translate(235 749.9) scale(1 1.1)" font-size="10.8" text-anchor="middle">1</text>
<text transform="translate(28 589.3) scale(1 1.1)" font-size="10.8" text-anchor="end">1</text>
<text transform="translate(292.3 749.9) scale(1 1.1)" font-size="10.8" text-anchor="middle">2</text>
<text transform="translate(28 546.7) scale(1 1.1)" font-size="10.8" text-anchor="end">2</text>
<text transform="translate(177.8 761.3) scale(1 1.1)" font-size="11.75" text-anchor="middle"><tspan font-style="italic">&#916;G</tspan><tspan font-style="italic" font-size="8.5" dy="2.8">H</tspan><tspan dy="-2.8"> DFT</tspan></text>
<text transform="translate(16.9 628.2) rotate(-90) scale(1 1.1)" font-size="12.55" text-anchor="middle">&#916;G<tspan font-style="italic" font-size="9" dy="3">H</tspan><tspan dy="-3"> ML</tspan></text>
<text transform="translate(-0.2 533.4) scale(1 1.0)" font-size="17.5" text-anchor="start">(e)</text>
<text transform="translate(39.7 536.6) scale(1 1.1)" font-size="11.2" text-anchor="start">LGBMR</text>
<path d="M52.7 547.3l.01 .01" stroke="#ff0000" stroke-width="3.2" stroke-linecap="square"/>
<text transform="translate(69.5 550.8) scale(1 1.1)" font-size="11.2" text-anchor="start">Trainset</text>
<text transform="translate(45.4 566.5) scale(1 1.1)" font-size="11.2" text-anchor="start">R<tspan font-size="6.8" dy="-4.2">2</tspan><tspan dy="4.2"> = 0.965</tspan></text>
<text transform="translate(45.4 581.1) scale(1 1.1)" font-size="11.2" text-anchor="start">MAE = 0.065</text>
<text transform="translate(45.4 595.3) scale(1 1.1)" font-size="11.2" text-anchor="start">MSE = 0.016</text>
<text transform="translate(45.4 609.9) scale(1 1.1)" font-size="11.2" text-anchor="start">RMSE = 0.127</text>
<circle cx="245.8" cy="663.5" r="1.8" fill="#6872f6"/>
<text transform="translate(262.3 667.1) scale(1 1.1)" font-size="11.2" text-anchor="start">Testset</text>
<text transform="translate(238.7 683.2) scale(1 1.1)" font-size="11.2" text-anchor="start">R<tspan font-size="6.8" dy="-4.2">2</tspan><tspan dy="4.2"> = 0.913</tspan></text>
<text transform="translate(238.7 697.5) scale(1 1.1)" font-size="11.2" text-anchor="start">MAE = 0.117</text>
<text transform="translate(238.7 712.1) scale(1 1.1)" font-size="11.2" text-anchor="start">MSE = 0.039</text>
<text transform="translate(238.7 726.2) scale(1 1.1)" font-size="11.2" text-anchor="start">RMSE = 0.198</text>
<path transform="rotate(45) scale(.5)" d="M1563 345h0m20 7h0m11-1h0m6 2h0m3-4h0m-5-4h0m5-5h0m5-5h0m10 0h0m-1-2h0m2-1h0m-1-2h0m0-1h0m1 0h0m1 0h0m-1-2h0m0-1h0m0-3h0m0-1h0m0-2h0m1-3h0m0-2h0m0-1h0m-1-2h0m2-1h0m-1-3h0m1-1h0m2 0h0m0 2h0m-1-6h0m2-2h0m-5-4h0m-4 1h0m-3 2h0m-1 0h0m-1-1h0m-2-3h0m-1 0h0m-1-1h0m-2 0h0m0-3h0m-2 0h0m-1-2h0m1-2h0m-4 3h0m7 2h0m5-4h0m1-2h0m3-1h0m1-2h0m-2-1h0m-1 0h0m-1-1h0m1-2h0m2-1h0m0-5h0m6 1h0m-2 3h0m0 2h0m0 4h0m-1 3h0m7-1h0m0 2h0m0 2h0m-1 0h0m0 2h0m1 0h0m1-2h0m0-1h0m0-4h0m0-2h0m-1 0h0m0-1h0m1 0h0m1 1h0m1-4h0m0-1h0m-1-1h0m0-1h0m0-1h0m0-1h0m-1 0h0m2 0h0m-1-4h0m-1 0h0m2-1h0m0-1h0m0-1h0m0-1h0m1 0h0m0-2h0m0-2h0m0-1h0m1-1h0m0 2h0m0 1h0m0 2h0m1 0h0m0-3h0m1-1h0m0-2h0m-1 0h0m0-1h0m0-1h0m-1 0h0m0-1h0m1 0h0m0-2h0m1-1h0m0-1h0m-1-1h0m-1-2h0m0-3h0m-1-2h0m-2-1h0m-2 0h0m0 3h0m-1 0h0m-3 0h0m0 4h0m0 3h0m-2 1h0m-1 2h0m2 0h0m3-1h0m1 2h0m3-1h0m0-2h0m0-2h0m1 1h0m-2-3h0m0-2h0m-3 0h0m-6-3h0m0-1h0m4-3h0m1-1h0m2 0h0m-1-2h0m6 2h0m0 1h0m1-1h0m1-1h0m1 1h0m1-2h0m1 0h0m0 3h0m0 1h0m-1 1h0m0 2h0m0 1h0m0-14h0m0-2h0m1 0h0m0 1h0m0 2h0m1 0h0m0-1h0m1 0h0m0-2h0m-1-1h0m0-1h0m-1 0h0m0-2h0m0-1h0m-1 0h0m1-1h0m1-1h0m1 0h0m0 1h0m1 0h0m-2 1h0m0 1h0m0 1h0m1 0h0m0-1h0m-7-1h0m-2 0h0m1-2h0m-4-1h0m-3 0h0m0-2h0m-2 0h0m-1 1h0m-3-1h0m0 5h0m-4-2h0m-5-2h0m-4-4h0m8-11h0m2 1h0m1-3h0m2-7h0m4 10h0m-1 2h0m3-3h0m0-1h0m4 3h0m2-2h0m-1-4h0m-2-10h0m7 1h0m0-4h0m-3-3h0m-2-1h0m8 1h0m3 7h0m0 1h0m1-1h0m1 2h0m0 1h0m0 3h0m-1 1h0m-2-1h0m5 0h0m0-1h0m0-3h0m0-1h0m5-3h0m-6 11h0m0 1h0m-1 0h0m0 1h0m1 0h0m-2 1h0m-1 1h0m0 2h0m0 2h0m0 1h0m1-1h0m0-1h0m0-2h0m1 0h0m0 1h0m-1 4h0m0 1h0m-1 1h0m-1 2h0m2 0h0m1 2h0m1-3h0m5 6h0m-13 0h0m-1-1h0m0 9h0m-7 0h0m-9 2h0m-4 0h0m-3 3h0m-1 1h0m3 3h0m1 3h0m-2 1h0m0 2h0m-7 0h0m-3-2h0m-3 11h0m-3 5h0m4 4h0m5 1h0m1 2h0m0 2h0m-1 0h0m-1 1h0m3 3h0m1 0h0m0 6h0m1-1h0m1 1h0m1 4h0m1 0h0m-8-3h0m-6-4h0m0-4h0m0 13h0m-3 12h0m2 12h0m6 3h0m4-3h0m1 6h0m-2 2h0m2 4h0m-2 8h0m0 1h0m1 0h0m-6-1h0m-2-1h0m-1 0h0m0 3h0m1-5h0m-1-7h0m18-3h0m-3-4h0m-2-8h0m7 2h0m1 2h0m2 22h0m0 10h0m0 3h0m-2 1h0m1 4h0m-2 6h0m0 1h0m-2 8h0m0 2h0m1 1h0m1 0h0m-2 8h0m-2 1h0m-10-12h0m-5-1h0m-6 0h0m-1 23h0m3 3h0m1-1h0m0 3h0m5 0h0m-1-2h0m0-4h0m-2-2h0m15 16h0m-1 5h0m-2 1h0m22-25h0m0-97h0m-9-11h0m-2 0h0m1-3h0m2 2h0m-3-6h0m-1-1h0m2-1h0m-6-4h0m-3 1h0m-2-2h0m-2-1h0m-1 0h0m-2 0h0m8-1h0m-4 8h0m4 5h0m18-8h0m4-49h0m19 5h0m5 5h0m3-11h0m11-1h0m1-20h0m5-13h0m-25-2h0m-4 4h0m-7-9h0m-9-4h0m2-6h0m16-3h0m-1-3h0m1-1h0m2 2h0m14 6h0m9-9h0m-10-18h0m-8-9h0m-17 13h0m1 4h0m-19-8h0m-2-2h0m-10 10h0m5 16h0m1-43h0m13-5h0m9-7h0m19-10h0m0-3h0m-1 0h0m1-1h0m0-2h0m0-1h0m-1 0h0m2 2h0m2-2h0m0 7h0m7 6h0m7-8h0m0-15h0m1-8h0m4-6h0m9-1h0m3-11h0m-8-1h0m-6 3h0m-2 2h0m2-15h0m-1-2h0m0-2h0m2 0h0m1-1h0m2 1h0m1-5h0m1 0h0m0-6h0m2 2h0m1-1h0m1-1h0m0 4h0m0 10h0m-5 2h0m-8-8h0m1-4h0m1 0h0m-4 0h0m0-1h0m-1-1h0m1-1h0m0-1h0m-3-1h0m0-1h0m-2 0h0m0-1h0m-1 0h0m-1 0h0m1-1h0m0-2h0m1-3h0m0-1h0m1-1h0m1 0h0m-1-2h0m2 0h0m0-2h0m-1 0h0m0-1h0m-1-2h0m2-1h0m0-2h0m-1 0h0m1-1h0m0-2h0m0-1h0m0-1h0m0-1h0m1 0h0m0-1h0m0-2h0m-1 0h0m1-1h0m1-1h0m1 1h0m0 2h0m-1 3h0m0 1h0m-1 0h0m0 1h0m0 1h0m4-1h0m0-1h0m0 4h0m7-3h0m4 2h0m1-1h0m2-1h0m-2-3h0m-1 0h0m0-1h0m-1-1h0m-1-1h0m3 0h0m-6-1h0m0-2h0m-1-3h0m4 2h0m0-6h0m-1-2h0m-1 0h0m-1 0h0m2-1h0m4 0h0m1 2h0m6 1h0m0 4h0m0 2h0m-2-1h0m-1 2h0m9-1h0m-2-6h0m1-6h0m-2-1h0m-4 0h0m0 1h0m0-3h0m-2 0h0m-1-1h0m-5 2h0m-2 0h0m-5 0h0m-2 0h0m-1 0h0m-1 0h0m0-1h0m1 0h0m0-1h0m0-1h0m0-1h0m-1-2h0m1-1h0m-1-2h0m1-1h0m0-2h0m1-1h0m0-1h0m1 0h0m-1-3h0m0-2h0m-1 0h0m2-2h0m0-3h0m1 0h0m-2-2h0m2-3h0m1 0h0m-1-3h0m1-1h0m0-2h0m0-1h0m1-3h0m1 0h0m7 0h0m-1-7h0m3 0h0m1-6h0m1-7h0m4 3h0m3 9h0m2 0h0m2 0h0m-2 4h0m1 7h0m-2 3h0m-4 0h0m0 6h0m-1 1h0m-2 1h0m1 3h0m0 2h0m4 3h0m1 5h0m3 2h0m4-1h0m-13-2h0m-3 2h0m-5 0h0m0 2h0m1 0h0m1-4h0m2-2h0m-7 1h0m-2 3h0m-4 0h0m0 10h0m0 2h0m3 0h0m-1-3h0m-6 3h0m0 2h0m1 1h0m0 1h0m0 1h0m1 0h0m-2 1h0m1 2h0m-1 3h0m-1 0h0m0 2h0m1-1h0m1 0h0m-5 9h0m0 17h0m0 6h0m-1 2h0m-1 1h0m0 1h0m0 1h0m0 1h0m0 1h0m1 0h0m0 1h0m0 1h0m-2-1h0m-1-3h0m3 0h0m0-1h0m1 1h0m3 3h0m3-3h0m2-2h0m1 1h0m-2-4h0m-2 0h0m1-1h0m1-3h0m2 2h0m2-3h0m1-6h0m1 1h0m1 1h0m-1-4h0m3-1h0m1-3h0m6 0h0m-2 4h0m1 1h0m0 2h0m0 1h0m-4-1h0m1 4h0m1 4h0m3-2h0m4 1h0m-1-7h0m4-3h0m0-6h0m-2-3h0m5-1h0m4-13h0m-4-8h0m-8-8h0m6-20h0m0-1h0m9-2h0m-2-3h0m0-6h0m3-2h0m2-9h0m1-7h0m-4 0h0m12 1h0m-19-12h0m2-5h0m2-2h0m2-1h0m0-5h0m-6-1h0m4-8h0m0-6h0m-2 0h0m-6-1h0m-2-4h0m-5-1h0m-1-1h0m1 4h0m-4 6h0m2 2h0m-1 3h0m0 1h0m-1 3h0m-1 1h0m2 1h0m0 3h0m-1 1h0m-2 0h0m1 3h0m0 4h0m1-1h0m-2 4h0m0 4h0m-1 0h0m-1 2h0m2 1h0m-3 9h0m0 1h0m1 2h0m-2 17h0m10 0h0m19-55h0m2 2h0m4 2h0m1-12h0m1-3h0m2-8h0m-9-2h0m-5-1h0m0-1h0m0-5h0m6 0h0m0 1h0m-10-9h0m-8 1h0m-1 1h0m1 1h0m-1 4h0m-1 6h0m-1 1h0m27 134h0m-10 13h0m-13 11h0m-14-3h0m-17 11h0m0 3h0m0 1h0m1 0h0m0 1h0m0 1h0m-2 0h0m0 2h0m0 2h0m1 0h0m0-1h0m1 0h0m0 2h0m-1 0h0m-2 1h0m1 1h0m1 1h0m0 1h0m1-1h0m0-12h0m-3 1h0m-2 1h0m-1 2h0m-5-11h0m-5-2h0m-11 12h0m-12-1h0m0-15h0m12 44h0m-28-3h0m77 33h0m-5 15h0" stroke="#ff0000" stroke-width="6.4" stroke-linecap="square" fill="none"/>
<path transform="scale(.5)" d="M852 1383h0m0 9h0m13-3h0m1-5h0m3 2h0m1 4h0m-1 2h0m-10-14h0m20-5h0m-1-2h0m5 1h0m5 0h0m1-1h0m4 3h0m-6 4h0m11 7h0m4-12h0m8-9h0m1 0h0m3 2h0m0-8h0m3-7h0m1-3h0m0-6h0m6 2h0m1-1h0m1 11h0m4-2h0m3 0h0m0 2h0m6 2h0m3 0h0m4 1h0m7-3h0m-1-6h0m-5-3h0m-8 1h0m0 2h0m3 2h0m0-9h0m0-6h0m2-1h0m0 2h0m-5-3h0m-1-2h0m4-3h0m6 3h0m2 0h0m1 3h0m2-4h0m0-2h0m2 4h0m2 2h0m0-8h0m0-2h0m0-7h0m-5 1h0m-2 2h0m-2-4h0m2-4h0m12-4h0m1 0h0m0-2h0m1 4h0m3 2h0m1 2h0m3-4h0m1-2h0m2 3h0m0 1h0m1 0h0m3 0h0m0-4h0m0-1h0m1 0h0m0 2h0m2-2h0m-1-3h0m0-1h0m-1 0h0m1-2h0m-4 1h0m-4 0h0m-3 0h0m0 1h0m-4-2h0m0-2h0m-6-4h0m-1-4h0m19-3h0m9 0h0m3-1h0m0 7h0m2 1h0m2-1h0m0 2h0m0 3h0m3 3h0m0 2h0m0 2h0m-1 0h0m2-1h0m1 2h0m2 1h0m0 2h0m-2 1h0m1 1h0m0 1h0m1 2h0m0 1h0m2 0h0m0-2h0m0-2h0m2 2h0m4 2h0m2-1h0m7-1h0m0 4h0m7-2h0m-1-5h0m2-1h0m-5 0h0m2-2h0m1-5h0m-1-3h0m-1 0h0m-1 0h0m-2 1h0m-1 0h0m-1-1h0m-2 0h0m-2-2h0m-2-2h0m1-1h0m0-3h0m0-1h0m0-1h0m-1-1h0m2 0h0m0 2h0m2 0h0m0 1h0m0 2h0m-1 0h0m2 0h0m0-6h0m-2 0h0m1-2h0m1 0h0m-2-3h0m-2 1h0m-3 1h0m-3 0h0m0 2h0m-1 2h0m2 3h0m1-1h0m2 1h0m-2 3h0m0 1h0m-2-1h0m0 3h0m-3-1h0m0-1h0m-2 1h0m1 4h0m0 1h0m0 1h0m1 1h0m1 0h0m1 0h0m0 1h0m3-1h0m-1-3h0m-4-1h0m8 3h0m1 1h0m1-2h0m4 1h0m6-5h0m1-1h0m1 0h0m0 1h0m3-1h0m1 0h0m0-3h0m0-1h0m1-1h0m0-3h0m-1 0h0m-1-3h0m-4 0h0m-1 2h0m-2 2h0m-1 0h0m1 1h0m0 2h0m2-1h0m1-1h0m1 1h0m1 1h0m1 1h0m4 0h0m4 1h0m-1 2h0m-1 3h0m4 0h0m1 1h0m-1 2h0m3 1h0m1 0h0m-1 2h0m-2 3h0m-5-1h0m-4 0h0m0 4h0m-2-8h0m3-2h0m1 1h0m11-2h0m0-5h0m-2-2h0m-3 0h0m0-2h0m2 0h0m1-1h0m0-1h0m1-1h0m0-2h0m-3 0h0m0 1h0m-4 0h0m-2 0h0m1-1h0m1-1h0m2-1h0m3 0h0m1-1h0m0-1h0m-1-1h0m0-1h0m-1 0h0m-1 0h0m-1 0h0m1-1h0m1 0h0m1 0h0m1 1h0m1 0h0m3 0h0m-1-3h0m-1-2h0m-4-1h0m-4 0h0m1-1h0m0-1h0m0-1h0m4 0h0m3-4h0m2 0h0m0 2h0m2 5h0m1 0h0m0-1h0m1 1h0m0 2h0m1-1h0m0 2h0m0 2h0m2 0h0m0 1h0m0 3h0m1 0h0m2 1h0m1-1h0m0-2h0m0-1h0m-1 0h0m1-1h0m1 0h0m1 2h0m1 2h0m0 2h0m-1 0h0m2 0h0m3 0h0m4 0h0m2 1h0m1-4h0m0-8h0m-2-1h0m0-1h0m-2-1h0m1-2h0m0-2h0m-1 0h0m-1 1h0m-1 0h0m0-2h0m-2 0h0m-1 0h0m0 1h0m0 1h0m0 2h0m1 0h0m0-5h0m0-1h0m0-2h0m1 1h0m1 1h0m0-3h0m2 0h0m1 2h0m1 1h0m0 2h0m0 1h0m2-1h0m0-1h0m0-2h0m-1 0h0m0-2h0m2-1h0m1 0h0m0 2h0m-1 0h0m1 2h0m1-3h0m2 0h0m0 2h0m2 1h0m0 1h0m-1 1h0m-2 0h0m-1 1h0m-2 2h0m0 1h0m0 1h0m2 1h0m2 0h0m0-2h0m1 3h0m-1 2h0m-1 0h0m-2 0h0m-4 0h0m-3 3h0m-1 0h0m-2-1h0m-3-3h0m-2 0h0m-1 0h0m0-1h0m-3 0h0m0-1h0m1 2h0m0 1h0m1 0h0m0 2h0m-2 0h0m-6 1h0m0 4h0m-3 1h0m1 3h0m3 0h0m0 1h0m1 2h0m0 2h0m3 0h0m-2-3h0m1-1h0m3 0h0m1 2h0m4 5h0m-6 3h0m-3 2h0m-3 0h0m2-4h0m2 6h0m-1 3h0m0 4h0m-2 0h0m1 2h0m-2 4h0m-1 0h0m-6 6h0m0 17h0m-13 1h0m-7-1h0m-8-6h0m2-4h0m-10-3h0m-2-1h0m0 6h0m0 3h0m-1 0h0m1 3h0m-5 2h0m-6-2h0m-1-1h0m5-3h0m-9-3h0m-7-2h0m1-1h0m-5 3h0m-3 1h0m-3 0h0m1 3h0m0 2h0m3-1h0m4-1h0m0-1h0m0-11h0m1-2h0m-3-3h0m-4 5h0m-4 1h0m-2 0h0m-1-3h0m2 7h0m-2 4h0m0 7h0m0 2h0m-2 3h0m7 1h0m5-1h0m15 3h0m0-24h0m0-1h0m2 0h0m1-1h0m1 1h0m-3-2h0m0 4h0m-7-2h0m2-3h0m0-1h0m1-1h0m-2-1h0m-2 0h0m2-2h0m5-1h0m0-2h0m1-1h0m1-1h0m2-1h0m-4-4h0m1 11h0m2 1h0m1 0h0m2-1h0m9 7h0m5-11h0m-12-16h0m2-2h0m1-5h0m3-4h0m4-5h0m-7-3h0m3-6h0m9 3h0m10 1h0m3 4h0m1 0h0m1 0h0m0 3h0m0 1h0m-2 0h0m0 1h0m2 3h0m4-2h0m2-5h0m-1-4h0m-3 2h0m1-6h0m0-1h0m1 0h0m1-1h0m3-1h0m1-2h0m11-1h0m2 0h0m0 1h0m0 2h0m1 2h0m1-1h0m0-2h0m1 1h0m0 4h0m2-1h0m1 0h0m0 2h0m1 0h0m1 1h0m1-3h0m0-1h0m0-2h0m-2 0h0m0-2h0m0-1h0m-1 0h0m1-1h0m2 0h0m-1-2h0m-1-3h0m-2-1h0m0-1h0m-1 0h0m0-1h0m3-2h0m3-1h0m-1-3h0m4 0h0m5-1h0m2-1h0m-1-3h0m1-3h0m-3-1h0m8 2h0m2 0h0m2-1h0m0-1h0m1 0h0m1 1h0m3 0h0m0 1h0m2 0h0m1 2h0m1-1h0m0 3h0m-2 0h0m0 1h0m0 3h0m-1 1h0m0 1h0m-1 0h0m-2 0h0m-1-1h0m-1 0h0m-1-1h0m-1-1h0m0-1h0m1-2h0m2 0h0m0-1h0m1 0h0m1 3h0m0 1h0m1 0h0m-3 0h0m-1 4h0m-2 0h0m-3 1h0m0 1h0m0 2h0m-1 1h0m-3 0h0m0-1h0m1 0h0m1-1h0m-2-1h0m-2 2h0m-2 2h0m-1 0h0m-1 0h0m6 0h0m1 1h0m3 1h0m3 1h0m2-2h0m0-3h0m-3 0h0m0-1h0m0 2h0m4-3h0m1 1h0m1-1h0m1 0h0m0 1h0m0 2h0m1-1h0m1 0h0m1 0h0m1-1h0m1-1h0m1 0h0m1 0h0m0-1h0m0-1h0m1 0h0m0-2h0m-1 0h0m0-2h0m0-2h0m2-1h0m1 1h0m0 2h0m0 2h0m2 1h0m1 2h0m1 0h0m1 0h0m1 1h0m1-2h0m2 0h0m1 1h0m1 0h0m2 1h0m2-3h0m-5-1h0m-3-2h0m-2 1h0m-1-2h0m-1 0h0m0-2h0m-1-1h0m3-1h0m1 0h0m0-1h0m-1-2h0m-2 0h0m-1-1h0m-1-1h0m-2 0h0m0-2h0m-3 0h0m-1-1h0m2-1h0m0-1h0m0 6h0m1 1h0m0 3h0m-4-5h0m-1 0h0m-1-8h0m-5-1h0m1 4h0m-1-12h0m5-3h0m-2-6h0m-7-7h0m-7 2h0m-25 10h0m-9 4h0m-2 7h0m8 10h0m3-1h0m3 0h0m0 9h0m5 3h0m-1 10h0m0 2h0m-1 0h0m-2-1h0m-3-1h0m-6-9h0m-14-7h0m-5 23h0m-3 15h0m4 2h0m13 7h0m2-1h0m2-11h0m23 5h0m13-5h0m1 0h0m0 11h0m6 6h0m6-1h0m-3 7h0m-14 3h0m1 3h0m3 4h0m-7 5h0m-8 2h0m0-62h0m10-5h0m3-2h0m1-1h0m0 2h0m1-6h0m12 4h0m1 0h0m0 2h0m-1 0h0m-2 2h0m4 0h0m4 1h0m0 1h0m1 0h0m0 4h0m1 3h0m0 1h0m0 2h0m2 2h0m0-6h0m1 0h0m1-1h0m1 1h0m-1 2h0m4-4h0m9-2h0m2 6h0m1 6h0m1-18h0m-4-3h0m0-2h0m-2-1h0m-1-1h0m1-1h0m-4 0h0m0 1h0m0 1h0m-2 0h0m-1 0h0m-1 0h0m0 1h0m-1 0h0m1 1h0m1-4h0m0-1h0m1-1h0m0-1h0m-1-1h0m2 0h0m0-2h0m2 0h0m0 1h0m0 1h0m0 3h0m2-2h0m3 1h0m1-1h0m3-1h0m1-1h0m2-2h0m-1-2h0m-1-2h0m-1 0h0m-1-2h0m-2 0h0m-1-1h0m-1 0h0m-1 2h0m2 0h0m-1 3h0m-1 0h0m-3 1h0m-3 0h0m-1-1h0m0-1h0m-3 0h0m-2 0h0m0-2h0m-1-1h0m-1-1h0m-3-1h0m-1-1h0m2 4h0m2 4h0m4 0h0m0 1h0m2 1h0m0-6h0m-2-1h0m4 0h0m0-3h0m0-2h0m2-2h0m-1-2h0m-5 0h0m2-3h0m0-3h0m-2-1h0m4-1h0m0-1h0m3 2h0m1-3h0m4 0h0m0 2h0m-1 3h0m3 1h0m0 4h0m0 2h0m2 0h0m2 0h0m0 1h0m0 1h0m-1 0h0m0 1h0m2 0h0m0 1h0m2-1h0m1-1h0m0-2h0m-2 0h0m-1-2h0m2 0h0m1 0h0m1 0h0m-2-3h0m-2 0h0m1-3h0m1 0h0m2 1h0m2 2h0m1-3h0m2-1h0m1-2h0m2 1h0m-1 2h0m2 0h0m1 3h0m1 0h0m0 1h0m1 0h0m0 1h0m1 0h0m2-1h0m1 2h0m0 1h0m1 1h0m0 1h0m3 0h0m1 1h0m1 0h0m0-3h0m-1-1h0m-2 1h0m1-4h0m-1-2h0m0-1h0m-2-2h0m-2-1h0m-1 0h0m-1 0h0m-1 0h0m1 1h0m0 3h0m-1 0h0m1-7h0m1 0h0m0-2h0m3-1h0m2-1h0m2 1h0m0 1h0m0 2h0m3 0h0m0 1h0m-1 1h0m1 1h0m-2 1h0m0 1h0m1 0h0m2 1h0m0 3h0m0 3h0m-3-2h0m7 0h0m0-3h0m1-2h0m1 0h0m-1-2h0m1-2h0m3-1h0m-2-3h0m1-1h0m1-3h0m0-2h0m-1 0h0m-1 1h0m-5 0h0m-2-3h0m-7 1h0m1 1h0m1 2h0m-9 0h0m-1 4h0m-1 4h0m-6 0h0m1-1h0m-3-2h0m-1 4h0m-4 1h0m-1-3h0m0-4h0m2 0h0m-4-6h0m-2 1h0m-4-6h0m9 1h0m11 0h0m2 1h0m6-2h0m2 0h0m2-11h0m-10-2h0m-16 0h0m-10-7h0m22-6h0m15 3h0m7 5h0m6 3h0m1-5h0m-2 13h0m-2 2h0m7 0h0m0 6h0m1 1h0m1 1h0m1 1h0m-3 3h0m-2 2h0m4 0h0m0 2h0m-1 0h0m1 3h0m2-1h0m1 1h0m0-3h0m0-2h0m2 3h0m1 2h0m1-3h0m0-1h0m2-3h0m3 2h0m1 1h0m2 2h0m2-3h0m-1-3h0m3 1h0m1-1h0m0-3h0m1-2h0m0-2h0m-2 0h0m-3 1h0m1-3h0m-3 0h0m-6 1h0m-2 0h0m0-4h0m5-1h0m6-2h0m0-1h0m0-9h0m3 2h0m0 1h0m2 0h0m0 2h0m1 7h0m-1 4h0m5 1h0m1-1h0m0 2h0m1-1h0m1 3h0m-1 3h0m2 4h0m-1 6h0m-3-1h0m-4-1h0m-2-1h0m0-1h0m-2 3h0m0 1h0m3 3h0m-7 3h0m-3-4h0m-3 0h0m-1 0h0m0 2h0m-1 6h0m0 3h0m1 5h0m6 1h0m0 3h0m2 7h0m-9 5h0m-3 5h0m-12-4h0m0-9h0m3 1h0m2-4h0m-1-5h0m-2-4h0m5-1h0m-1-2h0m-2-2h0m0-4h0m2 1h0m1-2h0m5 4h0m9 5h0m-3-26h0m-14-1h0m7-10h0m3-5h0m6-1h0m-2-9h0m0-5h0m-1-7h0m6 3h0m2-1h0m10-1h0m7 1h0m-1 5h0m2 8h0m1-1h0m3 1h0m0 5h0m-2 1h0m-2 0h0m-1 0h0m0 1h0m1 3h0m5 0h0m2-1h0m1 6h0m-3 2h0m-2 4h0m-1 2h0m6 1h0m3-6h0m3-9h0m-1-5h0m0-2h0m0-4h0m-4 2h0m0-7h0m1-5h0m0-4h0m4 1h0m-1 5h0m-9-2h0m21-1h0m4 5h0m1-1h0m-9 3h0m2 5h0m1 2h0m-5 0h0m-2 1h0m0 10h0m5 2h0m5 0h0m-1-2h0m1 7h0m0 5h0m-4-1h0m-9 12h0m-3 2h0m-2 0h0m-4 5h0m-2-10h0m-4 3h0m-2-19h0m-2 0h0m-2 0h0m0-1h0m0-3h0m2-4h0m0-6h0m-5-1h0m38 2h0m1-1h0m0 3h0m4-3h0m0-2h0m8 1h0m4 2h0m6 3h0m2-13h0m-7-2h0m-4 0h0m0-6h0m-3 0h0m1-1h0m-4 0h0m9 3h0m1-1h0m7-2h0m-1-3h0m-1-1h0m6 2h0m3-7h0m-1-4h0m-6-1h0m-12-1h0m-4-5h0m-2 1h0m-5 6h0m13 7h0m19 12h0m7-17h0m-1-2h0m8 5h0m-1-12h0m1-1h0m9-2h0m3 4h0m2 5h0m-6-1h0m19-1h0m2-13h0m4-8h0m2-1h0m1 3h0m3-7h0m-1-6h0m-5-1h0m-2 2h0m0 5h0m-12 7h0m-4-3h0m-4 5h0m-7 1h0m4-20h0m-28 25h0m-40-8h0m-11 4h0m-12 6h0m-60 19h0m-38 8h0m5 41h0m3 3h0m11 6h0m5 6h0m0 6h0m-1 5h0m-2 2h0m3 2h0m5 0h0m1 2h0m0 1h0m0 2h0m1 3h0m1-1h0m0 2h0m-3 4h0m-1 2h0m-5 1h0m-1 0h0m-3-8h0m-4-6h0m0-4h0m0-1h0m2-2h0m2-1h0m-2-4h0m19 1h0m0 1h0m-1 1h0m-1 1h0m2 0h0m0 2h0m-1 0h0m1 1h0m1-1h0m0 2h0m1-1h0m1-1h0m0-2h0m-1-1h0m2 0h0m1 3h0m1 0h0m2-1h0m0 3h0m-1 1h0m0 4h0m-3-2h0m-2 0h0m0-1h0m-1 3h0m0 2h0m-3-2h0m-1-1h0m-1-1h0m1-1h0m-2-2h0m14-1h0m3 2h0m2 5h0m0 4h0m3-2h0m2 1h0m-2 8h0m-7-4h0m-6 0h0m0-2h0m-2 4h0m-2 6h0m12 7h0m3 3h0m5-32h0m1-16h0m0-2h0m2 0h0m0-3h0m-8 7h0m-2-1h0m-13-9h0m-30 38h0m-7 17h0m-6 2h0m0 3h0m1 1h0m3 1h0m-1 5h0m0 3h0m-3 0h0m-2-2h0m-3 0h0m-1 0h0m2-6h0m2 1h0m1 2h0m8 8h0m11 3h0m8 8h0m-10 12h0m82-27h0m44 6h0m-19-41h0m63-52h0m39-52h0m-316 65h0m-22 27h0m-11 28h0m-4 7h0m-11-21h0m0-28h0m46 50h0m-4 18h0m-8 21h0m-62-4h0m1 40h0m-4 1h0m1 1h0m-8-3h0m4 14h0m-6 5h0m1 1h0m-5-4h0m-9 9h0m27 13h0m23-9h0m21-11h0m16 19h0m-1 4h0m3 10h0m-25 45h0m-21-94h0m-2-9h0" stroke="#6872f6" stroke-width="7.2" stroke-linecap="round" fill="none"/>
<line x1="397.2" y1="731.6" x2="683.3" y2="521.4" stroke="#32902a" stroke-width="1.6" stroke-dasharray="9.5 6.3"/>
<rect x="397.2" y="521.4" width="286.1" height="210.2" fill="none" stroke="#000" stroke-width="1.4"/>
<path d="M425.8 731.6v4M397.2 710.6h-4M483 731.6v4M397.2 668.5h-4M540.2 731.6v4M397.2 626.5h-4M597.5 731.6v4M397.2 584.5h-4M654.7 731.6v4M397.2 542.4h-4M454.4 731.6v2.2M397.2 689.6h-2.2M511.6 731.6v2.2M397.2 647.5h-2.2M568.9 731.6v2.2M397.2 605.5h-2.2M626.1 731.6v2.2M397.2 563.4h-2.2" stroke="#000" stroke-width="1.3"/>
<text transform="translate(425.8 746.8) scale(1 1.1)" font-size="10.8" text-anchor="middle">-2</text>
<text transform="translate(390.7 714.3) scale(1 1.1)" font-size="10.8" text-anchor="end">-2</text>
<text transform="translate(483 746.8) scale(1 1.1)" font-size="10.8" text-anchor="middle">-1</text>
<text transform="translate(390.7 672.2) scale(1 1.1)" font-size="10.8" text-anchor="end">-1</text>
<text transform="translate(540.2 746.8) scale(1 1.1)" font-size="10.8" text-anchor="middle">0</text>
<text transform="translate(390.7 630.2) scale(1 1.1)" font-size="10.8" text-anchor="end">0</text>
<text transform="translate(597.5 746.8) scale(1 1.1)" font-size="10.8" text-anchor="middle">1</text>
<text transform="translate(390.7 588.2) scale(1 1.1)" font-size="10.8" text-anchor="end">1</text>
<text transform="translate(654.7 746.8) scale(1 1.1)" font-size="10.8" text-anchor="middle">2</text>
<text transform="translate(390.7 546.1) scale(1 1.1)" font-size="10.8" text-anchor="end">2</text>
<text transform="translate(540.2 760.2) scale(1 1.1)" font-size="12.3" text-anchor="middle"><tspan font-style="italic">&#916;G</tspan><tspan font-style="italic" font-size="8.9" dy="3">H</tspan><tspan dy="-3"> DFT</tspan></text>
<text transform="translate(379.7 625.9) rotate(-90) scale(1 1.1)" font-size="12.9" text-anchor="middle">&#916;G<tspan font-style="italic" font-size="9.3" dy="3.1">H</tspan><tspan dy="-3.1"> ML</tspan></text>
<text transform="translate(362.4 533.1) scale(1 1.0)" font-size="17.5" text-anchor="start">(f)</text>
<text transform="translate(403.2 537) scale(1 1.1)" font-size="10.8" text-anchor="start">ETR</text>
<path d="M415.5 547.3l.01 .01" stroke="#ff0000" stroke-width="3.2" stroke-linecap="square"/>
<text transform="translate(431 550.5) scale(1 1.1)" font-size="10.8" text-anchor="start">Trainset</text>
<text transform="translate(409.1 565.8) scale(1 1.1)" font-size="10.8" text-anchor="start">R<tspan font-size="6.8" dy="-4.2">2</tspan><tspan dy="4.2"> = 0.986</tspan></text>
<text transform="translate(409.1 578.9) scale(1 1.1)" font-size="10.8" text-anchor="start">MAE = 0.037</text>
<text transform="translate(409.1 593.2) scale(1 1.1)" font-size="10.8" text-anchor="start">MSE = 0.006</text>
<text transform="translate(409.1 606.7) scale(1 1.1)" font-size="10.8" text-anchor="start">RMSE = 0.008</text>
<circle cx="605.2" cy="661.3" r="1.8" fill="#6872f6"/>
<text transform="translate(621.4 664.6) scale(1 1.1)" font-size="10.8" text-anchor="start">Testset</text>
<text transform="translate(598.6 679.5) scale(1 1.1)" font-size="10.8" text-anchor="start">R<tspan font-size="6.8" dy="-4.2">2</tspan><tspan dy="4.2"> = 0.921</tspan></text>
<text transform="translate(598.6 693.4) scale(1 1.1)" font-size="10.8" text-anchor="start">MAE = 0.104</text>
<text transform="translate(598.6 706.8) scale(1 1.1)" font-size="10.8" text-anchor="start">MSE = 0.036</text>
<text transform="translate(598.6 720.4) scale(1 1.1)" font-size="10.8" text-anchor="start">RMSE = 0.189</text>
<defs>
<linearGradient id="gL0" x1="0" x2="1"><stop offset="0" stop-color="#fff"/><stop offset="0.5" stop-color="#d6c2fb"/><stop offset="1" stop-color="#7c08f4"/></linearGradient>
<linearGradient id="gL1" x1="0" x2="1"><stop offset="0" stop-color="#fff"/><stop offset="1" stop-color="#e040e8"/></linearGradient>
<linearGradient id="gL2" x1="0" x2="1"><stop offset="0" stop-color="#fff"/><stop offset="1" stop-color="#b0f070"/></linearGradient>
<linearGradient id="gL3" x1="0" x2="1"><stop offset="0" stop-color="#fff"/><stop offset="1" stop-color="#e09a60"/></linearGradient>
<linearGradient id="gR0" x1="0" x2="1"><stop offset="0" stop-color="#b884fa"/><stop offset="1" stop-color="#8010fc"/></linearGradient>
<linearGradient id="gR1" x1="0" x2="1"><stop offset="0" stop-color="#f080f0"/><stop offset="1" stop-color="#e030e0"/></linearGradient>
<linearGradient id="gR2" x1="0" x2="1"><stop offset="0" stop-color="#c0f090"/><stop offset="1" stop-color="#a8ec68"/></linearGradient>
<linearGradient id="gR3" x1="0" x2="1"><stop offset="0" stop-color="#e8b088"/><stop offset="1" stop-color="#dc9660"/></linearGradient>
</defs>
<line x1="146.9" y1="844.5" x2="537.6" y2="844.5" stroke="#eeeeee" stroke-width="0.8"/>
<line x1="146.9" y1="891.9" x2="537.6" y2="891.9" stroke="#eeeeee" stroke-width="0.8"/>
<line x1="146.9" y1="939.3" x2="537.6" y2="939.3" stroke="#eeeeee" stroke-width="0.8"/>
<line x1="146.9" y1="986.7" x2="537.6" y2="986.7" stroke="#eeeeee" stroke-width="0.8"/>
<line x1="146.9" y1="1034.1" x2="537.6" y2="1034.1" stroke="#eeeeee" stroke-width="0.8"/>
<line x1="146.9" y1="1081.5" x2="537.6" y2="1081.5" stroke="#eeeeee" stroke-width="0.8"/>
<rect x="340.9" y="826.5" width="1.3" height="7.5" fill="url(#gL3)" stroke="#e0a070" stroke-width="1.5"/>
<text transform="translate(336.6 833.5) scale(1 1.1)" font-size="10.2" text-anchor="end">0.008</text>
<rect x="342.2" y="826.5" width="33.6" height="7.5" fill="url(#gR3)"/>
<rect x="342.7" y="827" width="32.6" height="6.5" fill="none" stroke="#ffffff" stroke-opacity="0.7" stroke-width="0.6" stroke-dasharray="1.5 1.5"/>
<text transform="translate(378 833.5) scale(1 1.1)" font-size="10.2" text-anchor="start">0.189</text>
<rect x="341.2" y="835.9" width="1" height="7.5" fill="url(#gL2)" stroke="#b0f070" stroke-width="1.5"/>
<text transform="translate(336.9 842.9) scale(1 1.1)" font-size="10.2" text-anchor="end">0.006</text>
<rect x="342.2" y="835.9" width="6.4" height="7.5" fill="url(#gR2)"/>
<text transform="translate(350.8 842.9) scale(1 1.1)" font-size="10.2" text-anchor="start">0.036</text>
<rect x="336.2" y="845.3" width="6" height="7.5" fill="url(#gL1)" stroke="#e040e0" stroke-width="1.5"/>
<text transform="translate(331.9 852.3) scale(1 1.1)" font-size="10.2" text-anchor="end">0.037</text>
<rect x="342.2" y="845.3" width="18.5" height="7.5" fill="url(#gR1)"/>
<rect x="342.7" y="845.8" width="17.5" height="6.5" fill="none" stroke="#ffffff" stroke-opacity="0.7" stroke-width="0.6" stroke-dasharray="1.5 1.5"/>
<text transform="translate(362.9 852.3) scale(1 1.1)" font-size="10.2" text-anchor="start">0.104</text>
<rect x="181.9" y="854.7" width="160.3" height="7.5" fill="url(#gL0)" stroke="#8a1cf0" stroke-width="1.5"/>
<text transform="translate(177.6 861.7) scale(1 1.1)" font-size="10.2" text-anchor="end">0.986</text>
<rect x="342.2" y="854.7" width="163.9" height="7.5" fill="url(#gR0)"/>
<rect x="342.7" y="855.2" width="162.9" height="6.5" fill="none" stroke="#ffffff" stroke-opacity="0.7" stroke-width="0.6" stroke-dasharray="1.5 1.5"/>
<text transform="translate(508.3 861.7) scale(1 1.1)" font-size="10.2" text-anchor="start">0.921</text>
<rect x="321.5" y="873.9" width="20.7" height="7.5" fill="url(#gL3)" stroke="#e0a070" stroke-width="1.5"/>
<text transform="translate(317.2 880.9) scale(1 1.1)" font-size="10.2" text-anchor="end">0.127</text>
<rect x="342.2" y="873.9" width="35.2" height="7.5" fill="url(#gR3)"/>
<rect x="342.7" y="874.4" width="34.2" height="6.5" fill="none" stroke="#ffffff" stroke-opacity="0.7" stroke-width="0.6" stroke-dasharray="1.5 1.5"/>
<text transform="translate(379.6 880.9) scale(1 1.1)" font-size="10.2" text-anchor="start">0.198</text>
<rect x="339.6" y="883.3" width="2.6" height="7.5" fill="url(#gL2)" stroke="#b0f070" stroke-width="1.5"/>
<text transform="translate(335.3 890.3) scale(1 1.1)" font-size="10.2" text-anchor="end">0.016</text>
<rect x="342.2" y="883.3" width="6.9" height="7.5" fill="url(#gR2)"/>
<text transform="translate(351.3 890.3) scale(1 1.1)" font-size="10.2" text-anchor="start">0.039</text>
<rect x="331.6" y="892.7" width="10.6" height="7.5" fill="url(#gL1)" stroke="#e040e0" stroke-width="1.5"/>
<text transform="translate(327.3 899.7) scale(1 1.1)" font-size="10.2" text-anchor="end">0.065</text>
<rect x="342.2" y="892.7" width="20.8" height="7.5" fill="url(#gR1)"/>
<rect x="342.7" y="893.2" width="19.8" height="6.5" fill="none" stroke="#ffffff" stroke-opacity="0.7" stroke-width="0.6" stroke-dasharray="1.5 1.5"/>
<text transform="translate(365.2 899.7) scale(1 1.1)" font-size="10.2" text-anchor="start">0.117</text>
<rect x="185.3" y="902.1" width="156.9" height="7.5" fill="url(#gL0)" stroke="#8a1cf0" stroke-width="1.5"/>
<text transform="translate(181 909.1) scale(1 1.1)" font-size="10.2" text-anchor="end">0.965</text>
<rect x="342.2" y="902.1" width="162.5" height="7.5" fill="url(#gR0)"/>
<rect x="342.7" y="902.6" width="161.5" height="6.5" fill="none" stroke="#ffffff" stroke-opacity="0.7" stroke-width="0.6" stroke-dasharray="1.5 1.5"/>
<text transform="translate(506.9 909.1) scale(1 1.1)" font-size="10.2" text-anchor="start">0.913</text>
<rect x="336" y="921.3" width="6.2" height="7.5" fill="url(#gL3)" stroke="#e0a070" stroke-width="1.5"/>
<text transform="translate(331.7 928.3) scale(1 1.1)" font-size="10.2" text-anchor="end">0.038</text>
<rect x="342.2" y="921.3" width="35.6" height="7.5" fill="url(#gR3)"/>
<rect x="342.7" y="921.8" width="34.6" height="6.5" fill="none" stroke="#ffffff" stroke-opacity="0.7" stroke-width="0.6" stroke-dasharray="1.5 1.5"/>
<text transform="translate(380 928.3) scale(1 1.1)" font-size="10.2" text-anchor="start">0.2</text>
<rect x="342" y="930.7" width="0.2" height="7.5" fill="url(#gL2)" stroke="#b0f070" stroke-width="1.5"/>
<text transform="translate(337.7 937.7) scale(1 1.1)" font-size="10.2" text-anchor="end">0.001</text>
<rect x="342.2" y="930.7" width="7.1" height="7.5" fill="url(#gR2)"/>
<text transform="translate(351.5 937.7) scale(1 1.1)" font-size="10.2" text-anchor="start">0.04</text>
<rect x="338.6" y="940.1" width="3.6" height="7.5" fill="url(#gL1)" stroke="#e040e0" stroke-width="1.5"/>
<text transform="translate(334.3 947.1) scale(1 1.1)" font-size="10.2" text-anchor="end">0.022</text>
<rect x="342.2" y="940.1" width="19" height="7.5" fill="url(#gR1)"/>
<rect x="342.7" y="940.6" width="18" height="6.5" fill="none" stroke="#ffffff" stroke-opacity="0.7" stroke-width="0.6" stroke-dasharray="1.5 1.5"/>
<text transform="translate(363.4 947.1) scale(1 1.1)" font-size="10.2" text-anchor="start">0.107</text>
<rect x="180.1" y="949.5" width="162.1" height="7.5" fill="url(#gL0)" stroke="#8a1cf0" stroke-width="1.5"/>
<text transform="translate(175.8 956.5) scale(1 1.1)" font-size="10.2" text-anchor="end">0.997</text>
<rect x="342.2" y="949.5" width="162.3" height="7.5" fill="url(#gR0)"/>
<rect x="342.7" y="950" width="161.3" height="6.5" fill="none" stroke="#ffffff" stroke-opacity="0.7" stroke-width="0.6" stroke-dasharray="1.5 1.5"/>
<text transform="translate(506.7 956.5) scale(1 1.1)" font-size="10.2" text-anchor="start">0.912</text>
<rect x="327.9" y="968.7" width="14.3" height="7.5" fill="url(#gL3)" stroke="#e0a070" stroke-width="1.5"/>
<text transform="translate(323.6 975.7) scale(1 1.1)" font-size="10.2" text-anchor="end">0.088</text>
<rect x="342.2" y="968.7" width="35.6" height="7.5" fill="url(#gR3)"/>
<rect x="342.7" y="969.2" width="34.6" height="6.5" fill="none" stroke="#ffffff" stroke-opacity="0.7" stroke-width="0.6" stroke-dasharray="1.5 1.5"/>
<text transform="translate(380 975.7) scale(1 1.1)" font-size="10.2" text-anchor="start">0.2</text>
<rect x="340.9" y="978.1" width="1.3" height="7.5" fill="url(#gL2)" stroke="#b0f070" stroke-width="1.5"/>
<text transform="translate(336.6 985.1) scale(1 1.1)" font-size="10.2" text-anchor="end">0.008</text>
<rect x="342.2" y="978.1" width="7.1" height="7.5" fill="url(#gR2)"/>
<text transform="translate(351.5 985.1) scale(1 1.1)" font-size="10.2" text-anchor="start">0.04</text>
<rect x="334.9" y="987.5" width="7.3" height="7.5" fill="url(#gL1)" stroke="#e040e0" stroke-width="1.5"/>
<text transform="translate(330.6 994.5) scale(1 1.1)" font-size="10.2" text-anchor="end">0.045</text>
<rect x="342.2" y="987.5" width="19.6" height="7.5" fill="url(#gR1)"/>
<rect x="342.7" y="988" width="18.6" height="6.5" fill="none" stroke="#ffffff" stroke-opacity="0.7" stroke-width="0.6" stroke-dasharray="1.5 1.5"/>
<text transform="translate(364 994.5) scale(1 1.1)" font-size="10.2" text-anchor="start">0.11</text>
<rect x="182.4" y="996.9" width="159.8" height="7.5" fill="url(#gL0)" stroke="#8a1cf0" stroke-width="1.5"/>
<text transform="translate(178.1 1003.9) scale(1 1.1)" font-size="10.2" text-anchor="end">0.983</text>
<rect x="342.2" y="996.9" width="162.3" height="7.5" fill="url(#gR0)"/>
<rect x="342.7" y="997.4" width="161.3" height="6.5" fill="none" stroke="#ffffff" stroke-opacity="0.7" stroke-width="0.6" stroke-dasharray="1.5 1.5"/>
<text transform="translate(506.7 1003.9) scale(1 1.1)" font-size="10.2" text-anchor="start">0.912</text>
<rect x="336.3" y="1016.1" width="5.9" height="7.5" fill="url(#gL3)" stroke="#e0a070" stroke-width="1.5"/>
<text transform="translate(332 1023.1) scale(1 1.1)" font-size="10.2" text-anchor="end">0.036</text>
<rect x="342.2" y="1016.1" width="41.8" height="7.5" fill="url(#gR3)"/>
<rect x="342.7" y="1016.6" width="40.8" height="6.5" fill="none" stroke="#ffffff" stroke-opacity="0.7" stroke-width="0.6" stroke-dasharray="1.5 1.5"/>
<text transform="translate(386.2 1023.1) scale(1 1.1)" font-size="10.2" text-anchor="start">0.235</text>
<rect x="342" y="1025.5" width="0.2" height="7.5" fill="url(#gL2)" stroke="#b0f070" stroke-width="1.5"/>
<text transform="translate(337.7 1032.5) scale(1 1.1)" font-size="10.2" text-anchor="end">0.001</text>
<rect x="342.2" y="1025.5" width="9.8" height="7.5" fill="url(#gR2)"/>
<text transform="translate(354.2 1032.5) scale(1 1.1)" font-size="10.2" text-anchor="start">0.055</text>
<rect x="338.6" y="1034.9" width="3.6" height="7.5" fill="url(#gL1)" stroke="#e040e0" stroke-width="1.5"/>
<text transform="translate(334.3 1041.9) scale(1 1.1)" font-size="10.2" text-anchor="end">0.022</text>
<rect x="342.2" y="1034.9" width="19.9" height="7.5" fill="url(#gR1)"/>
<rect x="342.7" y="1035.4" width="18.9" height="6.5" fill="none" stroke="#ffffff" stroke-opacity="0.7" stroke-width="0.6" stroke-dasharray="1.5 1.5"/>
<text transform="translate(364.3 1041.9) scale(1 1.1)" font-size="10.2" text-anchor="start">0.112</text>
<rect x="180.1" y="1044.3" width="162.1" height="7.5" fill="url(#gL0)" stroke="#8a1cf0" stroke-width="1.5"/>
<text transform="translate(175.8 1051.3) scale(1 1.1)" font-size="10.2" text-anchor="end">0.997</text>
<rect x="342.2" y="1044.3" width="156.8" height="7.5" fill="url(#gR0)"/>
<rect x="342.7" y="1044.8" width="155.8" height="6.5" fill="none" stroke="#ffffff" stroke-opacity="0.7" stroke-width="0.6" stroke-dasharray="1.5 1.5"/>
<text transform="translate(501.2 1051.3) scale(1 1.1)" font-size="10.2" text-anchor="start">0.881</text>
<rect x="339.8" y="1063.5" width="2.4" height="7.5" fill="url(#gL3)" stroke="#e0a070" stroke-width="1.5"/>
<text transform="translate(335.5 1070.5) scale(1 1.1)" font-size="10.2" text-anchor="end">0.015</text>
<rect x="342.2" y="1063.5" width="45" height="7.5" fill="url(#gR3)"/>
<rect x="342.7" y="1064" width="44" height="6.5" fill="none" stroke="#ffffff" stroke-opacity="0.7" stroke-width="0.6" stroke-dasharray="1.5 1.5"/>
<text transform="translate(389.4 1070.5) scale(1 1.1)" font-size="10.2" text-anchor="start">0.253</text>
<text transform="translate(343.5 1079.9) scale(1 1.1)" font-size="10.2" text-anchor="end">0.000</text>
<rect x="342.2" y="1072.9" width="11.4" height="7.5" fill="url(#gR2)"/>
<text transform="translate(355.8 1079.9) scale(1 1.1)" font-size="10.2" text-anchor="start">0.064</text>
<rect x="342" y="1082.3" width="0.2" height="7.5" fill="url(#gL1)" stroke="#e040e0" stroke-width="1.5"/>
<text transform="translate(337.7 1089.3) scale(1 1.1)" font-size="10.2" text-anchor="end">0.001</text>
<rect x="342.2" y="1082.3" width="23.3" height="7.5" fill="url(#gR1)"/>
<rect x="342.7" y="1082.8" width="22.3" height="6.5" fill="none" stroke="#ffffff" stroke-opacity="0.7" stroke-width="0.6" stroke-dasharray="1.5 1.5"/>
<text transform="translate(367.7 1089.3) scale(1 1.1)" font-size="10.2" text-anchor="start">0.131</text>
<rect x="179.6" y="1091.7" width="162.6" height="7.5" fill="url(#gL0)" stroke="#8a1cf0" stroke-width="1.5"/>
<text transform="translate(175.3 1098.7) scale(1 1.1)" font-size="10.2" text-anchor="end">1</text>
<rect x="342.2" y="1091.7" width="152.2" height="7.5" fill="url(#gR0)"/>
<rect x="342.7" y="1092.2" width="151.2" height="6.5" fill="none" stroke="#ffffff" stroke-opacity="0.7" stroke-width="0.6" stroke-dasharray="1.5 1.5"/>
<text transform="translate(496.6 1098.7) scale(1 1.1)" font-size="10.2" text-anchor="start">0.855</text>
<text transform="translate(212.8 845.9) scale(1 1.1)" font-size="12.6" text-anchor="start">ETR</text>
<text transform="translate(439.6 844.8) scale(1 1.1)" font-size="12.6" text-anchor="start">ETR</text>
<text transform="translate(211.1 892.8) scale(1 1.1)" font-size="12.6" text-anchor="start">LGBMR</text>
<text transform="translate(438 891.8) scale(1 1.1)" font-size="12.6" text-anchor="start">LGBMR</text>
<text transform="translate(210.2 939.6) scale(1 1.1)" font-size="12.6" text-anchor="start">XGBR</text>
<text transform="translate(439.9 938.8) scale(1 1.1)" font-size="12.6" text-anchor="start">XGBR</text>
<text transform="translate(208.1 986.5) scale(1 1.1)" font-size="12.6" text-anchor="start">RFR</text>
<text transform="translate(438.9 985.8) scale(1 1.1)" font-size="12.6" text-anchor="start">RFR</text>
<text transform="translate(203.8 1033.3) scale(1 1.1)" font-size="12.6" text-anchor="start">GBR</text>
<text transform="translate(436.8 1032.8) scale(1 1.1)" font-size="12.6" text-anchor="start">GBR</text>
<text transform="translate(205.9 1080.2) scale(1 1.1)" font-size="12.6" text-anchor="start">DTR</text>
<text transform="translate(437.6 1079.8) scale(1 1.1)" font-size="12.6" text-anchor="start">DTR</text>
<line x1="342.2" y1="820.6" x2="342.2" y2="1104.7" stroke="#000" stroke-width="1.1"/>
<rect x="146.9" y="820.6" width="390.7" height="284.1" fill="none" stroke="#000" stroke-width="1.3"/>
<text transform="translate(342.2 1119.3) scale(1 1.1)" font-size="13" text-anchor="middle">0.0</text>
<text transform="translate(309.7 1119.3) scale(1 1.1)" font-size="13" text-anchor="middle">0.2</text>
<text transform="translate(277.2 1119.3) scale(1 1.1)" font-size="13" text-anchor="middle">0.4</text>
<text transform="translate(244.6 1119.3) scale(1 1.1)" font-size="13" text-anchor="middle">0.6</text>
<text transform="translate(212.1 1119.3) scale(1 1.1)" font-size="13" text-anchor="middle">0.8</text>
<text transform="translate(179.6 1119.3) scale(1 1.1)" font-size="13" text-anchor="middle">1.0</text>
<text transform="translate(147.1 1119.3) scale(1 1.1)" font-size="13" text-anchor="middle">1.2</text>
<text transform="translate(377.8 1119.3) scale(1 1.1)" font-size="13" text-anchor="middle">0.2</text>
<text transform="translate(413.4 1119.3) scale(1 1.1)" font-size="13" text-anchor="middle">0.4</text>
<text transform="translate(449 1119.3) scale(1 1.1)" font-size="13" text-anchor="middle">0.6</text>
<text transform="translate(484.6 1119.3) scale(1 1.1)" font-size="13" text-anchor="middle">0.8</text>
<text transform="translate(520.2 1119.3) scale(1 1.1)" font-size="13" text-anchor="middle">1.0</text>
<path d="M342.2 1104.7v3.5M309.7 1104.7v3.5M277.2 1104.7v3.5M244.6 1104.7v3.5M212.1 1104.7v3.5M179.6 1104.7v3.5M147.1 1104.7v3.5M377.8 1104.7v3.5M413.4 1104.7v3.5M449 1104.7v3.5M484.6 1104.7v3.5M520.2 1104.7v3.5M342.2 1104.7v2M342.2 1104.7v2M336.8 1104.7v2M348.1 1104.7v2M331.4 1104.7v2M354.1 1104.7v2M325.9 1104.7v2M360 1104.7v2M320.5 1104.7v2M365.9 1104.7v2M315.1 1104.7v2M371.9 1104.7v2M309.7 1104.7v2M377.8 1104.7v2M304.3 1104.7v2M383.7 1104.7v2M298.8 1104.7v2M389.7 1104.7v2M293.4 1104.7v2M395.6 1104.7v2M288 1104.7v2M401.5 1104.7v2M282.6 1104.7v2M407.5 1104.7v2M277.2 1104.7v2M413.4 1104.7v2M271.7 1104.7v2M419.3 1104.7v2M266.3 1104.7v2M425.3 1104.7v2M260.9 1104.7v2M431.2 1104.7v2M255.5 1104.7v2M437.1 1104.7v2M250.1 1104.7v2M443.1 1104.7v2M244.6 1104.7v2M449 1104.7v2M239.2 1104.7v2M454.9 1104.7v2M233.8 1104.7v2M460.9 1104.7v2M228.4 1104.7v2M466.8 1104.7v2M223 1104.7v2M472.7 1104.7v2M217.5 1104.7v2M478.7 1104.7v2M212.1 1104.7v2M484.6 1104.7v2M206.7 1104.7v2M490.5 1104.7v2M201.3 1104.7v2M496.5 1104.7v2M195.9 1104.7v2M502.4 1104.7v2M190.4 1104.7v2M508.3 1104.7v2M185 1104.7v2M514.3 1104.7v2M179.6 1104.7v2M520.2 1104.7v2M174.2 1104.7v2M526.1 1104.7v2M168.8 1104.7v2M532.1 1104.7v2M163.3 1104.7v2M157.9 1104.7v2M152.5 1104.7v2" stroke="#000" stroke-width="1.1"/>
<text transform="translate(145 796) scale(1 1.0)" font-size="17.6" text-anchor="start">(g)</text>
<text transform="translate(197.8 815.7) scale(1 1.04)" font-size="16.6" text-anchor="start">train_set</text>
<text transform="translate(438.8 815.7) scale(1 1.04)" font-size="16.6" text-anchor="start">test_set</text>
<text x="501.2" y="803.4" font-size="16.2" font-style="italic">&#916;G</text>
<text x="524.6" y="809.6" font-size="14" font-style="italic">H</text>
<rect x="303.7" y="779.6" width="17.9" height="8.2" fill="url(#gL0)" stroke="#8a1cf0" stroke-width="1.2"/>
<text transform="translate(323.6 786.4) scale(1 1.07)" font-size="8.2" text-anchor="start">R<tspan font-size="5.5" dy="-3.2">2</tspan></text>
<rect x="346.1" y="779" width="19" height="9.4" fill="url(#gR0)"/>
<rect x="346.6" y="779.5" width="18" height="8.4" fill="none" stroke="#fff" stroke-opacity="0.7" stroke-width="0.6" stroke-dasharray="1.5 1.5"/>
<text transform="translate(367 786.4) scale(1 1.07)" font-size="8.2" text-anchor="start">R<tspan font-size="5.5" dy="-3.2">2</tspan></text>
<rect x="303.7" y="790" width="17.9" height="8.2" fill="url(#gL1)" stroke="#e040e0" stroke-width="1.2"/>
<text transform="translate(323.6 796.8) scale(1 1.07)" font-size="8.2" text-anchor="start">MAE</text>
<rect x="346.1" y="789.4" width="19" height="9.4" fill="url(#gR1)"/>
<rect x="346.6" y="789.9" width="18" height="8.4" fill="none" stroke="#fff" stroke-opacity="0.7" stroke-width="0.6" stroke-dasharray="1.5 1.5"/>
<text transform="translate(367 796.8) scale(1 1.07)" font-size="8.2" text-anchor="start">MAE</text>
<rect x="303.7" y="799.9" width="17.9" height="8.2" fill="url(#gL2)" stroke="#b0f070" stroke-width="1.2"/>
<text transform="translate(323.6 806.7) scale(1 1.07)" font-size="8.2" text-anchor="start">MSE</text>
<rect x="346.1" y="799.3" width="19" height="9.4" fill="url(#gR2)"/>
<text transform="translate(367 806.7) scale(1 1.07)" font-size="8.2" text-anchor="start">MSE</text>
<rect x="303.7" y="810.2" width="17.9" height="8.2" fill="url(#gL3)" stroke="#e0a070" stroke-width="1.2"/>
<text transform="translate(323.6 817) scale(1 1.07)" font-size="8.2" text-anchor="start">RMSE</text>
<rect x="346.1" y="809.6" width="19" height="9.4" fill="url(#gR3)"/>
<rect x="346.6" y="810.1" width="18" height="8.4" fill="none" stroke="#fff" stroke-opacity="0.7" stroke-width="0.6" stroke-dasharray="1.5 1.5"/>
<text transform="translate(367 817) scale(1 1.07)" font-size="8.2" text-anchor="start">RMSE</text>
</svg></body></html>
